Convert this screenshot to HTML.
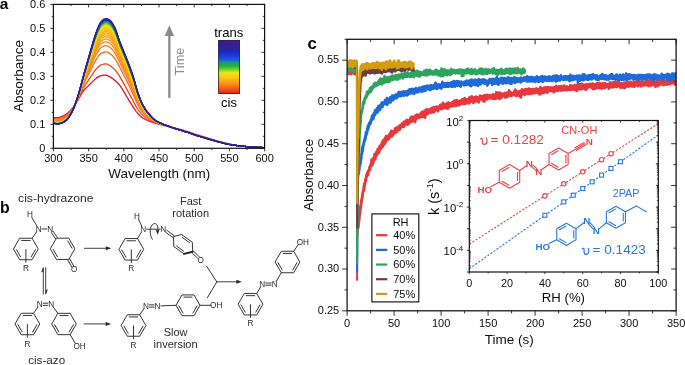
<!DOCTYPE html><html><head><meta charset="utf-8"><style>html,body{margin:0;padding:0;background:#fff;}svg{display:block;will-change:transform;} text{font-family:"Liberation Sans", sans-serif;}</style></head><body>
<svg width="685" height="365" viewBox="0 0 685 365">
<defs>
<clipPath id="clipA"><rect x="53.4" y="2.4" width="211.2" height="145.9"/></clipPath>
<clipPath id="clipC"><rect x="347.1" y="39.3" width="329" height="271.5"/></clipPath>
<clipPath id="clipI"><rect x="469.3" y="120.5" width="189" height="151.5"/></clipPath>
<linearGradient id="cbar" x1="0" y1="0" x2="0" y2="1"><stop offset="0" stop-color="#3f1d86"/><stop offset="0.1" stop-color="#33208f"/><stop offset="0.2" stop-color="#2326b0"/><stop offset="0.3" stop-color="#1b3be8"/><stop offset="0.37" stop-color="#1c62d8"/><stop offset="0.42" stop-color="#189a8a"/><stop offset="0.48" stop-color="#1fb432"/><stop offset="0.54" stop-color="#6ccc22"/><stop offset="0.61" stop-color="#e8e81a"/><stop offset="0.7" stop-color="#f8c812"/><stop offset="0.8" stop-color="#f89a16"/><stop offset="0.9" stop-color="#f26018"/><stop offset="0.97" stop-color="#ec3018"/><stop offset="1" stop-color="#e82416"/></linearGradient>
<linearGradient id="cbarb" x1="0" y1="0" x2="0" y2="1"><stop offset="0" stop-color="#241050"/><stop offset="0.5" stop-color="#104018"/><stop offset="1" stop-color="#800808"/></linearGradient>
</defs>
<rect width="685" height="365" fill="#fff"/>
<g clip-path="url(#clipA)">
<polyline points="53.4,117.6 54.1,117.6 54.81,117.6 55.51,117.6 56.22,117.6 56.92,117.6 57.62,117.6 58.33,117.54 59.03,117.38 59.74,117.15 60.44,116.88 61.14,116.59 61.85,116.32 62.55,116.04 63.26,115.74 63.96,115.41 64.66,115.05 65.37,114.66 66.07,114.23 66.78,113.76 67.48,113.21 68.18,112.59 68.89,111.91 69.59,111.19 70.3,110.44 71,109.68 71.7,108.9 72.41,108.09 73.11,107.23 73.82,106.32 74.52,105.38 75.22,104.39 75.93,103.31 76.63,102.18 77.34,101.02 78.04,99.83 78.74,98.65 79.45,97.44 80.15,96.17 80.86,94.88 81.56,93.63 82.26,92.48 82.97,91.46 83.67,90.58 84.38,89.77 85.08,89.02 85.78,88.3 86.49,87.61 87.19,86.9 87.9,86.21 88.6,85.53 89.3,84.88 90.01,84.22 90.71,83.55 91.42,82.85 92.12,82.11 92.82,81.35 93.53,80.62 94.23,79.95 94.94,79.33 95.64,78.73 96.34,78.16 97.05,77.64 97.75,77.19 98.46,76.8 99.16,76.42 99.86,76.09 100.57,75.81 101.27,75.63 101.98,75.5 102.68,75.39 103.38,75.29 104.09,75.22 104.79,75.17 105.5,75.15 106.2,75.23 106.9,75.43 107.61,75.73 108.31,76.09 109.02,76.46 109.72,76.83 110.42,77.2 111.13,77.62 111.83,78.07 112.54,78.56 113.24,79.07 113.94,79.61 114.65,80.17 115.35,80.76 116.06,81.39 116.76,82.04 117.46,82.74 118.17,83.48 118.87,84.26 119.58,85.09 120.28,86.01 120.98,87.04 121.69,88.13 122.39,89.28 123.1,90.46 123.8,91.64 124.5,92.82 125.21,93.96 125.91,95.11 126.62,96.29 127.32,97.48 128.02,98.67 128.73,99.86 129.43,101.04 130.14,102.19 130.84,103.32 131.54,104.45 132.25,105.6 132.95,106.73 133.66,107.86 134.36,108.94 135.06,109.98 135.77,110.95 136.47,111.85 137.18,112.68 137.88,113.5 138.58,114.28 139.29,115.03 139.99,115.74 140.7,116.39 141.4,116.98 142.1,117.51 142.81,117.97 143.51,118.41 144.22,118.81 144.92,119.2 145.62,119.56 146.33,119.9 147.03,120.22 147.74,120.53 148.44,120.82 149.14,121.11 149.85,121.38 150.55,121.65 151.26,121.91 151.96,122.16 152.66,122.39 153.37,122.62 154.07,122.84 154.78,123.05 155.48,123.26 156.18,123.46 156.89,123.66 157.59,123.86 158.3,124.05 159,124.23 159.7,124.41 160.41,124.59 161.11,124.76 161.82,124.93 162.52,125.1 163.22,125.27 163.93,125.43 164.63,125.6 165.34,125.77 166.04,125.94 166.74,126.11 167.45,126.28 168.15,126.45 168.86,126.61 169.56,126.78 170.26,126.95 170.97,127.13 171.67,127.3 172.38,127.48 173.08,127.66 173.78,127.83 174.49,128.01 175.19,128.19 175.9,128.37 176.6,128.55 177.3,128.74 178.01,128.93 178.71,129.11 179.42,129.3 180.12,129.49 180.82,129.68 181.53,129.88 182.23,130.07 182.94,130.27 183.64,130.47 184.34,130.67 185.05,130.87 185.75,131.08 186.46,131.3 187.16,131.51 187.86,131.74 188.57,131.97 189.27,132.21 189.98,132.45 190.68,132.7 191.38,132.94 192.09,133.19 192.79,133.44 193.5,133.68 194.2,133.91 194.9,134.14 195.61,134.36 196.31,134.59 197.02,134.81 197.72,135.03 198.42,135.24 199.13,135.46 199.83,135.68 200.54,135.89 201.24,136.11 201.94,136.33 202.65,136.55 203.35,136.77 204.06,136.99 204.76,137.22 205.46,137.44 206.17,137.67 206.87,137.89 207.58,138.12 208.28,138.34 208.98,138.56 209.69,138.78 210.39,139 211.1,139.21 211.8,139.43 212.5,139.64 213.21,139.84 213.91,140.05 214.62,140.26 215.32,140.46 216.02,140.67 216.73,140.87 217.43,141.07 218.14,141.26 218.84,141.45 219.54,141.64 220.25,141.82 220.95,142 221.66,142.18 222.36,142.36 223.06,142.53 223.77,142.7 224.47,142.87 225.18,143.03 225.88,143.2 226.58,143.36 227.29,143.52 227.99,143.68 228.7,143.83 229.4,143.98 230.1,144.14 230.81,144.29 231.51,144.45 232.22,144.6 232.92,144.75 233.62,144.9 234.33,145.05 235.03,145.19 235.74,145.32 236.44,145.44 237.14,145.56 237.85,145.66 238.55,145.76 239.26,145.85 239.96,145.93 240.66,146.01 241.37,146.09 242.07,146.17 242.78,146.24 243.48,146.31 244.18,146.38 244.89,146.44 245.59,146.5 246.3,146.56 247,146.62 247.7,146.68 248.41,146.74 249.11,146.79 249.82,146.85 250.52,146.9 251.22,146.96 251.93,147.01 252.63,147.06 253.34,147.1 254.04,147.15 254.74,147.19 255.45,147.23 256.15,147.27 256.86,147.31 257.56,147.34 258.26,147.37 258.97,147.41 259.67,147.44 260.38,147.47 261.08,147.5 261.78,147.53 262.49,147.55 263.19,147.57 263.9,147.58 264.6,147.58" fill="none" stroke="#e61926" stroke-width="1.35" stroke-linejoin="round" />
<polyline points="53.4,118.75 54.1,118.77 54.81,118.8 55.51,118.82 56.22,118.85 56.92,118.86 57.62,118.87 58.33,118.81 59.03,118.66 59.74,118.45 60.44,118.19 61.14,117.92 61.85,117.66 62.55,117.38 63.26,117.07 63.96,116.73 64.66,116.35 65.37,115.94 66.07,115.49 66.78,114.99 67.48,114.39 68.18,113.72 68.89,112.97 69.59,112.16 70.3,111.33 71,110.47 71.7,109.59 72.41,108.66 73.11,107.66 73.82,106.61 74.52,105.51 75.22,104.35 75.93,103.1 76.63,101.78 77.34,100.41 78.04,99.01 78.74,97.6 79.45,96.15 80.15,94.62 80.86,93.07 81.56,91.54 82.26,90.07 82.97,88.73 83.67,87.5 84.38,86.35 85.08,85.25 85.78,84.18 86.49,83.12 87.19,82.07 87.9,81.02 88.6,79.99 89.3,78.97 90.01,77.94 90.71,76.91 91.42,75.86 92.12,74.77 92.82,73.69 93.53,72.64 94.23,71.65 94.94,70.71 95.64,69.8 96.34,68.94 97.05,68.15 97.75,67.45 98.46,66.8 99.16,66.17 99.86,65.62 100.57,65.16 101.27,64.84 101.98,64.6 102.68,64.38 103.38,64.19 104.09,64.04 104.79,63.93 105.5,63.88 106.2,63.94 106.9,64.13 107.61,64.42 108.31,64.76 109.02,65.14 109.72,65.51 110.42,65.91 111.13,66.4 111.83,66.95 112.54,67.56 113.24,68.21 113.94,68.89 114.65,69.61 115.35,70.4 116.06,71.26 116.76,72.18 117.46,73.15 118.17,74.16 118.87,75.21 119.58,76.28 120.28,77.4 120.98,78.58 121.69,79.8 122.39,81.06 123.1,82.35 123.8,83.64 124.5,84.92 125.21,86.19 125.91,87.46 126.62,88.75 127.32,90.06 128.02,91.37 128.73,92.69 129.43,94.01 130.14,95.32 130.84,96.61 131.54,97.91 132.25,99.23 132.95,100.56 133.66,101.9 134.36,103.25 135.06,104.59 135.77,105.89 136.47,107.11 137.18,108.26 137.88,109.35 138.58,110.38 139.29,111.37 139.99,112.31 140.7,113.19 141.4,113.99 142.1,114.71 142.81,115.35 143.51,115.96 144.22,116.52 144.92,117.06 145.62,117.56 146.33,118.04 147.03,118.49 147.74,118.92 148.44,119.33 149.14,119.73 149.85,120.11 150.55,120.49 151.26,120.85 151.96,121.19 152.66,121.52 153.37,121.84 154.07,122.14 154.78,122.42 155.48,122.69 156.18,122.94 156.89,123.18 157.59,123.42 158.3,123.65 159,123.87 159.7,124.08 160.41,124.28 161.11,124.48 161.82,124.68 162.52,124.87 163.22,125.07 163.93,125.26 164.63,125.45 165.34,125.65 166.04,125.84 166.74,126.03 167.45,126.21 168.15,126.4 168.86,126.58 169.56,126.77 170.26,126.95 170.97,127.14 171.67,127.33 172.38,127.51 173.08,127.7 173.78,127.88 174.49,128.07 175.19,128.26 175.9,128.44 176.6,128.63 177.3,128.82 178.01,129.01 178.71,129.21 179.42,129.4 180.12,129.6 180.82,129.8 181.53,129.99 182.23,130.19 182.94,130.39 183.64,130.6 184.34,130.8 185.05,131.01 185.75,131.22 186.46,131.44 187.16,131.65 187.86,131.88 188.57,132.11 189.27,132.35 189.98,132.6 190.68,132.84 191.38,133.09 192.09,133.34 192.79,133.58 193.5,133.82 194.2,134.05 194.9,134.28 195.61,134.51 196.31,134.73 197.02,134.95 197.72,135.17 198.42,135.39 199.13,135.61 199.83,135.82 200.54,136.04 201.24,136.26 201.94,136.47 202.65,136.69 203.35,136.91 204.06,137.13 204.76,137.35 205.46,137.57 206.17,137.79 206.87,138.01 207.58,138.23 208.28,138.45 208.98,138.67 209.69,138.89 210.39,139.1 211.1,139.31 211.8,139.52 212.5,139.73 213.21,139.94 213.91,140.15 214.62,140.35 215.32,140.56 216.02,140.76 216.73,140.96 217.43,141.16 218.14,141.36 218.84,141.55 219.54,141.74 220.25,141.92 220.95,142.1 221.66,142.28 222.36,142.46 223.06,142.63 223.77,142.8 224.47,142.97 225.18,143.14 225.88,143.3 226.58,143.47 227.29,143.62 227.99,143.78 228.7,143.93 229.4,144.08 230.1,144.23 230.81,144.37 231.51,144.52 232.22,144.66 232.92,144.81 233.62,144.95 234.33,145.08 235.03,145.21 235.74,145.34 236.44,145.45 237.14,145.56 237.85,145.66 238.55,145.75 239.26,145.84 239.96,145.93 240.66,146.01 241.37,146.09 242.07,146.16 242.78,146.24 243.48,146.31 244.18,146.37 244.89,146.44 245.59,146.5 246.3,146.56 247,146.62 247.7,146.68 248.41,146.74 249.11,146.79 249.82,146.85 250.52,146.9 251.22,146.96 251.93,147.01 252.63,147.06 253.34,147.1 254.04,147.15 254.74,147.19 255.45,147.23 256.15,147.27 256.86,147.31 257.56,147.34 258.26,147.37 258.97,147.41 259.67,147.44 260.38,147.47 261.08,147.5 261.78,147.53 262.49,147.55 263.19,147.57 263.9,147.58 264.6,147.58" fill="none" stroke="#f04820" stroke-width="1.35" stroke-linejoin="round" />
<polyline points="53.4,119.97 54.1,120.02 54.81,120.07 55.51,120.12 56.22,120.17 56.92,120.2 57.62,120.21 58.33,120.16 59.03,120.03 59.74,119.83 60.44,119.59 61.14,119.34 61.85,119.09 62.55,118.81 63.26,118.49 63.96,118.14 64.66,117.74 65.37,117.3 66.07,116.82 66.78,116.29 67.48,115.65 68.18,114.91 68.89,114.09 69.59,113.2 70.3,112.27 71,111.31 71.7,110.33 72.41,109.26 73.11,108.12 73.82,106.91 74.52,105.64 75.22,104.31 75.93,102.88 76.63,101.35 77.34,99.76 78.04,98.13 78.74,96.49 79.45,94.78 80.15,92.98 80.86,91.14 81.56,89.31 82.26,87.52 82.97,85.82 83.67,84.24 84.38,82.72 85.08,81.24 85.78,79.79 86.49,78.35 87.19,76.92 87.9,75.49 88.6,74.08 89.3,72.68 90.01,71.27 90.71,69.85 91.42,68.41 92.12,66.97 92.82,65.53 93.53,64.15 94.23,62.83 94.94,61.55 95.64,60.31 96.34,59.13 97.05,58.05 97.75,57.08 98.46,56.16 99.16,55.27 99.86,54.48 100.57,53.82 101.27,53.35 101.98,53 102.68,52.68 103.38,52.39 104.09,52.15 104.79,51.98 105.5,51.9 106.2,51.94 106.9,52.11 107.61,52.38 108.31,52.72 109.02,53.09 109.72,53.47 110.42,53.91 111.13,54.47 111.83,55.12 112.54,55.86 113.24,56.66 113.94,57.5 114.65,58.38 115.35,59.37 116.06,60.49 116.76,61.68 117.46,62.95 118.17,64.26 118.87,65.58 119.58,66.91 120.28,68.24 120.98,69.58 121.69,70.94 122.39,72.32 123.1,73.72 123.8,75.12 124.5,76.52 125.21,77.92 125.91,79.32 126.62,80.73 127.32,82.16 128.02,83.61 128.73,85.07 129.43,86.54 130.14,88.01 130.84,89.47 131.54,90.95 132.25,92.46 132.95,94 133.66,95.57 134.36,97.2 135.06,98.86 135.77,100.49 136.47,102.07 137.18,103.55 137.88,104.93 138.58,106.23 139.29,107.48 139.99,108.66 140.7,109.78 141.4,110.81 142.1,111.74 142.81,112.57 143.51,113.35 144.22,114.09 144.92,114.78 145.62,115.44 146.33,116.06 147.03,116.65 147.74,117.21 148.44,117.75 149.14,118.26 149.85,118.76 150.55,119.25 151.26,119.72 151.96,120.17 152.66,120.6 153.37,121.01 154.07,121.39 154.78,121.75 155.48,122.08 156.18,122.38 156.89,122.68 157.59,122.96 158.3,123.22 159,123.48 159.7,123.72 160.41,123.95 161.11,124.18 161.82,124.41 162.52,124.63 163.22,124.85 163.93,125.07 164.63,125.29 165.34,125.51 166.04,125.72 166.74,125.93 167.45,126.14 168.15,126.35 168.86,126.55 169.56,126.75 170.26,126.95 170.97,127.16 171.67,127.35 172.38,127.55 173.08,127.75 173.78,127.94 174.49,128.13 175.19,128.33 175.9,128.52 176.6,128.72 177.3,128.91 178.01,129.11 178.71,129.31 179.42,129.51 180.12,129.71 180.82,129.92 181.53,130.12 182.23,130.32 182.94,130.53 183.64,130.73 184.34,130.94 185.05,131.15 185.75,131.37 186.46,131.59 187.16,131.81 187.86,132.03 188.57,132.27 189.27,132.51 189.98,132.75 190.68,133 191.38,133.24 192.09,133.49 192.79,133.73 193.5,133.97 194.2,134.21 194.9,134.43 195.61,134.66 196.31,134.88 197.02,135.11 197.72,135.33 198.42,135.54 199.13,135.76 199.83,135.98 200.54,136.2 201.24,136.41 201.94,136.63 202.65,136.84 203.35,137.06 204.06,137.28 204.76,137.49 205.46,137.71 206.17,137.93 206.87,138.14 207.58,138.36 208.28,138.57 208.98,138.78 209.69,139 210.39,139.21 211.1,139.42 211.8,139.62 212.5,139.83 213.21,140.04 213.91,140.24 214.62,140.45 215.32,140.66 216.02,140.86 216.73,141.06 217.43,141.26 218.14,141.46 218.84,141.65 219.54,141.84 220.25,142.02 220.95,142.2 221.66,142.38 222.36,142.56 223.06,142.74 223.77,142.91 224.47,143.08 225.18,143.25 225.88,143.42 226.58,143.58 227.29,143.74 227.99,143.89 228.7,144.04 229.4,144.18 230.1,144.32 230.81,144.46 231.51,144.6 232.22,144.73 232.92,144.86 233.62,144.99 234.33,145.12 235.03,145.24 235.74,145.35 236.44,145.46 237.14,145.57 237.85,145.66 238.55,145.75 239.26,145.84 239.96,145.92 240.66,146.01 241.37,146.08 242.07,146.16 242.78,146.23 243.48,146.3 244.18,146.37 244.89,146.44 245.59,146.5 246.3,146.56 247,146.62 247.7,146.68 248.41,146.74 249.11,146.79 249.82,146.85 250.52,146.9 251.22,146.96 251.93,147.01 252.63,147.06 253.34,147.1 254.04,147.15 254.74,147.19 255.45,147.23 256.15,147.27 256.86,147.31 257.56,147.34 258.26,147.37 258.97,147.41 259.67,147.44 260.38,147.47 261.08,147.5 261.78,147.53 262.49,147.55 263.19,147.57 263.9,147.58 264.6,147.58" fill="none" stroke="#f56c1c" stroke-width="1.35" stroke-linejoin="round" />
<polyline points="53.4,120.6 54.1,120.66 54.81,120.73 55.51,120.8 56.22,120.86 56.92,120.9 57.62,120.91 58.33,120.87 59.03,120.74 59.74,120.55 60.44,120.32 61.14,120.07 61.85,119.83 62.55,119.55 63.26,119.23 63.96,118.87 64.66,118.46 65.37,118.01 66.07,117.52 66.78,116.97 67.48,116.31 68.18,115.53 68.89,114.67 69.59,113.74 70.3,112.76 71,111.75 71.7,110.71 72.41,109.58 73.11,108.36 73.82,107.07 74.52,105.72 75.22,104.29 75.93,102.76 76.63,101.13 77.34,99.43 78.04,97.68 78.74,95.9 79.45,94.06 80.15,92.13 80.86,90.14 81.56,88.15 82.26,86.19 82.97,84.31 83.67,82.54 84.38,80.83 85.08,79.15 85.78,77.51 86.49,75.87 87.19,74.24 87.9,72.62 88.6,71.01 89.3,69.41 90.01,67.8 90.71,66.17 91.42,64.54 92.12,62.91 92.82,61.29 93.53,59.73 94.23,58.24 94.94,56.79 95.64,55.37 96.34,54.03 97.05,52.79 97.75,51.69 98.46,50.62 99.16,49.61 99.86,48.69 100.57,47.93 101.27,47.38 101.98,46.97 102.68,46.59 103.38,46.25 104.09,45.97 104.79,45.77 105.5,45.66 106.2,45.7 106.9,45.86 107.61,46.12 108.31,46.45 109.02,46.82 109.72,47.21 110.42,47.66 111.13,48.26 111.83,48.97 112.54,49.78 113.24,50.65 113.94,51.57 114.65,52.54 115.35,53.64 116.06,54.88 116.76,56.23 117.46,57.64 118.17,59.11 118.87,60.58 119.58,62.04 120.28,63.48 120.98,64.9 121.69,66.34 122.39,67.78 123.1,69.23 123.8,70.69 124.5,72.15 125.21,73.61 125.91,75.08 126.62,76.56 127.32,78.06 128.02,79.57 128.73,81.11 129.43,82.65 130.14,84.2 130.84,85.75 131.54,87.33 132.25,88.94 132.95,90.58 133.66,92.27 134.36,94.05 135.06,95.87 135.77,97.69 136.47,99.45 137.18,101.1 137.88,102.64 138.58,104.07 139.29,105.45 139.99,106.77 140.7,108.01 141.4,109.15 142.1,110.19 142.81,111.12 143.51,112 144.22,112.82 144.92,113.6 145.62,114.33 146.33,115.03 147.03,115.69 147.74,116.32 148.44,116.92 149.14,117.5 149.85,118.06 150.55,118.61 151.26,119.13 151.96,119.64 152.66,120.12 153.37,120.57 154.07,121 154.78,121.4 155.48,121.76 156.18,122.1 156.89,122.41 157.59,122.71 158.3,123 159,123.27 159.7,123.53 160.41,123.78 161.11,124.03 161.82,124.27 162.52,124.5 163.22,124.74 163.93,124.98 164.63,125.21 165.34,125.44 166.04,125.67 166.74,125.89 167.45,126.11 168.15,126.32 168.86,126.53 169.56,126.74 170.26,126.95 170.97,127.16 171.67,127.37 172.38,127.57 173.08,127.77 173.78,127.97 174.49,128.17 175.19,128.36 175.9,128.56 176.6,128.76 177.3,128.96 178.01,129.16 178.71,129.36 179.42,129.57 180.12,129.77 180.82,129.98 181.53,130.18 182.23,130.39 182.94,130.6 183.64,130.81 184.34,131.02 185.05,131.23 185.75,131.45 186.46,131.66 187.16,131.89 187.86,132.11 188.57,132.35 189.27,132.59 189.98,132.83 190.68,133.08 191.38,133.33 192.09,133.57 192.79,133.81 193.5,134.05 194.2,134.28 194.9,134.51 195.61,134.74 196.31,134.96 197.02,135.19 197.72,135.41 198.42,135.63 199.13,135.84 199.83,136.06 200.54,136.28 201.24,136.49 201.94,136.71 202.65,136.92 203.35,137.14 204.06,137.35 204.76,137.57 205.46,137.78 206.17,138 206.87,138.21 207.58,138.42 208.28,138.63 208.98,138.84 209.69,139.05 210.39,139.26 211.1,139.47 211.8,139.68 212.5,139.88 213.21,140.09 213.91,140.3 214.62,140.5 215.32,140.71 216.02,140.91 216.73,141.11 217.43,141.31 218.14,141.51 218.84,141.7 219.54,141.89 220.25,142.07 220.95,142.26 221.66,142.44 222.36,142.62 223.06,142.79 223.77,142.97 224.47,143.14 225.18,143.31 225.88,143.48 226.58,143.64 227.29,143.79 227.99,143.95 228.7,144.09 229.4,144.23 230.1,144.37 230.81,144.5 231.51,144.64 232.22,144.77 232.92,144.89 233.62,145.02 234.33,145.14 235.03,145.25 235.74,145.36 236.44,145.47 237.14,145.57 237.85,145.66 238.55,145.75 239.26,145.84 239.96,145.92 240.66,146 241.37,146.08 242.07,146.16 242.78,146.23 243.48,146.3 244.18,146.37 244.89,146.44 245.59,146.5 246.3,146.56 247,146.62 247.7,146.68 248.41,146.74 249.11,146.79 249.82,146.85 250.52,146.9 251.22,146.96 251.93,147.01 252.63,147.06 253.34,147.1 254.04,147.15 254.74,147.19 255.45,147.23 256.15,147.27 256.86,147.31 257.56,147.34 258.26,147.37 258.97,147.41 259.67,147.44 260.38,147.47 261.08,147.5 261.78,147.53 262.49,147.55 263.19,147.57 263.9,147.58 264.6,147.58" fill="none" stroke="#f67e19" stroke-width="1.35" stroke-linejoin="round" />
<polyline points="53.4,120.99 54.1,121.06 54.81,121.14 55.51,121.22 56.22,121.28 56.92,121.33 57.62,121.34 58.33,121.3 59.03,121.17 59.74,120.99 60.44,120.76 61.14,120.52 61.85,120.28 62.55,120.01 63.26,119.69 63.96,119.32 64.66,118.9 65.37,118.44 66.07,117.94 66.78,117.39 67.48,116.71 68.18,115.92 68.89,115.03 69.59,114.07 70.3,113.06 71,112.02 71.7,110.95 72.41,109.77 73.11,108.51 73.82,107.17 74.52,105.76 75.22,104.28 75.93,102.69 76.63,100.99 77.34,99.22 78.04,97.4 78.74,95.55 79.45,93.63 80.15,91.6 80.86,89.52 81.56,87.43 82.26,85.37 82.97,83.38 83.67,81.49 84.38,79.66 85.08,77.87 85.78,76.1 86.49,74.35 87.19,72.6 87.9,70.85 88.6,69.13 89.3,67.4 90.01,65.66 90.71,63.91 91.42,62.16 92.12,60.41 92.82,58.68 93.53,57.01 94.23,55.42 94.94,53.86 95.64,52.33 96.34,50.89 97.05,49.56 97.75,48.37 98.46,47.22 99.16,46.12 99.86,45.12 100.57,44.3 101.27,43.71 101.98,43.26 102.68,42.84 103.38,42.47 104.09,42.16 104.79,41.94 105.5,41.83 106.2,41.86 106.9,42.01 107.61,42.27 108.31,42.6 109.02,42.97 109.72,43.35 110.42,43.82 111.13,44.44 111.83,45.19 112.54,46.04 113.24,46.96 113.94,47.93 114.65,48.94 115.35,50.11 116.06,51.44 116.76,52.87 117.46,54.38 118.17,55.94 118.87,57.5 119.58,59.04 120.28,60.55 120.98,62.02 121.69,63.5 122.39,64.98 123.1,66.47 123.8,67.97 124.5,69.46 125.21,70.97 125.91,72.48 126.62,73.99 127.32,75.53 128.02,77.09 128.73,78.67 129.43,80.26 130.14,81.86 130.84,83.47 131.54,85.1 132.25,86.77 132.95,88.48 133.66,90.25 134.36,92.11 135.06,94.04 135.77,95.97 136.47,97.83 137.18,99.6 137.88,101.22 138.58,102.74 139.29,104.21 139.99,105.6 140.7,106.92 141.4,108.14 142.1,109.24 142.81,110.23 143.51,111.16 144.22,112.04 144.92,112.87 145.62,113.66 146.33,114.4 147.03,115.1 147.74,115.77 148.44,116.41 149.14,117.03 149.85,117.63 150.55,118.21 151.26,118.77 151.96,119.31 152.66,119.82 153.37,120.31 154.07,120.76 154.78,121.18 155.48,121.57 156.18,121.92 156.89,122.25 157.59,122.57 158.3,122.86 159,123.15 159.7,123.42 160.41,123.68 161.11,123.93 161.82,124.18 162.52,124.43 163.22,124.67 163.93,124.92 164.63,125.16 165.34,125.4 166.04,125.63 166.74,125.86 167.45,126.08 168.15,126.3 168.86,126.52 169.56,126.74 170.26,126.95 170.97,127.17 171.67,127.38 172.38,127.58 173.08,127.78 173.78,127.99 174.49,128.19 175.19,128.39 175.9,128.59 176.6,128.79 177.3,128.99 178.01,129.19 178.71,129.4 179.42,129.6 180.12,129.81 180.82,130.02 181.53,130.22 182.23,130.43 182.94,130.64 183.64,130.85 184.34,131.06 185.05,131.28 185.75,131.49 186.46,131.71 187.16,131.94 187.86,132.16 188.57,132.4 189.27,132.64 189.98,132.88 190.68,133.13 191.38,133.37 192.09,133.62 192.79,133.86 193.5,134.1 194.2,134.33 194.9,134.56 195.61,134.79 196.31,135.01 197.02,135.23 197.72,135.46 198.42,135.67 199.13,135.89 199.83,136.11 200.54,136.33 201.24,136.54 201.94,136.76 202.65,136.97 203.35,137.19 204.06,137.4 204.76,137.61 205.46,137.83 206.17,138.04 206.87,138.25 207.58,138.46 208.28,138.67 208.98,138.88 209.69,139.09 210.39,139.3 211.1,139.5 211.8,139.71 212.5,139.91 213.21,140.12 213.91,140.33 214.62,140.53 215.32,140.74 216.02,140.94 216.73,141.14 217.43,141.34 218.14,141.54 218.84,141.73 219.54,141.92 220.25,142.11 220.95,142.29 221.66,142.47 222.36,142.65 223.06,142.83 223.77,143 224.47,143.18 225.18,143.35 225.88,143.51 226.58,143.67 227.29,143.83 227.99,143.98 228.7,144.13 229.4,144.27 230.1,144.4 230.81,144.53 231.51,144.66 232.22,144.79 232.92,144.91 233.62,145.03 234.33,145.15 235.03,145.26 235.74,145.37 236.44,145.47 237.14,145.57 237.85,145.66 238.55,145.75 239.26,145.84 239.96,145.92 240.66,146 241.37,146.08 242.07,146.16 242.78,146.23 243.48,146.3 244.18,146.37 244.89,146.44 245.59,146.5 246.3,146.56 247,146.62 247.7,146.68 248.41,146.74 249.11,146.79 249.82,146.85 250.52,146.9 251.22,146.96 251.93,147.01 252.63,147.06 253.34,147.1 254.04,147.15 254.74,147.19 255.45,147.23 256.15,147.27 256.86,147.31 257.56,147.34 258.26,147.37 258.97,147.41 259.67,147.44 260.38,147.47 261.08,147.5 261.78,147.53 262.49,147.55 263.19,147.57 263.9,147.58 264.6,147.58" fill="none" stroke="#f78a17" stroke-width="1.35" stroke-linejoin="round" />
<polyline points="53.4,121.28 54.1,121.36 54.81,121.45 55.51,121.53 56.22,121.6 56.92,121.65 57.62,121.67 58.33,121.62 59.03,121.5 59.74,121.32 60.44,121.1 61.14,120.86 61.85,120.63 62.55,120.35 63.26,120.03 63.96,119.66 64.66,119.24 65.37,118.77 66.07,118.26 66.78,117.7 67.48,117.01 68.18,116.2 68.89,115.3 69.59,114.32 70.3,113.29 71,112.22 71.7,111.12 72.41,109.92 73.11,108.62 73.82,107.24 74.52,105.79 75.22,104.27 75.93,102.63 76.63,100.89 77.34,99.07 78.04,97.19 78.74,95.28 79.45,93.3 80.15,91.21 80.86,89.06 81.56,86.9 82.26,84.76 82.97,82.69 83.67,80.71 84.38,78.79 85.08,76.91 85.78,75.05 86.49,73.2 87.19,71.36 87.9,69.53 88.6,67.71 89.3,65.89 90.01,64.06 90.71,62.22 91.42,60.37 92.12,58.53 92.82,56.73 93.53,54.97 94.23,53.3 94.94,51.66 95.64,50.05 96.34,48.53 97.05,47.14 97.75,45.88 98.46,44.67 99.16,43.5 99.86,42.45 100.57,41.58 101.27,40.95 101.98,40.48 102.68,40.03 103.38,39.63 104.09,39.31 104.79,39.08 105.5,38.95 106.2,38.97 106.9,39.13 107.61,39.38 108.31,39.71 109.02,40.07 109.72,40.46 110.42,40.94 111.13,41.58 111.83,42.35 112.54,43.23 113.24,44.19 113.94,45.19 114.65,46.25 115.35,47.47 116.06,48.85 116.76,50.35 117.46,51.93 118.17,53.56 118.87,55.19 119.58,56.79 120.28,58.35 120.98,59.86 121.69,61.37 122.39,62.89 123.1,64.4 123.8,65.92 124.5,67.45 125.21,68.98 125.91,70.52 126.62,72.07 127.32,73.64 128.02,75.22 128.73,76.84 129.43,78.47 130.14,80.11 130.84,81.75 131.54,83.43 132.25,85.15 132.95,86.91 133.66,88.73 134.36,90.66 135.06,92.66 135.77,94.67 136.47,96.62 137.18,98.47 137.88,100.16 138.58,101.74 139.29,103.27 139.99,104.73 140.7,106.1 141.4,107.37 142.1,108.53 142.81,109.57 143.51,110.54 144.22,111.46 144.92,112.33 145.62,113.15 146.33,113.92 147.03,114.66 147.74,115.36 148.44,116.03 149.14,116.68 149.85,117.3 150.55,117.91 151.26,118.5 151.96,119.06 152.66,119.6 153.37,120.11 154.07,120.58 154.78,121.02 155.48,121.42 156.18,121.79 156.89,122.13 157.59,122.45 158.3,122.76 159,123.05 159.7,123.33 160.41,123.6 161.11,123.86 161.82,124.12 162.52,124.37 163.22,124.62 163.93,124.87 164.63,125.12 165.34,125.36 166.04,125.6 166.74,125.84 167.45,126.07 168.15,126.29 168.86,126.52 169.56,126.74 170.26,126.95 170.97,127.17 171.67,127.38 172.38,127.59 173.08,127.8 173.78,128 174.49,128.2 175.19,128.4 175.9,128.6 176.6,128.81 177.3,129.01 178.01,129.21 178.71,129.42 179.42,129.63 180.12,129.84 180.82,130.04 181.53,130.25 182.23,130.46 182.94,130.67 183.64,130.88 184.34,131.09 185.05,131.31 185.75,131.53 186.46,131.75 187.16,131.97 187.86,132.2 188.57,132.44 189.27,132.68 189.98,132.92 190.68,133.17 191.38,133.41 192.09,133.66 192.79,133.9 193.5,134.14 194.2,134.37 194.9,134.6 195.61,134.83 196.31,135.05 197.02,135.27 197.72,135.49 198.42,135.71 199.13,135.93 199.83,136.15 200.54,136.36 201.24,136.58 201.94,136.79 202.65,137.01 203.35,137.22 204.06,137.44 204.76,137.65 205.46,137.86 206.17,138.07 206.87,138.28 207.58,138.49 208.28,138.7 208.98,138.91 209.69,139.12 210.39,139.32 211.1,139.53 211.8,139.73 212.5,139.94 213.21,140.14 213.91,140.35 214.62,140.56 215.32,140.76 216.02,140.97 216.73,141.17 217.43,141.37 218.14,141.57 218.84,141.76 219.54,141.95 220.25,142.13 220.95,142.31 221.66,142.49 222.36,142.67 223.06,142.85 223.77,143.03 224.47,143.2 225.18,143.37 225.88,143.54 226.58,143.7 227.29,143.86 227.99,144.01 228.7,144.15 229.4,144.29 230.1,144.42 230.81,144.55 231.51,144.68 232.22,144.8 232.92,144.93 233.62,145.04 234.33,145.16 235.03,145.27 235.74,145.37 236.44,145.47 237.14,145.57 237.85,145.66 238.55,145.75 239.26,145.84 239.96,145.92 240.66,146 241.37,146.08 242.07,146.15 242.78,146.23 243.48,146.3 244.18,146.37 244.89,146.44 245.59,146.5 246.3,146.56 247,146.62 247.7,146.68 248.41,146.74 249.11,146.79 249.82,146.85 250.52,146.9 251.22,146.96 251.93,147.01 252.63,147.06 253.34,147.1 254.04,147.15 254.74,147.19 255.45,147.23 256.15,147.27 256.86,147.31 257.56,147.34 258.26,147.37 258.97,147.41 259.67,147.44 260.38,147.47 261.08,147.5 261.78,147.53 262.49,147.55 263.19,147.57 263.9,147.58 264.6,147.58" fill="none" stroke="#f89416" stroke-width="1.35" stroke-linejoin="round" />
<polyline points="53.4,121.53 54.1,121.61 54.81,121.7 55.51,121.79 56.22,121.86 56.92,121.92 57.62,121.94 58.33,121.89 59.03,121.77 59.74,121.59 60.44,121.38 61.14,121.15 61.85,120.91 62.55,120.64 63.26,120.31 63.96,119.94 64.66,119.51 65.37,119.04 66.07,118.53 66.78,117.96 67.48,117.26 68.18,116.44 68.89,115.52 69.59,114.53 70.3,113.48 71,112.39 71.7,111.27 72.41,110.04 73.11,108.72 73.82,107.3 74.52,105.82 75.22,104.26 75.93,102.59 76.63,100.8 77.34,98.94 78.04,97.01 78.74,95.05 79.45,93.02 80.15,90.88 80.86,88.68 81.56,86.45 82.26,84.25 82.97,82.1 83.67,80.05 84.38,78.06 85.08,76.11 85.78,74.17 86.49,72.25 87.19,70.33 87.9,68.42 88.6,66.53 89.3,64.64 90.01,62.73 90.71,60.8 91.42,58.88 92.12,56.97 92.82,55.09 93.53,53.28 94.23,51.54 94.94,49.82 95.64,48.16 96.34,46.57 97.05,45.12 97.75,43.81 98.46,42.54 99.16,41.32 99.86,40.22 100.57,39.31 101.27,38.65 101.98,38.16 102.68,37.69 103.38,37.27 104.09,36.93 104.79,36.68 105.5,36.55 106.2,36.57 106.9,36.72 107.61,36.97 108.31,37.3 109.02,37.66 109.72,38.05 110.42,38.54 111.13,39.19 111.83,39.99 112.54,40.89 113.24,41.88 113.94,42.91 114.65,44 115.35,45.26 116.06,46.7 116.76,48.25 117.46,49.89 118.17,51.58 118.87,53.27 119.58,54.92 120.28,56.52 120.98,58.06 121.69,59.6 122.39,61.14 123.1,62.68 123.8,64.22 124.5,65.77 125.21,67.33 125.91,68.89 126.62,70.47 127.32,72.06 128.02,73.67 128.73,75.31 129.43,76.97 130.14,78.64 130.84,80.32 131.54,82.04 132.25,83.79 132.95,85.59 133.66,87.46 134.36,89.45 135.06,91.52 135.77,93.59 136.47,95.61 137.18,97.53 137.88,99.28 138.58,100.91 139.29,102.49 139.99,104 140.7,105.42 141.4,106.74 142.1,107.93 142.81,109.01 143.51,110.02 144.22,110.97 144.92,111.87 145.62,112.72 146.33,113.53 147.03,114.29 147.74,115.02 148.44,115.72 149.14,116.38 149.85,117.03 150.55,117.67 151.26,118.28 151.96,118.86 152.66,119.42 153.37,119.94 154.07,120.43 154.78,120.88 155.48,121.3 156.18,121.67 156.89,122.03 157.59,122.36 158.3,122.68 159,122.97 159.7,123.26 160.41,123.53 161.11,123.8 161.82,124.06 162.52,124.32 163.22,124.58 163.93,124.84 164.63,125.09 165.34,125.34 166.04,125.58 166.74,125.82 167.45,126.05 168.15,126.28 168.86,126.51 169.56,126.73 170.26,126.95 170.97,127.17 171.67,127.39 172.38,127.6 173.08,127.81 173.78,128.01 174.49,128.21 175.19,128.42 175.9,128.62 176.6,128.82 177.3,129.03 178.01,129.23 178.71,129.44 179.42,129.65 180.12,129.86 180.82,130.07 181.53,130.28 182.23,130.49 182.94,130.7 183.64,130.91 184.34,131.12 185.05,131.34 185.75,131.56 186.46,131.78 187.16,132 187.86,132.23 188.57,132.47 189.27,132.71 189.98,132.95 190.68,133.2 191.38,133.44 192.09,133.69 192.79,133.93 193.5,134.17 194.2,134.4 194.9,134.63 195.61,134.86 196.31,135.08 197.02,135.3 197.72,135.52 198.42,135.74 199.13,135.96 199.83,136.18 200.54,136.39 201.24,136.61 201.94,136.82 202.65,137.04 203.35,137.25 204.06,137.47 204.76,137.68 205.46,137.89 206.17,138.1 206.87,138.31 207.58,138.52 208.28,138.72 208.98,138.93 209.69,139.14 210.39,139.34 211.1,139.55 211.8,139.75 212.5,139.96 213.21,140.16 213.91,140.37 214.62,140.58 215.32,140.78 216.02,140.99 216.73,141.19 217.43,141.39 218.14,141.59 218.84,141.78 219.54,141.97 220.25,142.15 220.95,142.33 221.66,142.51 222.36,142.7 223.06,142.87 223.77,143.05 224.47,143.22 225.18,143.39 225.88,143.56 226.58,143.72 227.29,143.88 227.99,144.03 228.7,144.17 229.4,144.31 230.1,144.44 230.81,144.57 231.51,144.7 232.22,144.82 232.92,144.94 233.62,145.05 234.33,145.16 235.03,145.27 235.74,145.38 236.44,145.48 237.14,145.57 237.85,145.66 238.55,145.75 239.26,145.84 239.96,145.92 240.66,146 241.37,146.08 242.07,146.15 242.78,146.23 243.48,146.3 244.18,146.37 244.89,146.44 245.59,146.5 246.3,146.56 247,146.62 247.7,146.68 248.41,146.74 249.11,146.79 249.82,146.85 250.52,146.9 251.22,146.96 251.93,147.01 252.63,147.06 253.34,147.1 254.04,147.15 254.74,147.19 255.45,147.23 256.15,147.27 256.86,147.31 257.56,147.34 258.26,147.37 258.97,147.41 259.67,147.44 260.38,147.47 261.08,147.5 261.78,147.53 262.49,147.55 263.19,147.57 263.9,147.58 264.6,147.58" fill="none" stroke="#f99d15" stroke-width="1.35" stroke-linejoin="round" />
<polyline points="53.4,121.72 54.1,121.81 54.81,121.9 55.51,122 56.22,122.08 56.92,122.13 57.62,122.15 58.33,122.11 59.03,121.99 59.74,121.82 60.44,121.6 61.14,121.37 61.85,121.14 62.55,120.87 63.26,120.54 63.96,120.16 64.66,119.74 65.37,119.26 66.07,118.74 66.78,118.17 67.48,117.46 68.18,116.64 68.89,115.7 69.59,114.69 70.3,113.63 71,112.53 71.7,111.39 72.41,110.14 73.11,108.79 73.82,107.35 74.52,105.84 75.22,104.26 75.93,102.55 76.63,100.73 77.34,98.83 78.04,96.87 78.74,94.88 79.45,92.8 80.15,90.62 80.86,88.37 81.56,86.09 82.26,83.84 82.97,81.64 83.67,79.53 84.38,77.48 85.08,75.46 85.78,73.47 86.49,71.49 87.19,69.51 87.9,67.54 88.6,65.58 89.3,63.63 90.01,61.66 90.71,59.67 91.42,57.69 92.12,55.72 92.82,53.79 93.53,51.92 94.23,50.13 94.94,48.36 95.64,46.64 96.34,45 97.05,43.5 97.75,42.15 98.46,40.84 99.16,39.58 99.86,38.44 100.57,37.5 101.27,36.82 101.98,36.3 102.68,35.81 103.38,35.38 104.09,35.03 104.79,34.77 105.5,34.64 106.2,34.65 106.9,34.8 107.61,35.05 108.31,35.37 109.02,35.74 109.72,36.13 110.42,36.62 111.13,37.28 111.83,38.09 112.54,39.02 113.24,40.03 113.94,41.09 114.65,42.2 115.35,43.5 116.06,44.97 116.76,46.57 117.46,48.26 118.17,49.99 118.87,51.73 119.58,53.42 120.28,55.05 120.98,56.62 121.69,58.18 122.39,59.74 123.1,61.29 123.8,62.85 124.5,64.43 125.21,66.01 125.91,67.59 126.62,69.18 127.32,70.79 128.02,72.43 128.73,74.09 129.43,75.78 130.14,77.47 130.84,79.18 131.54,80.92 132.25,82.71 132.95,84.54 133.66,86.45 134.36,88.48 135.06,90.6 135.77,92.73 136.47,94.81 137.18,96.77 137.88,98.58 138.58,100.25 139.29,101.87 139.99,103.41 140.7,104.87 141.4,106.23 142.1,107.46 142.81,108.56 143.51,109.6 144.22,110.58 144.92,111.51 145.62,112.38 146.33,113.21 147.03,114 147.74,114.75 148.44,115.46 149.14,116.15 149.85,116.82 150.55,117.47 151.26,118.09 151.96,118.7 152.66,119.27 153.37,119.81 154.07,120.31 154.78,120.78 155.48,121.2 156.18,121.59 156.89,121.95 157.59,122.29 158.3,122.61 159,122.91 159.7,123.2 160.41,123.48 161.11,123.75 161.82,124.02 162.52,124.28 163.22,124.54 163.93,124.81 164.63,125.06 165.34,125.32 166.04,125.56 166.74,125.8 167.45,126.04 168.15,126.27 168.86,126.5 169.56,126.73 170.26,126.95 170.97,127.18 171.67,127.39 172.38,127.6 173.08,127.81 173.78,128.02 174.49,128.22 175.19,128.43 175.9,128.63 176.6,128.84 177.3,129.04 178.01,129.25 178.71,129.46 179.42,129.67 180.12,129.88 180.82,130.09 181.53,130.3 182.23,130.51 182.94,130.72 183.64,130.93 184.34,131.15 185.05,131.36 185.75,131.58 186.46,131.8 187.16,132.03 187.86,132.26 188.57,132.49 189.27,132.73 189.98,132.98 190.68,133.22 191.38,133.47 192.09,133.71 192.79,133.95 193.5,134.19 194.2,134.43 194.9,134.65 195.61,134.88 196.31,135.1 197.02,135.33 197.72,135.55 198.42,135.77 199.13,135.99 199.83,136.2 200.54,136.42 201.24,136.63 201.94,136.85 202.65,137.06 203.35,137.28 204.06,137.49 204.76,137.7 205.46,137.91 206.17,138.12 206.87,138.33 207.58,138.54 208.28,138.74 208.98,138.95 209.69,139.16 210.39,139.36 211.1,139.57 211.8,139.77 212.5,139.97 213.21,140.18 213.91,140.39 214.62,140.59 215.32,140.8 216.02,141 216.73,141.2 217.43,141.4 218.14,141.6 218.84,141.79 219.54,141.98 220.25,142.17 220.95,142.35 221.66,142.53 222.36,142.71 223.06,142.89 223.77,143.07 224.47,143.24 225.18,143.41 225.88,143.58 226.58,143.74 227.29,143.9 227.99,144.05 228.7,144.19 229.4,144.33 230.1,144.46 230.81,144.58 231.51,144.71 232.22,144.83 232.92,144.95 233.62,145.06 234.33,145.17 235.03,145.28 235.74,145.38 236.44,145.48 237.14,145.57 237.85,145.66 238.55,145.75 239.26,145.83 239.96,145.92 240.66,146 241.37,146.08 242.07,146.15 242.78,146.23 243.48,146.3 244.18,146.37 244.89,146.43 245.59,146.5 246.3,146.56 247,146.62 247.7,146.68 248.41,146.74 249.11,146.79 249.82,146.85 250.52,146.9 251.22,146.96 251.93,147.01 252.63,147.06 253.34,147.1 254.04,147.15 254.74,147.19 255.45,147.23 256.15,147.27 256.86,147.31 257.56,147.34 258.26,147.37 258.97,147.41 259.67,147.44 260.38,147.47 261.08,147.5 261.78,147.53 262.49,147.55 263.19,147.57 263.9,147.58 264.6,147.58" fill="none" stroke="#f9a414" stroke-width="1.35" stroke-linejoin="round" />
<polyline points="53.4,121.89 54.1,121.98 54.81,122.08 55.51,122.18 56.22,122.26 56.92,122.32 57.62,122.34 58.33,122.3 59.03,122.18 59.74,122.01 60.44,121.8 61.14,121.57 61.85,121.34 62.55,121.07 63.26,120.74 63.96,120.36 64.66,119.93 65.37,119.45 66.07,118.93 66.78,118.35 67.48,117.64 68.18,116.8 68.89,115.86 69.59,114.84 70.3,113.76 71,112.65 71.7,111.49 72.41,110.22 73.11,108.85 73.82,107.4 74.52,105.86 75.22,104.25 75.93,102.52 76.63,100.67 77.34,98.74 78.04,96.75 78.74,94.72 79.45,92.61 80.15,90.39 80.86,88.1 81.56,85.78 82.26,83.48 82.97,81.23 83.67,79.07 84.38,76.97 85.08,74.9 85.78,72.85 86.49,70.82 87.19,68.79 87.9,66.77 88.6,64.76 89.3,62.75 90.01,60.72 90.71,58.69 91.42,56.65 92.12,54.63 92.82,52.65 93.53,50.73 94.23,48.89 94.94,47.08 95.64,45.31 96.34,43.63 97.05,42.09 97.75,40.7 98.46,39.35 99.16,38.05 99.86,36.88 100.57,35.91 101.27,35.21 101.98,34.68 102.68,34.18 103.38,33.73 104.09,33.36 104.79,33.1 105.5,32.96 106.2,32.97 106.9,33.12 107.61,33.36 108.31,33.68 109.02,34.05 109.72,34.44 110.42,34.93 111.13,35.61 111.83,36.44 112.54,37.38 113.24,38.41 113.94,39.49 114.65,40.63 115.35,41.96 116.06,43.46 116.76,45.1 117.46,46.83 118.17,48.6 118.87,50.38 119.58,52.11 120.28,53.77 120.98,55.36 121.69,56.94 122.39,58.52 123.1,60.09 123.8,61.66 124.5,63.25 125.21,64.85 125.91,66.45 126.62,68.06 127.32,69.69 128.02,71.34 128.73,73.03 129.43,74.73 130.14,76.45 130.84,78.18 131.54,79.95 132.25,81.76 132.95,83.62 133.66,85.56 134.36,87.63 135.06,89.8 135.77,91.98 136.47,94.1 137.18,96.12 137.88,97.96 138.58,99.67 139.29,101.32 139.99,102.9 140.7,104.4 141.4,105.78 142.1,107.04 142.81,108.18 143.51,109.24 144.22,110.24 144.92,111.19 145.62,112.09 146.33,112.94 147.03,113.74 147.74,114.51 148.44,115.24 149.14,115.94 149.85,116.63 150.55,117.29 151.26,117.94 151.96,118.55 152.66,119.14 153.37,119.69 154.07,120.21 154.78,120.68 155.48,121.12 156.18,121.51 156.89,121.88 157.59,122.22 158.3,122.55 159,122.86 159.7,123.15 160.41,123.44 161.11,123.71 161.82,123.98 162.52,124.25 163.22,124.51 163.93,124.78 164.63,125.04 165.34,125.3 166.04,125.55 166.74,125.79 167.45,126.03 168.15,126.27 168.86,126.5 169.56,126.73 170.26,126.95 170.97,127.18 171.67,127.4 172.38,127.61 173.08,127.82 173.78,128.03 174.49,128.23 175.19,128.44 175.9,128.64 176.6,128.85 177.3,129.05 178.01,129.26 178.71,129.47 179.42,129.68 180.12,129.89 180.82,130.1 181.53,130.31 182.23,130.53 182.94,130.74 183.64,130.95 184.34,131.17 185.05,131.38 185.75,131.6 186.46,131.82 187.16,132.05 187.86,132.28 188.57,132.51 189.27,132.76 189.98,133 190.68,133.24 191.38,133.49 192.09,133.73 192.79,133.98 193.5,134.21 194.2,134.45 194.9,134.68 195.61,134.9 196.31,135.13 197.02,135.35 197.72,135.57 198.42,135.79 199.13,136.01 199.83,136.23 200.54,136.44 201.24,136.66 201.94,136.87 202.65,137.08 203.35,137.3 204.06,137.51 204.76,137.72 205.46,137.93 206.17,138.14 206.87,138.35 207.58,138.55 208.28,138.76 208.98,138.97 209.69,139.17 210.39,139.38 211.1,139.58 211.8,139.78 212.5,139.99 213.21,140.19 213.91,140.4 214.62,140.61 215.32,140.81 216.02,141.02 216.73,141.22 217.43,141.42 218.14,141.62 218.84,141.81 219.54,142 220.25,142.18 220.95,142.36 221.66,142.55 222.36,142.73 223.06,142.91 223.77,143.08 224.47,143.26 225.18,143.43 225.88,143.59 226.58,143.76 227.29,143.91 227.99,144.06 228.7,144.21 229.4,144.34 230.1,144.47 230.81,144.6 231.51,144.72 232.22,144.84 232.92,144.95 233.62,145.07 234.33,145.17 235.03,145.28 235.74,145.38 236.44,145.48 237.14,145.57 237.85,145.66 238.55,145.75 239.26,145.83 239.96,145.92 240.66,146 241.37,146.08 242.07,146.15 242.78,146.23 243.48,146.3 244.18,146.37 244.89,146.43 245.59,146.5 246.3,146.56 247,146.62 247.7,146.68 248.41,146.74 249.11,146.79 249.82,146.85 250.52,146.9 251.22,146.96 251.93,147.01 252.63,147.06 253.34,147.1 254.04,147.15 254.74,147.19 255.45,147.23 256.15,147.27 256.86,147.31 257.56,147.34 258.26,147.37 258.97,147.41 259.67,147.44 260.38,147.47 261.08,147.5 261.78,147.53 262.49,147.55 263.19,147.57 263.9,147.58 264.6,147.58" fill="none" stroke="#faab13" stroke-width="1.35" stroke-linejoin="round" />
<polyline points="53.4,122.04 54.1,122.13 54.81,122.24 55.51,122.33 56.22,122.42 56.92,122.48 57.62,122.5 58.33,122.46 59.03,122.34 59.74,122.17 60.44,121.97 61.14,121.74 61.85,121.51 62.55,121.24 63.26,120.91 63.96,120.53 64.66,120.1 65.37,119.62 66.07,119.09 66.78,118.51 67.48,117.79 68.18,116.95 68.89,116 69.59,114.96 70.3,113.87 71,112.75 71.7,111.58 72.41,110.3 73.11,108.91 73.82,107.43 74.52,105.88 75.22,104.25 75.93,102.49 76.63,100.62 77.34,98.66 78.04,96.64 78.74,94.59 79.45,92.45 80.15,90.19 80.86,87.87 81.56,85.51 82.26,83.17 82.97,80.88 83.67,78.68 84.38,76.54 85.08,74.42 85.78,72.33 86.49,70.25 87.19,68.17 87.9,66.11 88.6,64.05 89.3,62 90.01,59.92 90.71,57.84 91.42,55.76 92.12,53.69 92.82,51.67 93.53,49.71 94.23,47.83 94.94,45.98 95.64,44.17 96.34,42.45 97.05,40.88 97.75,39.46 98.46,38.07 99.16,36.74 99.86,35.54 100.57,34.55 101.27,33.83 101.98,33.28 102.68,32.77 103.38,32.31 104.09,31.94 104.79,31.67 105.5,31.52 106.2,31.53 106.9,31.67 107.61,31.92 108.31,32.24 109.02,32.6 109.72,33 110.42,33.49 111.13,34.18 111.83,35.02 112.54,35.98 113.24,37.02 113.94,38.13 114.65,39.28 115.35,40.63 116.06,42.17 116.76,43.84 117.46,45.61 118.17,47.42 118.87,49.22 119.58,50.99 120.28,52.67 120.98,54.28 121.69,55.88 122.39,57.47 123.1,59.05 123.8,60.64 124.5,62.24 125.21,63.86 125.91,65.47 126.62,67.1 127.32,68.74 128.02,70.41 128.73,72.11 129.43,73.84 130.14,75.57 130.84,77.32 131.54,79.11 132.25,80.95 132.95,82.84 133.66,84.8 134.36,86.91 135.06,89.11 135.77,91.33 136.47,93.5 137.18,95.55 137.88,97.43 138.58,99.17 139.29,100.86 139.99,102.47 140.7,103.99 141.4,105.4 142.1,106.69 142.81,107.84 143.51,108.92 144.22,109.95 144.92,110.91 145.62,111.83 146.33,112.7 147.03,113.52 147.74,114.3 148.44,115.05 149.14,115.77 149.85,116.47 150.55,117.15 151.26,117.8 151.96,118.43 152.66,119.03 153.37,119.59 154.07,120.12 154.78,120.6 155.48,121.04 156.18,121.44 156.89,121.81 157.59,122.17 158.3,122.5 159,122.81 159.7,123.11 160.41,123.4 161.11,123.67 161.82,123.95 162.52,124.22 163.22,124.49 163.93,124.76 164.63,125.02 165.34,125.28 166.04,125.53 166.74,125.78 167.45,126.02 168.15,126.26 168.86,126.5 169.56,126.73 170.26,126.95 170.97,127.18 171.67,127.4 172.38,127.61 173.08,127.82 173.78,128.03 174.49,128.24 175.19,128.45 175.9,128.65 176.6,128.86 177.3,129.06 178.01,129.27 178.71,129.48 179.42,129.7 180.12,129.91 180.82,130.12 181.53,130.33 182.23,130.54 182.94,130.75 183.64,130.97 184.34,131.18 185.05,131.4 185.75,131.62 186.46,131.84 187.16,132.07 187.86,132.3 188.57,132.53 189.27,132.77 189.98,133.02 190.68,133.26 191.38,133.51 192.09,133.75 192.79,133.99 193.5,134.23 194.2,134.46 194.9,134.69 195.61,134.92 196.31,135.14 197.02,135.37 197.72,135.59 198.42,135.81 199.13,136.03 199.83,136.24 200.54,136.46 201.24,136.68 201.94,136.89 202.65,137.1 203.35,137.32 204.06,137.53 204.76,137.74 205.46,137.95 206.17,138.16 206.87,138.36 207.58,138.57 208.28,138.77 208.98,138.98 209.69,139.18 210.39,139.39 211.1,139.59 211.8,139.8 212.5,140 213.21,140.21 213.91,140.41 214.62,140.62 215.32,140.82 216.02,141.03 216.73,141.23 217.43,141.43 218.14,141.63 218.84,141.82 219.54,142.01 220.25,142.19 220.95,142.38 221.66,142.56 222.36,142.74 223.06,142.92 223.77,143.1 224.47,143.27 225.18,143.44 225.88,143.61 226.58,143.77 227.29,143.93 227.99,144.08 228.7,144.22 229.4,144.35 230.1,144.48 230.81,144.61 231.51,144.73 232.22,144.85 232.92,144.96 233.62,145.07 234.33,145.18 235.03,145.28 235.74,145.38 236.44,145.48 237.14,145.57 237.85,145.66 238.55,145.75 239.26,145.83 239.96,145.92 240.66,146 241.37,146.08 242.07,146.15 242.78,146.23 243.48,146.3 244.18,146.37 244.89,146.43 245.59,146.5 246.3,146.56 247,146.62 247.7,146.68 248.41,146.74 249.11,146.79 249.82,146.85 250.52,146.9 251.22,146.96 251.93,147.01 252.63,147.06 253.34,147.1 254.04,147.15 254.74,147.19 255.45,147.23 256.15,147.27 256.86,147.31 257.56,147.34 258.26,147.37 258.97,147.41 259.67,147.44 260.38,147.47 261.08,147.5 261.78,147.53 262.49,147.55 263.19,147.57 263.9,147.58 264.6,147.58" fill="none" stroke="#fab112" stroke-width="1.35" stroke-linejoin="round" />
<polyline points="53.4,122.16 54.1,122.26 54.81,122.36 55.51,122.46 56.22,122.55 56.92,122.61 57.62,122.64 58.33,122.6 59.03,122.48 59.74,122.31 60.44,122.11 61.14,121.88 61.85,121.65 62.55,121.38 63.26,121.05 63.96,120.67 64.66,120.23 65.37,119.75 66.07,119.22 66.78,118.64 67.48,117.92 68.18,117.07 68.89,116.11 69.59,115.07 70.3,113.97 71,112.83 71.7,111.65 72.41,110.36 73.11,108.96 73.82,107.46 74.52,105.89 75.22,104.24 75.93,102.47 76.63,100.58 77.34,98.6 78.04,96.56 78.74,94.47 79.45,92.31 80.15,90.03 80.86,87.67 81.56,85.29 82.26,82.92 82.97,80.59 83.67,78.35 84.38,76.17 85.08,74.02 85.78,71.89 86.49,69.77 87.19,67.66 87.9,65.55 88.6,63.46 89.3,61.37 90.01,59.25 90.71,57.13 91.42,55.01 92.12,52.91 92.82,50.85 93.53,48.86 94.23,46.95 94.94,45.06 95.64,43.22 96.34,41.47 97.05,39.87 97.75,38.42 98.46,37.01 99.16,35.65 99.86,34.43 100.57,33.41 101.27,32.68 101.98,32.12 102.68,31.6 103.38,31.13 104.09,30.75 104.79,30.47 105.5,30.32 106.2,30.33 106.9,30.47 107.61,30.71 108.31,31.03 109.02,31.4 109.72,31.79 110.42,32.29 111.13,32.99 111.83,33.84 112.54,34.81 113.24,35.87 113.94,36.99 114.65,38.16 115.35,39.53 116.06,41.09 116.76,42.79 117.46,44.59 118.17,46.42 118.87,48.26 119.58,50.05 120.28,51.75 120.98,53.38 121.69,54.99 122.39,56.59 123.1,58.19 123.8,59.79 124.5,61.4 125.21,63.03 125.91,64.66 126.62,66.3 127.32,67.95 128.02,69.63 128.73,71.35 129.43,73.09 130.14,74.84 130.84,76.61 131.54,78.42 132.25,80.27 132.95,82.18 133.66,84.16 134.36,86.3 135.06,88.53 135.77,90.79 136.47,92.99 137.18,95.08 137.88,96.99 138.58,98.75 139.29,100.47 139.99,102.1 140.7,103.65 141.4,105.08 142.1,106.39 142.81,107.56 143.51,108.66 144.22,109.7 144.92,110.69 145.62,111.62 146.33,112.5 147.03,113.34 147.74,114.13 148.44,114.89 149.14,115.62 149.85,116.33 150.55,117.02 151.26,117.69 151.96,118.33 152.66,118.94 153.37,119.51 154.07,120.04 154.78,120.53 155.48,120.98 156.18,121.39 156.89,121.76 157.59,122.12 158.3,122.45 159,122.77 159.7,123.07 160.41,123.36 161.11,123.64 161.82,123.92 162.52,124.19 163.22,124.47 163.93,124.74 164.63,125.01 165.34,125.27 166.04,125.52 166.74,125.77 167.45,126.02 168.15,126.26 168.86,126.49 169.56,126.73 170.26,126.95 170.97,127.18 171.67,127.4 172.38,127.62 173.08,127.83 173.78,128.04 174.49,128.25 175.19,128.45 175.9,128.66 176.6,128.86 177.3,129.07 178.01,129.28 178.71,129.49 179.42,129.71 180.12,129.92 180.82,130.13 181.53,130.34 182.23,130.55 182.94,130.77 183.64,130.98 184.34,131.2 185.05,131.41 185.75,131.63 186.46,131.86 187.16,132.08 187.86,132.31 188.57,132.55 189.27,132.79 189.98,133.03 190.68,133.28 191.38,133.52 192.09,133.77 192.79,134.01 193.5,134.25 194.2,134.48 194.9,134.71 195.61,134.94 196.31,135.16 197.02,135.38 197.72,135.6 198.42,135.82 199.13,136.04 199.83,136.26 200.54,136.48 201.24,136.69 201.94,136.9 202.65,137.12 203.35,137.33 204.06,137.54 204.76,137.75 205.46,137.96 206.17,138.17 206.87,138.38 207.58,138.58 208.28,138.79 208.98,138.99 209.69,139.2 210.39,139.4 211.1,139.6 211.8,139.81 212.5,140.01 213.21,140.22 213.91,140.42 214.62,140.63 215.32,140.83 216.02,141.04 216.73,141.24 217.43,141.44 218.14,141.64 218.84,141.83 219.54,142.02 220.25,142.2 220.95,142.39 221.66,142.57 222.36,142.75 223.06,142.93 223.77,143.11 224.47,143.28 225.18,143.45 225.88,143.62 226.58,143.78 227.29,143.94 227.99,144.09 228.7,144.23 229.4,144.36 230.1,144.49 230.81,144.62 231.51,144.74 232.22,144.85 232.92,144.97 233.62,145.08 234.33,145.18 235.03,145.29 235.74,145.38 236.44,145.48 237.14,145.57 237.85,145.66 238.55,145.75 239.26,145.83 239.96,145.92 240.66,146 241.37,146.08 242.07,146.15 242.78,146.23 243.48,146.3 244.18,146.37 244.89,146.43 245.59,146.5 246.3,146.56 247,146.62 247.7,146.68 248.41,146.74 249.11,146.79 249.82,146.85 250.52,146.9 251.22,146.96 251.93,147.01 252.63,147.06 253.34,147.1 254.04,147.15 254.74,147.19 255.45,147.23 256.15,147.27 256.86,147.31 257.56,147.34 258.26,147.37 258.97,147.41 259.67,147.44 260.38,147.47 261.08,147.5 261.78,147.53 262.49,147.55 263.19,147.57 263.9,147.58 264.6,147.58" fill="none" stroke="#fab712" stroke-width="1.35" stroke-linejoin="round" />
<polyline points="53.4,122.28 54.1,122.38 54.81,122.49 55.51,122.6 56.22,122.69 56.92,122.75 57.62,122.77 58.33,122.73 59.03,122.62 59.74,122.45 60.44,122.25 61.14,122.02 61.85,121.8 62.55,121.52 63.26,121.19 63.96,120.81 64.66,120.37 65.37,119.89 66.07,119.36 66.78,118.77 67.48,118.04 68.18,117.19 68.89,116.22 69.59,115.17 70.3,114.06 71,112.92 71.7,111.73 72.41,110.42 73.11,109 73.82,107.49 74.52,105.9 75.22,104.24 75.93,102.45 76.63,100.54 77.34,98.54 78.04,96.47 78.74,94.36 79.45,92.17 80.15,89.86 80.86,87.48 81.56,85.07 82.26,82.66 82.97,80.3 83.67,78.03 84.38,75.81 85.08,73.62 85.78,71.45 86.49,69.29 87.19,67.14 87.9,65 88.6,62.87 89.3,60.74 90.01,58.59 90.71,56.43 91.42,54.27 92.12,52.13 92.82,50.04 93.53,48.01 94.23,46.07 94.94,44.14 95.64,42.27 96.34,40.49 97.05,38.86 97.75,37.38 98.46,35.94 99.16,34.56 99.86,33.32 100.57,32.28 101.27,31.53 101.98,30.96 102.68,30.43 103.38,29.95 104.09,29.56 104.79,29.27 105.5,29.12 106.2,29.13 106.9,29.27 107.61,29.51 108.31,29.83 109.02,30.19 109.72,30.59 110.42,31.09 111.13,31.79 111.83,32.65 112.54,33.64 113.24,34.71 113.94,35.85 114.65,37.03 115.35,38.43 116.06,40.02 116.76,41.74 117.46,43.57 118.17,45.43 118.87,47.3 119.58,49.11 120.28,50.84 120.98,52.48 121.69,54.11 122.39,55.72 123.1,57.33 123.8,58.94 124.5,60.56 125.21,62.2 125.91,63.84 126.62,65.49 127.32,67.16 128.02,68.86 128.73,70.59 129.43,72.34 130.14,74.11 130.84,75.9 131.54,77.72 132.25,79.59 132.95,81.52 133.66,83.53 134.36,85.7 135.06,87.96 135.77,90.25 136.47,92.49 137.18,94.61 137.88,96.54 138.58,98.34 139.29,100.08 139.99,101.74 140.7,103.31 141.4,104.76 142.1,106.09 142.81,107.28 143.51,108.4 144.22,109.46 144.92,110.46 145.62,111.41 146.33,112.3 147.03,113.15 147.74,113.96 148.44,114.73 149.14,115.47 149.85,116.2 150.55,116.9 151.26,117.58 151.96,118.23 152.66,118.84 153.37,119.42 154.07,119.97 154.78,120.47 155.48,120.92 156.18,121.33 156.89,121.71 157.59,122.07 158.3,122.41 159,122.73 159.7,123.04 160.41,123.33 161.11,123.61 161.82,123.89 162.52,124.17 163.22,124.44 163.93,124.72 164.63,124.99 165.34,125.25 166.04,125.51 166.74,125.76 167.45,126.01 168.15,126.25 168.86,126.49 169.56,126.72 170.26,126.95 170.97,127.18 171.67,127.4 172.38,127.62 173.08,127.83 173.78,128.04 174.49,128.25 175.19,128.46 175.9,128.67 176.6,128.87 177.3,129.08 178.01,129.29 178.71,129.5 179.42,129.72 180.12,129.93 180.82,130.14 181.53,130.35 182.23,130.57 182.94,130.78 183.64,130.99 184.34,131.21 185.05,131.43 185.75,131.65 186.46,131.87 187.16,132.1 187.86,132.33 188.57,132.56 189.27,132.8 189.98,133.05 190.68,133.29 191.38,133.54 192.09,133.78 192.79,134.02 193.5,134.26 194.2,134.5 194.9,134.72 195.61,134.95 196.31,135.18 197.02,135.4 197.72,135.62 198.42,135.84 199.13,136.06 199.83,136.28 200.54,136.49 201.24,136.71 201.94,136.92 202.65,137.13 203.35,137.35 204.06,137.56 204.76,137.77 205.46,137.97 206.17,138.18 206.87,138.39 207.58,138.59 208.28,138.8 208.98,139 209.69,139.21 210.39,139.41 211.1,139.61 211.8,139.82 212.5,140.02 213.21,140.23 213.91,140.43 214.62,140.64 215.32,140.84 216.02,141.05 216.73,141.25 217.43,141.45 218.14,141.65 218.84,141.84 219.54,142.03 220.25,142.21 220.95,142.4 221.66,142.58 222.36,142.76 223.06,142.94 223.77,143.12 224.47,143.29 225.18,143.46 225.88,143.63 226.58,143.79 227.29,143.95 227.99,144.1 228.7,144.24 229.4,144.37 230.1,144.5 230.81,144.62 231.51,144.74 232.22,144.86 232.92,144.97 233.62,145.08 234.33,145.19 235.03,145.29 235.74,145.39 236.44,145.48 237.14,145.57 237.85,145.66 238.55,145.75 239.26,145.83 239.96,145.92 240.66,146 241.37,146.07 242.07,146.15 242.78,146.23 243.48,146.3 244.18,146.37 244.89,146.43 245.59,146.5 246.3,146.56 247,146.62 247.7,146.68 248.41,146.74 249.11,146.79 249.82,146.85 250.52,146.9 251.22,146.96 251.93,147.01 252.63,147.06 253.34,147.1 254.04,147.15 254.74,147.19 255.45,147.23 256.15,147.27 256.86,147.31 257.56,147.34 258.26,147.37 258.97,147.41 259.67,147.44 260.38,147.47 261.08,147.5 261.78,147.53 262.49,147.55 263.19,147.57 263.9,147.58 264.6,147.58" fill="none" stroke="#fac013" stroke-width="1.35" stroke-linejoin="round" />
<polyline points="53.4,122.38 54.1,122.48 54.81,122.59 55.51,122.7 56.22,122.79 56.92,122.86 57.62,122.88 58.33,122.84 59.03,122.73 59.74,122.56 60.44,122.36 61.14,122.14 61.85,121.91 62.55,121.64 63.26,121.31 63.96,120.92 64.66,120.48 65.37,120 66.07,119.47 66.78,118.87 67.48,118.14 68.18,117.28 68.89,116.31 69.59,115.25 70.3,114.14 71,112.98 71.7,111.78 72.41,110.47 73.11,109.04 73.82,107.52 74.52,105.92 75.22,104.24 75.93,102.43 76.63,100.5 77.34,98.48 78.04,96.4 78.74,94.27 79.45,92.06 80.15,89.73 80.86,87.33 81.56,84.89 82.26,82.46 82.97,80.07 83.67,77.77 84.38,75.52 85.08,73.3 85.78,71.1 86.49,68.91 87.19,66.73 87.9,64.56 88.6,62.4 89.3,60.24 90.01,58.05 90.71,55.86 91.42,53.67 92.12,51.51 92.82,49.39 93.53,47.33 94.23,45.36 94.94,43.41 95.64,41.51 96.34,39.71 97.05,38.05 97.75,36.56 98.46,35.09 99.16,33.69 99.86,32.42 100.57,31.37 101.27,30.62 101.98,30.04 102.68,29.49 103.38,29.01 104.09,28.61 104.79,28.32 105.5,28.16 106.2,28.17 106.9,28.31 107.61,28.55 108.31,28.86 109.02,29.23 109.72,29.62 110.42,30.13 111.13,30.84 111.83,31.71 112.54,32.7 113.24,33.79 113.94,34.94 114.65,36.14 115.35,37.55 116.06,39.15 116.76,40.9 117.46,42.75 118.17,44.64 118.87,46.53 119.58,48.36 120.28,50.1 120.98,51.76 121.69,53.4 122.39,55.02 123.1,56.64 123.8,58.26 124.5,59.89 125.21,61.54 125.91,63.19 126.62,64.85 127.32,66.53 128.02,68.24 128.73,69.98 129.43,71.74 130.14,73.52 130.84,75.33 131.54,77.16 132.25,79.05 132.95,81 133.66,83.02 134.36,85.21 135.06,87.5 135.77,89.82 136.47,92.09 137.18,94.23 137.88,96.19 138.58,98.01 139.29,99.76 139.99,101.45 140.7,103.03 141.4,104.51 142.1,105.85 142.81,107.06 143.51,108.19 144.22,109.27 144.92,110.28 145.62,111.24 146.33,112.14 147.03,113.01 147.74,113.83 148.44,114.61 149.14,115.36 149.85,116.09 150.55,116.8 151.26,117.49 151.96,118.14 152.66,118.77 153.37,119.36 154.07,119.91 154.78,120.41 155.48,120.87 156.18,121.29 156.89,121.67 157.59,122.04 158.3,122.38 159,122.7 159.7,123.01 160.41,123.3 161.11,123.59 161.82,123.87 162.52,124.15 163.22,124.43 163.93,124.71 164.63,124.98 165.34,125.24 166.04,125.5 166.74,125.76 167.45,126 168.15,126.25 168.86,126.49 169.56,126.72 170.26,126.95 170.97,127.18 171.67,127.41 172.38,127.62 173.08,127.84 173.78,128.05 174.49,128.26 175.19,128.47 175.9,128.67 176.6,128.88 177.3,129.09 178.01,129.3 178.71,129.51 179.42,129.73 180.12,129.94 180.82,130.15 181.53,130.36 182.23,130.58 182.94,130.79 183.64,131.01 184.34,131.22 185.05,131.44 185.75,131.66 186.46,131.88 187.16,132.11 187.86,132.34 188.57,132.58 189.27,132.82 189.98,133.06 190.68,133.31 191.38,133.55 192.09,133.8 192.79,134.04 193.5,134.27 194.2,134.51 194.9,134.74 195.61,134.96 196.31,135.19 197.02,135.41 197.72,135.63 198.42,135.85 199.13,136.07 199.83,136.29 200.54,136.5 201.24,136.72 201.94,136.93 202.65,137.15 203.35,137.36 204.06,137.57 204.76,137.78 205.46,137.99 206.17,138.19 206.87,138.4 207.58,138.6 208.28,138.81 208.98,139.01 209.69,139.22 210.39,139.42 211.1,139.62 211.8,139.82 212.5,140.03 213.21,140.23 213.91,140.44 214.62,140.65 215.32,140.85 216.02,141.06 216.73,141.26 217.43,141.46 218.14,141.66 218.84,141.85 219.54,142.04 220.25,142.22 220.95,142.4 221.66,142.59 222.36,142.77 223.06,142.95 223.77,143.13 224.47,143.3 225.18,143.47 225.88,143.64 226.58,143.8 227.29,143.96 227.99,144.11 228.7,144.25 229.4,144.38 230.1,144.51 230.81,144.63 231.51,144.75 232.22,144.87 232.92,144.98 233.62,145.08 234.33,145.19 235.03,145.29 235.74,145.39 236.44,145.48 237.14,145.57 237.85,145.66 238.55,145.75 239.26,145.83 239.96,145.92 240.66,146 241.37,146.07 242.07,146.15 242.78,146.22 243.48,146.3 244.18,146.37 244.89,146.43 245.59,146.5 246.3,146.56 247,146.62 247.7,146.68 248.41,146.74 249.11,146.79 249.82,146.85 250.52,146.9 251.22,146.96 251.93,147.01 252.63,147.06 253.34,147.1 254.04,147.15 254.74,147.19 255.45,147.23 256.15,147.27 256.86,147.31 257.56,147.34 258.26,147.37 258.97,147.41 259.67,147.44 260.38,147.47 261.08,147.5 261.78,147.53 262.49,147.55 263.19,147.57 263.9,147.58 264.6,147.58" fill="none" stroke="#fac613" stroke-width="1.35" stroke-linejoin="round" />
<polyline points="53.4,122.48 54.1,122.58 54.81,122.69 55.51,122.8 56.22,122.9 56.92,122.96 57.62,122.99 58.33,122.95 59.03,122.84 59.74,122.67 60.44,122.47 61.14,122.25 61.85,122.02 62.55,121.75 63.26,121.42 63.96,121.03 64.66,120.6 65.37,120.11 66.07,119.57 66.78,118.98 67.48,118.24 68.18,117.38 68.89,116.4 69.59,115.34 70.3,114.21 71,113.05 71.7,111.84 72.41,110.52 73.11,109.08 73.82,107.54 74.52,105.93 75.22,104.23 75.93,102.41 76.63,100.47 77.34,98.43 78.04,96.33 78.74,94.18 79.45,91.95 80.15,89.6 80.86,87.17 81.56,84.71 82.26,82.25 82.97,79.84 83.67,77.5 84.38,75.23 85.08,72.98 85.78,70.75 86.49,68.53 87.19,66.32 87.9,64.12 88.6,61.93 89.3,59.73 90.01,57.52 90.71,55.3 91.42,53.08 92.12,50.88 92.82,48.73 93.53,46.65 94.23,44.65 94.94,42.68 95.64,40.75 96.34,38.92 97.05,37.24 97.75,35.73 98.46,34.24 99.16,32.82 99.86,31.53 100.57,30.47 101.27,29.7 101.98,29.11 102.68,28.56 103.38,28.06 104.09,27.66 104.79,27.36 105.5,27.2 106.2,27.21 106.9,27.35 107.61,27.59 108.31,27.9 109.02,28.27 109.72,28.66 110.42,29.17 111.13,29.88 111.83,30.76 112.54,31.77 113.24,32.87 113.94,34.02 114.65,35.24 115.35,36.67 116.06,38.29 116.76,40.06 117.46,41.93 118.17,43.85 118.87,45.76 119.58,47.61 120.28,49.37 120.98,51.04 121.69,52.69 122.39,54.32 123.1,55.95 123.8,57.57 124.5,59.22 125.21,60.88 125.91,62.54 126.62,64.21 127.32,65.9 128.02,67.61 128.73,69.37 129.43,71.15 130.14,72.94 130.84,74.75 131.54,76.61 132.25,78.51 132.95,80.47 133.66,82.52 134.36,84.73 135.06,87.04 135.77,89.39 136.47,91.68 137.18,93.86 137.88,95.84 138.58,97.67 139.29,99.45 139.99,101.15 140.7,102.76 141.4,104.25 142.1,105.62 142.81,106.84 143.51,107.99 144.22,109.07 144.92,110.1 145.62,111.07 146.33,111.99 147.03,112.86 147.74,113.69 148.44,114.48 149.14,115.24 149.85,115.98 150.55,116.7 151.26,117.39 151.96,118.06 152.66,118.7 153.37,119.29 154.07,119.85 154.78,120.36 155.48,120.82 156.18,121.24 156.89,121.63 157.59,122 158.3,122.34 159,122.67 159.7,122.98 160.41,123.28 161.11,123.57 161.82,123.85 162.52,124.13 163.22,124.41 163.93,124.69 164.63,124.96 165.34,125.23 166.04,125.49 166.74,125.75 167.45,126 168.15,126.24 168.86,126.48 169.56,126.72 170.26,126.95 170.97,127.18 171.67,127.41 172.38,127.63 173.08,127.84 173.78,128.05 174.49,128.26 175.19,128.47 175.9,128.68 176.6,128.89 177.3,129.1 178.01,129.31 178.71,129.52 179.42,129.73 180.12,129.95 180.82,130.16 181.53,130.37 182.23,130.59 182.94,130.8 183.64,131.02 184.34,131.23 185.05,131.45 185.75,131.67 186.46,131.9 187.16,132.12 187.86,132.35 188.57,132.59 189.27,132.83 189.98,133.07 190.68,133.32 191.38,133.56 192.09,133.81 192.79,134.05 193.5,134.29 194.2,134.52 194.9,134.75 195.61,134.98 196.31,135.2 197.02,135.42 197.72,135.64 198.42,135.86 199.13,136.08 199.83,136.3 200.54,136.52 201.24,136.73 201.94,136.94 202.65,137.16 203.35,137.37 204.06,137.58 204.76,137.79 205.46,138 206.17,138.2 206.87,138.41 207.58,138.61 208.28,138.82 208.98,139.02 209.69,139.22 210.39,139.43 211.1,139.63 211.8,139.83 212.5,140.04 213.21,140.24 213.91,140.45 214.62,140.65 215.32,140.86 216.02,141.06 216.73,141.27 217.43,141.47 218.14,141.66 218.84,141.86 219.54,142.05 220.25,142.23 220.95,142.41 221.66,142.6 222.36,142.78 223.06,142.96 223.77,143.14 224.47,143.31 225.18,143.48 225.88,143.65 226.58,143.81 227.29,143.97 227.99,144.12 228.7,144.26 229.4,144.39 230.1,144.52 230.81,144.64 231.51,144.76 232.22,144.87 232.92,144.98 233.62,145.09 234.33,145.19 235.03,145.29 235.74,145.39 236.44,145.48 237.14,145.57 237.85,145.66 238.55,145.75 239.26,145.83 239.96,145.91 240.66,146 241.37,146.07 242.07,146.15 242.78,146.22 243.48,146.3 244.18,146.37 244.89,146.43 245.59,146.5 246.3,146.56 247,146.62 247.7,146.68 248.41,146.74 249.11,146.79 249.82,146.85 250.52,146.9 251.22,146.96 251.93,147.01 252.63,147.06 253.34,147.1 254.04,147.15 254.74,147.19 255.45,147.23 256.15,147.27 256.86,147.31 257.56,147.34 258.26,147.37 258.97,147.41 259.67,147.44 260.38,147.47 261.08,147.5 261.78,147.53 262.49,147.55 263.19,147.57 263.9,147.58 264.6,147.58" fill="none" stroke="#facd14" stroke-width="1.35" stroke-linejoin="round" />
<polyline points="53.4,122.58 54.1,122.68 54.81,122.8 55.51,122.91 56.22,123 56.92,123.07 57.62,123.1 58.33,123.05 59.03,122.94 59.74,122.78 60.44,122.58 61.14,122.36 61.85,122.14 62.55,121.87 63.26,121.53 63.96,121.15 64.66,120.71 65.37,120.22 66.07,119.68 66.78,119.08 67.48,118.35 68.18,117.47 68.89,116.49 69.59,115.42 70.3,114.29 71,113.12 71.7,111.9 72.41,110.56 73.11,109.11 73.82,107.57 74.52,105.94 75.22,104.23 75.93,102.39 76.63,100.43 77.34,98.38 78.04,96.26 78.74,94.09 79.45,91.84 80.15,89.47 80.86,87.02 81.56,84.53 82.26,82.05 82.97,79.61 83.67,77.24 84.38,74.94 85.08,72.66 85.78,70.4 86.49,68.15 87.19,65.91 87.9,63.68 88.6,61.45 89.3,59.23 90.01,56.99 90.71,54.73 91.42,52.48 92.12,50.26 92.82,48.08 93.53,45.97 94.23,43.95 94.94,41.94 95.64,39.99 96.34,38.14 97.05,36.43 97.75,34.9 98.46,33.39 99.16,31.94 99.86,30.64 100.57,29.56 101.27,28.78 101.98,28.18 102.68,27.62 103.38,27.12 104.09,26.71 104.79,26.41 105.5,26.25 106.2,26.25 106.9,26.39 107.61,26.62 108.31,26.94 109.02,27.3 109.72,27.7 110.42,28.21 111.13,28.93 111.83,29.81 112.54,30.83 113.24,31.94 113.94,33.11 114.65,34.34 115.35,35.78 116.06,37.43 116.76,39.23 117.46,41.12 118.17,43.06 118.87,44.99 119.58,46.86 120.28,48.64 120.98,50.32 121.69,51.98 122.39,53.62 123.1,55.26 123.8,56.89 124.5,58.55 125.21,60.22 125.91,61.89 126.62,63.57 127.32,65.27 128.02,66.99 128.73,68.76 129.43,70.55 130.14,72.35 130.84,74.18 131.54,76.05 132.25,77.97 132.95,79.95 133.66,82.01 134.36,84.24 135.06,86.58 135.77,88.96 136.47,91.28 137.18,93.48 137.88,95.48 138.58,97.34 139.29,99.14 139.99,100.86 140.7,102.49 141.4,104 142.1,105.38 142.81,106.62 143.51,107.78 144.22,108.88 144.92,109.91 145.62,110.9 146.33,111.83 147.03,112.71 147.74,113.55 148.44,114.35 149.14,115.12 149.85,115.87 150.55,116.6 151.26,117.3 151.96,117.98 152.66,118.62 153.37,119.23 154.07,119.79 154.78,120.31 155.48,120.77 156.18,121.2 156.89,121.59 157.59,121.96 158.3,122.31 159,122.64 159.7,122.95 160.41,123.25 161.11,123.54 161.82,123.83 162.52,124.11 163.22,124.39 163.93,124.68 164.63,124.95 165.34,125.22 166.04,125.48 166.74,125.74 167.45,125.99 168.15,126.24 168.86,126.48 169.56,126.72 170.26,126.95 170.97,127.19 171.67,127.41 172.38,127.63 173.08,127.85 173.78,128.06 174.49,128.27 175.19,128.48 175.9,128.68 176.6,128.89 177.3,129.1 178.01,129.31 178.71,129.53 179.42,129.74 180.12,129.96 180.82,130.17 181.53,130.38 182.23,130.6 182.94,130.81 183.64,131.03 184.34,131.24 185.05,131.46 185.75,131.68 186.46,131.91 187.16,132.13 187.86,132.36 188.57,132.6 189.27,132.84 189.98,133.09 190.68,133.33 191.38,133.58 192.09,133.82 192.79,134.06 193.5,134.3 194.2,134.53 194.9,134.76 195.61,134.99 196.31,135.21 197.02,135.44 197.72,135.66 198.42,135.88 199.13,136.1 199.83,136.31 200.54,136.53 201.24,136.74 201.94,136.96 202.65,137.17 203.35,137.38 204.06,137.59 204.76,137.8 205.46,138.01 206.17,138.21 206.87,138.42 207.58,138.62 208.28,138.83 208.98,139.03 209.69,139.23 210.39,139.44 211.1,139.64 211.8,139.84 212.5,140.04 213.21,140.25 213.91,140.46 214.62,140.66 215.32,140.87 216.02,141.07 216.73,141.27 217.43,141.47 218.14,141.67 218.84,141.87 219.54,142.05 220.25,142.24 220.95,142.42 221.66,142.6 222.36,142.79 223.06,142.97 223.77,143.14 224.47,143.32 225.18,143.49 225.88,143.66 226.58,143.82 227.29,143.98 227.99,144.12 228.7,144.27 229.4,144.4 230.1,144.52 230.81,144.65 231.51,144.76 232.22,144.88 232.92,144.99 233.62,145.09 234.33,145.19 235.03,145.29 235.74,145.39 236.44,145.48 237.14,145.57 237.85,145.66 238.55,145.75 239.26,145.83 239.96,145.91 240.66,145.99 241.37,146.07 242.07,146.15 242.78,146.22 243.48,146.3 244.18,146.37 244.89,146.43 245.59,146.5 246.3,146.56 247,146.62 247.7,146.68 248.41,146.74 249.11,146.79 249.82,146.85 250.52,146.9 251.22,146.96 251.93,147.01 252.63,147.06 253.34,147.1 254.04,147.15 254.74,147.19 255.45,147.23 256.15,147.27 256.86,147.31 257.56,147.34 258.26,147.37 258.97,147.41 259.67,147.44 260.38,147.47 261.08,147.5 261.78,147.53 262.49,147.55 263.19,147.57 263.9,147.58 264.6,147.58" fill="none" stroke="#f5d816" stroke-width="1.35" stroke-linejoin="round" />
<polyline points="53.4,122.67 54.1,122.78 54.81,122.9 55.51,123.01 56.22,123.11 56.92,123.18 57.62,123.2 58.33,123.16 59.03,123.05 59.74,122.89 60.44,122.69 61.14,122.48 61.85,122.25 62.55,121.98 63.26,121.65 63.96,121.26 64.66,120.82 65.37,120.32 66.07,119.79 66.78,119.19 67.48,118.45 68.18,117.57 68.89,116.58 69.59,115.5 70.3,114.36 71,113.19 71.7,111.96 72.41,110.61 73.11,109.15 73.82,107.59 74.52,105.95 75.22,104.23 75.93,102.37 76.63,100.4 77.34,98.33 78.04,96.19 78.74,94 79.45,91.73 80.15,89.34 80.86,86.87 81.56,84.35 82.26,81.84 82.97,79.37 83.67,76.98 84.38,74.65 85.08,72.34 85.78,70.04 86.49,67.77 87.19,65.5 87.9,63.23 88.6,60.98 89.3,58.73 90.01,56.45 90.71,54.17 91.42,51.89 92.12,49.63 92.82,47.43 93.53,45.3 94.23,43.24 94.94,41.21 95.64,39.23 96.34,37.35 97.05,35.62 97.75,34.07 98.46,32.54 99.16,31.07 99.86,29.75 100.57,28.65 101.27,27.86 101.98,27.25 102.68,26.68 103.38,26.17 104.09,25.75 104.79,25.45 105.5,25.29 106.2,25.29 106.9,25.42 107.61,25.66 108.31,25.97 109.02,26.34 109.72,26.73 110.42,27.25 111.13,27.97 111.83,28.87 112.54,29.9 113.24,31.02 113.94,32.2 114.65,33.44 115.35,34.9 116.06,36.57 116.76,38.39 117.46,40.3 118.17,42.26 118.87,44.22 119.58,46.11 120.28,47.9 120.98,49.6 121.69,51.27 122.39,52.92 123.1,54.57 123.8,56.21 124.5,57.87 125.21,59.56 125.91,61.24 126.62,62.93 127.32,64.64 128.02,66.37 128.73,68.15 129.43,69.95 130.14,71.77 130.84,73.61 131.54,75.49 132.25,77.43 132.95,79.42 133.66,81.5 134.36,83.76 135.06,86.13 135.77,88.53 136.47,90.88 137.18,93.1 137.88,95.13 138.58,97.01 139.29,98.83 139.99,100.57 140.7,102.22 141.4,103.74 142.1,105.14 142.81,106.39 143.51,107.57 144.22,108.68 144.92,109.73 145.62,110.73 146.33,111.67 147.03,112.56 147.74,113.42 148.44,114.23 149.14,115 149.85,115.76 150.55,116.5 151.26,117.21 151.96,117.9 152.66,118.55 153.37,119.16 154.07,119.73 154.78,120.25 155.48,120.73 156.18,121.15 156.89,121.55 157.59,121.92 158.3,122.28 159,122.61 159.7,122.92 160.41,123.23 161.11,123.52 161.82,123.81 162.52,124.09 163.22,124.38 163.93,124.66 164.63,124.94 165.34,125.21 166.04,125.47 166.74,125.73 167.45,125.99 168.15,126.24 168.86,126.48 169.56,126.72 170.26,126.95 170.97,127.19 171.67,127.41 172.38,127.63 173.08,127.85 173.78,128.06 174.49,128.27 175.19,128.48 175.9,128.69 176.6,128.9 177.3,129.11 178.01,129.32 178.71,129.54 179.42,129.75 180.12,129.97 180.82,130.18 181.53,130.39 182.23,130.61 182.94,130.82 183.64,131.04 184.34,131.26 185.05,131.47 185.75,131.7 186.46,131.92 187.16,132.15 187.86,132.38 188.57,132.61 189.27,132.85 189.98,133.1 190.68,133.34 191.38,133.59 192.09,133.83 192.79,134.07 193.5,134.31 194.2,134.54 194.9,134.77 195.61,135 196.31,135.22 197.02,135.45 197.72,135.67 198.42,135.89 199.13,136.11 199.83,136.33 200.54,136.54 201.24,136.76 201.94,136.97 202.65,137.18 203.35,137.39 204.06,137.6 204.76,137.81 205.46,138.02 206.17,138.22 206.87,138.43 207.58,138.63 208.28,138.84 208.98,139.04 209.69,139.24 210.39,139.44 211.1,139.65 211.8,139.85 212.5,140.05 213.21,140.26 213.91,140.46 214.62,140.67 215.32,140.87 216.02,141.08 216.73,141.28 217.43,141.48 218.14,141.68 218.84,141.87 219.54,142.06 220.25,142.25 220.95,142.43 221.66,142.61 222.36,142.79 223.06,142.97 223.77,143.15 224.47,143.33 225.18,143.5 225.88,143.67 226.58,143.83 227.29,143.98 227.99,144.13 228.7,144.27 229.4,144.41 230.1,144.53 230.81,144.65 231.51,144.77 232.22,144.88 232.92,144.99 233.62,145.1 234.33,145.2 235.03,145.3 235.74,145.39 236.44,145.48 237.14,145.57 237.85,145.66 238.55,145.75 239.26,145.83 239.96,145.91 240.66,145.99 241.37,146.07 242.07,146.15 242.78,146.22 243.48,146.3 244.18,146.37 244.89,146.43 245.59,146.5 246.3,146.56 247,146.62 247.7,146.68 248.41,146.74 249.11,146.79 249.82,146.85 250.52,146.9 251.22,146.96 251.93,147.01 252.63,147.06 253.34,147.1 254.04,147.15 254.74,147.19 255.45,147.23 256.15,147.27 256.86,147.31 257.56,147.34 258.26,147.37 258.97,147.41 259.67,147.44 260.38,147.47 261.08,147.5 261.78,147.53 262.49,147.55 263.19,147.57 263.9,147.58 264.6,147.58" fill="none" stroke="#f0e419" stroke-width="1.35" stroke-linejoin="round" />
<polyline points="53.4,122.77 54.1,122.88 54.81,123 55.51,123.12 56.22,123.21 56.92,123.28 57.62,123.31 58.33,123.27 59.03,123.16 59.74,123 60.44,122.81 61.14,122.59 61.85,122.37 62.55,122.09 63.26,121.76 63.96,121.37 64.66,120.93 65.37,120.43 66.07,119.89 66.78,119.29 67.48,118.55 68.18,117.66 68.89,116.67 69.59,115.59 70.3,114.44 71,113.25 71.7,112.02 72.41,110.66 73.11,109.19 73.82,107.61 74.52,105.96 75.22,104.22 75.93,102.36 76.63,100.36 77.34,98.28 78.04,96.12 78.74,93.91 79.45,91.62 80.15,89.21 80.86,86.71 81.56,84.17 82.26,81.64 82.97,79.14 83.67,76.72 84.38,74.36 85.08,72.02 85.78,69.69 86.49,67.38 87.19,65.08 87.9,62.79 88.6,60.51 89.3,58.22 90.01,55.92 90.71,53.6 91.42,51.29 92.12,49.01 92.82,46.78 93.53,44.62 94.23,42.54 94.94,40.48 95.64,38.47 96.34,36.57 97.05,34.82 97.75,33.24 98.46,31.69 99.16,30.2 99.86,28.86 100.57,27.75 101.27,26.94 101.98,26.32 102.68,25.74 103.38,25.23 104.09,24.8 104.79,24.49 105.5,24.33 106.2,24.33 106.9,24.46 107.61,24.7 108.31,25.01 109.02,25.37 109.72,25.77 110.42,26.29 111.13,27.02 111.83,27.92 112.54,28.96 113.24,30.09 113.94,31.29 114.65,32.54 115.35,34.02 116.06,35.71 116.76,37.55 117.46,39.49 118.17,41.47 118.87,43.45 119.58,45.36 120.28,47.17 120.98,48.88 121.69,50.56 122.39,52.22 123.1,53.88 123.8,55.53 124.5,57.2 125.21,58.89 125.91,60.59 126.62,62.29 127.32,64 128.02,65.75 128.73,67.54 129.43,69.35 130.14,71.18 130.84,73.04 131.54,74.94 132.25,76.88 132.95,78.9 133.66,81 134.36,83.27 135.06,85.67 135.77,88.09 136.47,90.47 137.18,92.73 137.88,94.78 138.58,96.68 139.29,98.52 139.99,100.28 140.7,101.94 141.4,103.49 142.1,104.9 142.81,106.17 143.51,107.36 144.22,108.49 144.92,109.55 145.62,110.56 146.33,111.51 147.03,112.42 147.74,113.28 148.44,114.1 149.14,114.89 149.85,115.66 150.55,116.4 151.26,117.12 151.96,117.82 152.66,118.47 153.37,119.09 154.07,119.67 154.78,120.2 155.48,120.68 156.18,121.11 156.89,121.51 157.59,121.89 158.3,122.24 159,122.58 159.7,122.89 160.41,123.2 161.11,123.5 161.82,123.79 162.52,124.07 163.22,124.36 163.93,124.65 164.63,124.93 165.34,125.2 166.04,125.47 166.74,125.73 167.45,125.98 168.15,126.23 168.86,126.48 169.56,126.72 170.26,126.95 170.97,127.19 171.67,127.41 172.38,127.64 173.08,127.85 173.78,128.07 174.49,128.28 175.19,128.49 175.9,128.7 176.6,128.91 177.3,129.12 178.01,129.33 178.71,129.54 179.42,129.76 180.12,129.98 180.82,130.19 181.53,130.4 182.23,130.62 182.94,130.83 183.64,131.05 184.34,131.27 185.05,131.49 185.75,131.71 186.46,131.93 187.16,132.16 187.86,132.39 188.57,132.63 189.27,132.87 189.98,133.11 190.68,133.36 191.38,133.6 192.09,133.84 192.79,134.09 193.5,134.32 194.2,134.56 194.9,134.79 195.61,135.01 196.31,135.24 197.02,135.46 197.72,135.68 198.42,135.9 199.13,136.12 199.83,136.34 200.54,136.55 201.24,136.77 201.94,136.98 202.65,137.19 203.35,137.41 204.06,137.62 204.76,137.82 205.46,138.03 206.17,138.24 206.87,138.44 207.58,138.64 208.28,138.85 208.98,139.05 209.69,139.25 210.39,139.45 211.1,139.65 211.8,139.86 212.5,140.06 213.21,140.27 213.91,140.47 214.62,140.68 215.32,140.88 216.02,141.09 216.73,141.29 217.43,141.49 218.14,141.69 218.84,141.88 219.54,142.07 220.25,142.26 220.95,142.44 221.66,142.62 222.36,142.8 223.06,142.98 223.77,143.16 224.47,143.34 225.18,143.51 225.88,143.68 226.58,143.84 227.29,143.99 227.99,144.14 228.7,144.28 229.4,144.41 230.1,144.54 230.81,144.66 231.51,144.77 232.22,144.89 232.92,144.99 233.62,145.1 234.33,145.2 235.03,145.3 235.74,145.39 236.44,145.48 237.14,145.57 237.85,145.66 238.55,145.75 239.26,145.83 239.96,145.91 240.66,145.99 241.37,146.07 242.07,146.15 242.78,146.22 243.48,146.3 244.18,146.37 244.89,146.43 245.59,146.5 246.3,146.56 247,146.62 247.7,146.68 248.41,146.74 249.11,146.79 249.82,146.85 250.52,146.9 251.22,146.96 251.93,147.01 252.63,147.06 253.34,147.1 254.04,147.15 254.74,147.19 255.45,147.23 256.15,147.27 256.86,147.31 257.56,147.34 258.26,147.37 258.97,147.41 259.67,147.44 260.38,147.47 261.08,147.5 261.78,147.53 262.49,147.55 263.19,147.57 263.9,147.58 264.6,147.58" fill="none" stroke="#c1d920" stroke-width="1.35" stroke-linejoin="round" />
<polyline points="53.4,122.87 54.1,122.98 54.81,123.1 55.51,123.22 56.22,123.32 56.92,123.39 57.62,123.42 58.33,123.38 59.03,123.27 59.74,123.11 60.44,122.92 61.14,122.7 61.85,122.48 62.55,122.21 63.26,121.88 63.96,121.48 64.66,121.04 65.37,120.54 66.07,120 66.78,119.4 67.48,118.65 68.18,117.76 68.89,116.76 69.59,115.67 70.3,114.51 71,113.32 71.7,112.08 72.41,110.71 73.11,109.22 73.82,107.64 74.52,105.97 75.22,104.22 75.93,102.34 76.63,100.33 77.34,98.23 78.04,96.05 78.74,93.83 79.45,91.51 80.15,89.08 80.86,86.56 81.56,84 82.26,81.43 82.97,78.91 83.67,76.46 84.38,74.07 85.08,71.7 85.78,69.34 86.49,67 87.19,64.67 87.9,62.35 88.6,60.04 89.3,57.72 90.01,55.38 90.71,53.04 91.42,50.7 92.12,48.39 92.82,46.12 93.53,43.94 94.23,41.83 94.94,39.75 95.64,37.71 96.34,35.78 97.05,34.01 97.75,32.41 98.46,30.84 99.16,29.33 99.86,27.97 100.57,26.84 101.27,26.02 101.98,25.4 102.68,24.81 103.38,24.28 104.09,23.85 104.79,23.54 105.5,23.37 106.2,23.37 106.9,23.5 107.61,23.73 108.31,24.04 109.02,24.41 109.72,24.81 110.42,25.33 111.13,26.06 111.83,26.98 112.54,28.02 113.24,29.17 113.94,30.38 114.65,31.64 115.35,33.14 116.06,34.84 116.76,36.71 117.46,38.67 118.17,40.68 118.87,42.68 119.58,44.62 120.28,46.44 120.98,48.16 121.69,49.85 122.39,51.52 123.1,53.18 123.8,54.85 124.5,56.53 125.21,58.23 125.91,59.94 126.62,61.64 127.32,63.37 128.02,65.13 128.73,66.93 129.43,68.75 130.14,70.6 130.84,72.47 131.54,74.38 132.25,76.34 132.95,78.37 133.66,80.49 134.36,82.79 135.06,85.21 135.77,87.66 136.47,90.07 137.18,92.35 137.88,94.42 138.58,96.35 139.29,98.21 139.99,99.99 140.7,101.67 141.4,103.24 142.1,104.66 142.81,105.95 143.51,107.15 144.22,108.29 144.92,109.37 145.62,110.39 146.33,111.35 147.03,112.27 147.74,113.14 148.44,113.97 149.14,114.77 149.85,115.55 150.55,116.3 151.26,117.03 151.96,117.73 152.66,118.4 153.37,119.03 154.07,119.61 154.78,120.14 155.48,120.63 156.18,121.06 156.89,121.47 157.59,121.85 158.3,122.21 159,122.54 159.7,122.87 160.41,123.17 161.11,123.47 161.82,123.76 162.52,124.05 163.22,124.34 163.93,124.63 164.63,124.91 165.34,125.19 166.04,125.46 166.74,125.72 167.45,125.98 168.15,126.23 168.86,126.47 169.56,126.72 170.26,126.95 170.97,127.19 171.67,127.42 172.38,127.64 173.08,127.86 173.78,128.07 174.49,128.28 175.19,128.49 175.9,128.7 176.6,128.91 177.3,129.12 178.01,129.34 178.71,129.55 179.42,129.77 180.12,129.98 180.82,130.2 181.53,130.41 182.23,130.63 182.94,130.84 183.64,131.06 184.34,131.28 185.05,131.5 185.75,131.72 186.46,131.94 187.16,132.17 187.86,132.4 188.57,132.64 189.27,132.88 189.98,133.12 190.68,133.37 191.38,133.61 192.09,133.86 192.79,134.1 193.5,134.34 194.2,134.57 194.9,134.8 195.61,135.02 196.31,135.25 197.02,135.47 197.72,135.69 198.42,135.91 199.13,136.13 199.83,136.35 200.54,136.57 201.24,136.78 201.94,136.99 202.65,137.21 203.35,137.42 204.06,137.63 204.76,137.83 205.46,138.04 206.17,138.25 206.87,138.45 207.58,138.65 208.28,138.86 208.98,139.06 209.69,139.26 210.39,139.46 211.1,139.66 211.8,139.87 212.5,140.07 213.21,140.27 213.91,140.48 214.62,140.68 215.32,140.89 216.02,141.1 216.73,141.3 217.43,141.5 218.14,141.7 218.84,141.89 219.54,142.08 220.25,142.26 220.95,142.45 221.66,142.63 222.36,142.81 223.06,142.99 223.77,143.17 224.47,143.35 225.18,143.52 225.88,143.68 226.58,143.85 227.29,144 227.99,144.15 228.7,144.29 229.4,144.42 230.1,144.55 230.81,144.67 231.51,144.78 232.22,144.89 232.92,145 233.62,145.1 234.33,145.2 235.03,145.3 235.74,145.39 236.44,145.49 237.14,145.57 237.85,145.66 238.55,145.75 239.26,145.83 239.96,145.91 240.66,145.99 241.37,146.07 242.07,146.15 242.78,146.22 243.48,146.3 244.18,146.37 244.89,146.43 245.59,146.5 246.3,146.56 247,146.62 247.7,146.68 248.41,146.74 249.11,146.79 249.82,146.85 250.52,146.9 251.22,146.96 251.93,147.01 252.63,147.06 253.34,147.1 254.04,147.15 254.74,147.19 255.45,147.23 256.15,147.27 256.86,147.31 257.56,147.34 258.26,147.37 258.97,147.41 259.67,147.44 260.38,147.47 261.08,147.5 261.78,147.53 262.49,147.55 263.19,147.57 263.9,147.58 264.6,147.58" fill="none" stroke="#80ca28" stroke-width="1.35" stroke-linejoin="round" />
<polyline points="53.4,122.94 54.1,123.05 54.81,123.18 55.51,123.3 56.22,123.4 56.92,123.47 57.62,123.5 58.33,123.46 59.03,123.35 59.74,123.2 60.44,123 61.14,122.79 61.85,122.57 62.55,122.29 63.26,121.96 63.96,121.57 64.66,121.12 65.37,120.62 66.07,120.08 66.78,119.47 67.48,118.72 68.18,117.83 68.89,116.83 69.59,115.73 70.3,114.57 71,113.37 71.7,112.12 72.41,110.75 73.11,109.25 73.82,107.66 74.52,105.98 75.22,104.22 75.93,102.32 76.63,100.3 77.34,98.19 78.04,96 78.74,93.76 79.45,91.43 80.15,88.98 80.86,86.44 81.56,83.86 82.26,81.28 82.97,78.73 83.67,76.26 84.38,73.85 85.08,71.45 85.78,69.08 86.49,66.72 87.19,64.36 87.9,62.02 88.6,59.68 89.3,57.34 90.01,54.98 90.71,52.61 91.42,50.25 92.12,47.92 92.82,45.63 93.53,43.43 94.23,41.3 94.94,39.2 95.64,37.14 96.34,35.19 97.05,33.4 97.75,31.79 98.46,30.2 99.16,28.67 99.86,27.3 100.57,26.16 101.27,25.33 101.98,24.7 102.68,24.11 103.38,23.58 104.09,23.14 104.79,22.82 105.5,22.65 106.2,22.65 106.9,22.78 107.61,23.01 108.31,23.32 109.02,23.69 109.72,24.08 110.42,24.61 111.13,25.35 111.83,26.27 112.54,27.32 113.24,28.48 113.94,29.69 114.65,30.97 115.35,32.48 116.06,34.2 116.76,36.08 117.46,38.06 118.17,40.08 118.87,42.1 119.58,44.05 120.28,45.89 120.98,47.62 121.69,49.32 122.39,51 123.1,52.67 123.8,54.34 124.5,56.03 125.21,57.74 125.91,59.45 126.62,61.16 127.32,62.9 128.02,64.66 128.73,66.47 129.43,68.31 130.14,70.16 130.84,72.04 131.54,73.96 132.25,75.94 132.95,77.98 133.66,80.11 134.36,82.43 135.06,84.86 135.77,87.34 136.47,89.77 137.18,92.07 137.88,94.16 138.58,96.1 139.29,97.97 139.99,99.77 140.7,101.47 141.4,103.04 142.1,104.49 142.81,105.78 143.51,107 144.22,108.15 144.92,109.23 145.62,110.26 146.33,111.23 147.03,112.16 147.74,113.04 148.44,113.88 149.14,114.68 149.85,115.47 150.55,116.23 151.26,116.97 151.96,117.67 152.66,118.34 153.37,118.98 154.07,119.56 154.78,120.1 155.48,120.59 156.18,121.03 156.89,121.44 157.59,121.82 158.3,122.18 159,122.52 159.7,122.84 160.41,123.15 161.11,123.45 161.82,123.75 162.52,124.04 163.22,124.33 163.93,124.62 164.63,124.9 165.34,125.18 166.04,125.45 166.74,125.71 167.45,125.97 168.15,126.22 168.86,126.47 169.56,126.72 170.26,126.95 170.97,127.19 171.67,127.42 172.38,127.64 173.08,127.86 173.78,128.07 174.49,128.29 175.19,128.5 175.9,128.71 176.6,128.92 177.3,129.13 178.01,129.34 178.71,129.56 179.42,129.78 180.12,129.99 180.82,130.21 181.53,130.42 182.23,130.64 182.94,130.85 183.64,131.07 184.34,131.29 185.05,131.51 185.75,131.73 186.46,131.95 187.16,132.18 187.86,132.41 188.57,132.65 189.27,132.89 189.98,133.13 190.68,133.38 191.38,133.62 192.09,133.87 192.79,134.11 193.5,134.35 194.2,134.58 194.9,134.81 195.61,135.03 196.31,135.26 197.02,135.48 197.72,135.7 198.42,135.92 199.13,136.14 199.83,136.36 200.54,136.58 201.24,136.79 201.94,137 202.65,137.22 203.35,137.43 204.06,137.64 204.76,137.84 205.46,138.05 206.17,138.25 206.87,138.46 207.58,138.66 208.28,138.86 208.98,139.07 209.69,139.27 210.39,139.47 211.1,139.67 211.8,139.87 212.5,140.07 213.21,140.28 213.91,140.48 214.62,140.69 215.32,140.9 216.02,141.1 216.73,141.3 217.43,141.5 218.14,141.7 218.84,141.9 219.54,142.09 220.25,142.27 220.95,142.45 221.66,142.63 222.36,142.82 223.06,143 223.77,143.18 224.47,143.35 225.18,143.52 225.88,143.69 226.58,143.85 227.29,144.01 227.99,144.16 228.7,144.3 229.4,144.43 230.1,144.55 230.81,144.67 231.51,144.79 232.22,144.9 232.92,145 233.62,145.11 234.33,145.21 235.03,145.3 235.74,145.4 236.44,145.49 237.14,145.58 237.85,145.66 238.55,145.75 239.26,145.83 239.96,145.91 240.66,145.99 241.37,146.07 242.07,146.15 242.78,146.22 243.48,146.3 244.18,146.37 244.89,146.43 245.59,146.5 246.3,146.56 247,146.62 247.7,146.68 248.41,146.74 249.11,146.79 249.82,146.85 250.52,146.9 251.22,146.96 251.93,147.01 252.63,147.06 253.34,147.1 254.04,147.15 254.74,147.19 255.45,147.23 256.15,147.27 256.86,147.31 257.56,147.34 258.26,147.37 258.97,147.41 259.67,147.44 260.38,147.47 261.08,147.5 261.78,147.53 262.49,147.55 263.19,147.57 263.9,147.58 264.6,147.58" fill="none" stroke="#42bb30" stroke-width="1.35" stroke-linejoin="round" />
<polyline points="53.4,123.02 54.1,123.13 54.81,123.25 55.51,123.38 56.22,123.48 56.92,123.55 57.62,123.58 58.33,123.54 59.03,123.44 59.74,123.28 60.44,123.09 61.14,122.87 61.85,122.65 62.55,122.38 63.26,122.05 63.96,121.65 64.66,121.21 65.37,120.71 66.07,120.16 66.78,119.55 67.48,118.8 68.18,117.9 68.89,116.89 69.59,115.79 70.3,114.63 71,113.42 71.7,112.17 72.41,110.78 73.11,109.28 73.82,107.68 74.52,105.99 75.22,104.22 75.93,102.31 76.63,100.28 77.34,98.15 78.04,95.94 78.74,93.69 79.45,91.35 80.15,88.88 80.86,86.33 81.56,83.73 82.26,81.13 82.97,78.56 83.67,76.07 84.38,73.63 85.08,71.21 85.78,68.82 86.49,66.43 87.19,64.06 87.9,61.69 88.6,59.33 89.3,56.97 90.01,54.58 90.71,52.19 91.42,49.8 92.12,47.45 92.82,45.15 93.53,42.92 94.23,40.77 94.94,38.65 95.64,36.57 96.34,34.6 97.05,32.8 97.75,31.16 98.46,29.56 99.16,28.02 99.86,26.63 100.57,25.48 101.27,24.64 101.98,24 102.68,23.4 103.38,22.87 104.09,22.43 104.79,22.1 105.5,21.93 106.2,21.93 106.9,22.06 107.61,22.29 108.31,22.6 109.02,22.96 109.72,23.36 110.42,23.89 111.13,24.63 111.83,25.56 112.54,26.62 113.24,27.78 113.94,29.01 114.65,30.3 115.35,31.82 116.06,33.55 116.76,35.45 117.46,37.45 118.17,39.49 118.87,41.52 119.58,43.49 120.28,45.34 120.98,47.08 121.69,48.79 122.39,50.48 123.1,52.15 123.8,53.83 124.5,55.52 125.21,57.24 125.91,58.96 126.62,60.68 127.32,62.43 128.02,64.2 128.73,66.01 129.43,67.86 130.14,69.72 130.84,71.61 131.54,73.54 132.25,75.53 132.95,77.58 133.66,79.73 134.36,82.06 135.06,84.52 135.77,87.02 136.47,89.46 137.18,91.78 137.88,93.89 138.58,95.85 139.29,97.74 139.99,99.55 140.7,101.26 141.4,102.85 142.1,104.31 142.81,105.61 143.51,106.84 144.22,108 144.92,109.09 145.62,110.13 146.33,111.12 147.03,112.05 147.74,112.94 148.44,113.78 149.14,114.59 149.85,115.39 150.55,116.15 151.26,116.9 151.96,117.61 152.66,118.29 153.37,118.93 154.07,119.52 154.78,120.06 155.48,120.56 156.18,121 156.89,121.41 157.59,121.79 158.3,122.16 159,122.5 159.7,122.82 160.41,123.13 161.11,123.44 161.82,123.73 162.52,124.02 163.22,124.32 163.93,124.61 164.63,124.89 165.34,125.17 166.04,125.44 166.74,125.71 167.45,125.97 168.15,126.22 168.86,126.47 169.56,126.71 170.26,126.95 170.97,127.19 171.67,127.42 172.38,127.64 173.08,127.86 173.78,128.08 174.49,128.29 175.19,128.5 175.9,128.71 176.6,128.92 177.3,129.13 178.01,129.35 178.71,129.56 179.42,129.78 180.12,130 180.82,130.21 181.53,130.43 182.23,130.64 182.94,130.86 183.64,131.08 184.34,131.29 185.05,131.51 185.75,131.74 186.46,131.96 187.16,132.19 187.86,132.42 188.57,132.66 189.27,132.9 189.98,133.14 190.68,133.39 191.38,133.63 192.09,133.88 192.79,134.12 193.5,134.35 194.2,134.59 194.9,134.82 195.61,135.04 196.31,135.27 197.02,135.49 197.72,135.71 198.42,135.93 199.13,136.15 199.83,136.37 200.54,136.58 201.24,136.8 201.94,137.01 202.65,137.22 203.35,137.44 204.06,137.64 204.76,137.85 205.46,138.06 206.17,138.26 206.87,138.47 207.58,138.67 208.28,138.87 208.98,139.07 209.69,139.27 210.39,139.47 211.1,139.68 211.8,139.88 212.5,140.08 213.21,140.28 213.91,140.49 214.62,140.7 215.32,140.9 216.02,141.11 216.73,141.31 217.43,141.51 218.14,141.71 218.84,141.9 219.54,142.09 220.25,142.28 220.95,142.46 221.66,142.64 222.36,142.82 223.06,143 223.77,143.18 224.47,143.36 225.18,143.53 225.88,143.7 226.58,143.86 227.29,144.02 227.99,144.16 228.7,144.3 229.4,144.43 230.1,144.56 230.81,144.68 231.51,144.79 232.22,144.9 232.92,145.01 233.62,145.11 234.33,145.21 235.03,145.3 235.74,145.4 236.44,145.49 237.14,145.58 237.85,145.66 238.55,145.75 239.26,145.83 239.96,145.91 240.66,145.99 241.37,146.07 242.07,146.15 242.78,146.22 243.48,146.3 244.18,146.37 244.89,146.43 245.59,146.5 246.3,146.56 247,146.62 247.7,146.68 248.41,146.74 249.11,146.79 249.82,146.85 250.52,146.9 251.22,146.96 251.93,147.01 252.63,147.06 253.34,147.1 254.04,147.15 254.74,147.19 255.45,147.23 256.15,147.27 256.86,147.31 257.56,147.34 258.26,147.37 258.97,147.41 259.67,147.44 260.38,147.47 261.08,147.5 261.78,147.53 262.49,147.55 263.19,147.57 263.9,147.58 264.6,147.58" fill="none" stroke="#27a55e" stroke-width="1.35" stroke-linejoin="round" />
<polyline points="53.4,123.09 54.1,123.2 54.81,123.33 55.51,123.45 56.22,123.56 56.92,123.63 57.62,123.66 58.33,123.62 59.03,123.52 59.74,123.36 60.44,123.17 61.14,122.96 61.85,122.74 62.55,122.47 63.26,122.13 63.96,121.74 64.66,121.29 65.37,120.79 66.07,120.24 66.78,119.63 67.48,118.87 68.18,117.98 68.89,116.96 69.59,115.86 70.3,114.68 71,113.47 71.7,112.21 72.41,110.82 73.11,109.31 73.82,107.69 74.52,106 75.22,104.21 75.93,102.3 76.63,100.25 77.34,98.11 78.04,95.89 78.74,93.62 79.45,91.26 80.15,88.78 80.86,86.21 81.56,83.59 82.26,80.97 82.97,78.39 83.67,75.87 84.38,73.41 85.08,70.97 85.78,68.55 86.49,66.14 87.19,63.75 87.9,61.36 88.6,58.97 89.3,56.59 90.01,54.18 90.71,51.76 91.42,49.36 92.12,46.98 92.82,44.66 93.53,42.41 94.23,40.24 94.94,38.1 95.64,36 96.34,34.02 97.05,32.19 97.75,30.54 98.46,28.92 99.16,27.37 99.86,25.96 100.57,24.8 101.27,23.95 101.98,23.31 102.68,22.7 103.38,22.16 104.09,21.71 104.79,21.39 105.5,21.21 106.2,21.21 106.9,21.34 107.61,21.57 108.31,21.88 109.02,22.24 109.72,22.64 110.42,23.17 111.13,23.92 111.83,24.85 112.54,25.92 113.24,27.09 113.94,28.33 114.65,29.62 115.35,31.15 116.06,32.9 116.76,34.82 117.46,36.83 118.17,38.9 118.87,40.95 119.58,42.93 120.28,44.79 120.98,46.54 121.69,48.26 122.39,49.95 123.1,51.63 123.8,53.32 124.5,55.02 125.21,56.74 125.91,58.47 126.62,60.2 127.32,61.95 128.02,63.73 128.73,65.56 129.43,67.41 130.14,69.28 130.84,71.18 131.54,73.13 132.25,75.12 132.95,77.19 133.66,79.35 134.36,81.7 135.06,84.18 135.77,86.69 136.47,89.16 137.18,91.5 137.88,93.63 138.58,95.6 139.29,97.51 139.99,99.33 140.7,101.06 141.4,102.66 142.1,104.13 142.81,105.45 143.51,106.68 144.22,107.85 144.92,108.96 145.62,110 146.33,111 147.03,111.94 147.74,112.83 148.44,113.69 149.14,114.51 149.85,115.3 150.55,116.08 151.26,116.83 151.96,117.55 152.66,118.23 153.37,118.88 154.07,119.47 154.78,120.02 155.48,120.52 156.18,120.96 156.89,121.38 157.59,121.77 158.3,122.13 159,122.47 159.7,122.8 160.41,123.11 161.11,123.42 161.82,123.71 162.52,124.01 163.22,124.3 163.93,124.6 164.63,124.88 165.34,125.16 166.04,125.44 166.74,125.7 167.45,125.96 168.15,126.22 168.86,126.47 169.56,126.71 170.26,126.95 170.97,127.19 171.67,127.42 172.38,127.65 173.08,127.86 173.78,128.08 174.49,128.29 175.19,128.51 175.9,128.72 176.6,128.93 177.3,129.14 178.01,129.35 178.71,129.57 179.42,129.79 180.12,130 180.82,130.22 181.53,130.44 182.23,130.65 182.94,130.87 183.64,131.08 184.34,131.3 185.05,131.52 185.75,131.75 186.46,131.97 187.16,132.2 187.86,132.43 188.57,132.67 189.27,132.91 189.98,133.15 190.68,133.4 191.38,133.64 192.09,133.88 192.79,134.13 193.5,134.36 194.2,134.6 194.9,134.82 195.61,135.05 196.31,135.28 197.02,135.5 197.72,135.72 198.42,135.94 199.13,136.16 199.83,136.38 200.54,136.59 201.24,136.81 201.94,137.02 202.65,137.23 203.35,137.44 204.06,137.65 204.76,137.86 205.46,138.07 206.17,138.27 206.87,138.47 207.58,138.68 208.28,138.88 208.98,139.08 209.69,139.28 210.39,139.48 211.1,139.68 211.8,139.88 212.5,140.09 213.21,140.29 213.91,140.5 214.62,140.7 215.32,140.91 216.02,141.11 216.73,141.32 217.43,141.52 218.14,141.71 218.84,141.91 219.54,142.1 220.25,142.28 220.95,142.46 221.66,142.65 222.36,142.83 223.06,143.01 223.77,143.19 224.47,143.37 225.18,143.54 225.88,143.71 226.58,143.87 227.29,144.02 227.99,144.17 228.7,144.31 229.4,144.44 230.1,144.56 230.81,144.68 231.51,144.8 232.22,144.9 232.92,145.01 233.62,145.11 234.33,145.21 235.03,145.3 235.74,145.4 236.44,145.49 237.14,145.58 237.85,145.66 238.55,145.75 239.26,145.83 239.96,145.91 240.66,145.99 241.37,146.07 242.07,146.15 242.78,146.22 243.48,146.3 244.18,146.37 244.89,146.43 245.59,146.5 246.3,146.56 247,146.62 247.7,146.68 248.41,146.74 249.11,146.79 249.82,146.85 250.52,146.9 251.22,146.96 251.93,147.01 252.63,147.06 253.34,147.1 254.04,147.15 254.74,147.19 255.45,147.23 256.15,147.27 256.86,147.31 257.56,147.34 258.26,147.37 258.97,147.41 259.67,147.44 260.38,147.47 261.08,147.5 261.78,147.53 262.49,147.55 263.19,147.57 263.9,147.58 264.6,147.58" fill="none" stroke="#1e8ca0" stroke-width="1.35" stroke-linejoin="round" />
<polyline points="53.4,123.16 54.1,123.28 54.81,123.41 55.51,123.53 56.22,123.64 56.92,123.71 57.62,123.74 58.33,123.7 59.03,123.6 59.74,123.44 60.44,123.25 61.14,123.04 61.85,122.82 62.55,122.55 63.26,122.22 63.96,121.82 64.66,121.37 65.37,120.87 66.07,120.32 66.78,119.71 67.48,118.95 68.18,118.05 68.89,117.03 69.59,115.92 70.3,114.74 71,113.52 71.7,112.26 72.41,110.86 73.11,109.34 73.82,107.71 74.52,106 75.22,104.21 75.93,102.28 76.63,100.23 77.34,98.07 78.04,95.84 78.74,93.56 79.45,91.18 80.15,88.68 80.86,86.09 81.56,83.46 82.26,80.82 82.97,78.21 83.67,75.67 84.38,73.19 85.08,70.73 85.78,68.29 86.49,65.86 87.19,63.44 87.9,61.03 88.6,58.62 89.3,56.21 90.01,53.78 90.71,51.34 91.42,48.91 92.12,46.51 92.82,44.17 93.53,41.9 94.23,39.71 94.94,37.55 95.64,35.43 96.34,33.43 97.05,31.58 97.75,29.92 98.46,28.28 99.16,26.71 99.86,25.3 100.57,24.12 101.27,23.27 101.98,22.61 102.68,22 103.38,21.45 104.09,21 104.79,20.67 105.5,20.49 106.2,20.49 106.9,20.61 107.61,20.84 108.31,21.15 109.02,21.52 109.72,21.92 110.42,22.45 111.13,23.2 111.83,24.14 112.54,25.22 113.24,26.4 113.94,27.64 114.65,28.95 115.35,30.49 116.06,32.26 116.76,34.19 117.46,36.22 118.17,38.3 118.87,40.37 119.58,42.37 120.28,44.24 120.98,46 121.69,47.73 122.39,49.43 123.1,51.11 123.8,52.81 124.5,54.51 125.21,56.25 125.91,57.98 126.62,59.72 127.32,61.48 128.02,63.27 128.73,65.1 129.43,66.96 130.14,68.84 130.84,70.75 131.54,72.71 132.25,74.72 132.95,76.8 133.66,78.97 134.36,81.34 135.06,83.83 135.77,86.37 136.47,88.86 137.18,91.22 137.88,93.37 138.58,95.35 139.29,97.27 139.99,99.11 140.7,100.85 141.4,102.47 142.1,103.95 142.81,105.28 143.51,106.53 144.22,107.71 144.92,108.82 145.62,109.88 146.33,110.88 147.03,111.83 147.74,112.73 148.44,113.59 149.14,114.42 149.85,115.22 150.55,116.01 151.26,116.76 151.96,117.49 152.66,118.18 153.37,118.83 154.07,119.43 154.78,119.98 155.48,120.48 156.18,120.93 156.89,121.35 157.59,121.74 158.3,122.11 159,122.45 159.7,122.78 160.41,123.09 161.11,123.4 161.82,123.7 162.52,123.99 163.22,124.29 163.93,124.59 164.63,124.87 165.34,125.16 166.04,125.43 166.74,125.7 167.45,125.96 168.15,126.21 168.86,126.47 169.56,126.71 170.26,126.95 170.97,127.19 171.67,127.42 172.38,127.65 173.08,127.87 173.78,128.08 174.49,128.3 175.19,128.51 175.9,128.72 176.6,128.93 177.3,129.15 178.01,129.36 178.71,129.58 179.42,129.79 180.12,130.01 180.82,130.23 181.53,130.44 182.23,130.66 182.94,130.88 183.64,131.09 184.34,131.31 185.05,131.53 185.75,131.75 186.46,131.98 187.16,132.21 187.86,132.44 188.57,132.68 189.27,132.92 189.98,133.16 190.68,133.41 191.38,133.65 192.09,133.89 192.79,134.14 193.5,134.37 194.2,134.61 194.9,134.83 195.61,135.06 196.31,135.29 197.02,135.51 197.72,135.73 198.42,135.95 199.13,136.17 199.83,136.39 200.54,136.6 201.24,136.82 201.94,137.03 202.65,137.24 203.35,137.45 204.06,137.66 204.76,137.87 205.46,138.07 206.17,138.28 206.87,138.48 207.58,138.68 208.28,138.88 208.98,139.09 209.69,139.29 210.39,139.49 211.1,139.69 211.8,139.89 212.5,140.09 213.21,140.3 213.91,140.5 214.62,140.71 215.32,140.91 216.02,141.12 216.73,141.32 217.43,141.52 218.14,141.72 218.84,141.91 219.54,142.1 220.25,142.29 220.95,142.47 221.66,142.65 222.36,142.84 223.06,143.02 223.77,143.2 224.47,143.37 225.18,143.54 225.88,143.71 226.58,143.87 227.29,144.03 227.99,144.18 228.7,144.32 229.4,144.45 230.1,144.57 230.81,144.69 231.51,144.8 232.22,144.91 232.92,145.01 233.62,145.11 234.33,145.21 235.03,145.31 235.74,145.4 236.44,145.49 237.14,145.58 237.85,145.66 238.55,145.75 239.26,145.83 239.96,145.91 240.66,145.99 241.37,146.07 242.07,146.15 242.78,146.22 243.48,146.3 244.18,146.37 244.89,146.43 245.59,146.5 246.3,146.56 247,146.62 247.7,146.68 248.41,146.74 249.11,146.79 249.82,146.85 250.52,146.9 251.22,146.96 251.93,147.01 252.63,147.06 253.34,147.1 254.04,147.15 254.74,147.19 255.45,147.23 256.15,147.27 256.86,147.31 257.56,147.34 258.26,147.37 258.97,147.41 259.67,147.44 260.38,147.47 261.08,147.5 261.78,147.53 262.49,147.55 263.19,147.57 263.9,147.58 264.6,147.58" fill="none" stroke="#1e50d1" stroke-width="1.35" stroke-linejoin="round" />
<polyline points="53.4,123.21 54.1,123.33 54.81,123.46 55.51,123.58 56.22,123.69 56.92,123.77 57.62,123.8 58.33,123.76 59.03,123.65 59.74,123.5 60.44,123.31 61.14,123.1 61.85,122.88 62.55,122.61 63.26,122.27 63.96,121.88 64.66,121.43 65.37,120.92 66.07,120.37 66.78,119.76 67.48,119 68.18,118.09 68.89,117.07 69.59,115.96 70.3,114.78 71,113.56 71.7,112.28 72.41,110.88 73.11,109.35 73.82,107.72 74.52,106.01 75.22,104.21 75.93,102.27 76.63,100.21 77.34,98.05 78.04,95.8 78.74,93.51 79.45,91.13 80.15,88.62 80.86,86.02 81.56,83.37 82.26,80.72 82.97,78.1 83.67,75.54 84.38,73.05 85.08,70.57 85.78,68.11 86.49,65.67 87.19,63.23 87.9,60.8 88.6,58.38 89.3,55.96 90.01,53.51 90.71,51.06 91.42,48.61 92.12,46.2 92.82,43.84 93.53,41.56 94.23,39.36 94.94,37.18 95.64,35.05 96.34,33.03 97.05,31.18 97.75,29.51 98.46,27.86 99.16,26.28 99.86,24.85 100.57,23.67 101.27,22.81 101.98,22.15 102.68,21.53 103.38,20.98 104.09,20.52 104.79,20.19 105.5,20.01 106.2,20.01 106.9,20.13 107.61,20.36 108.31,20.67 109.02,21.04 109.72,21.43 110.42,21.97 111.13,22.72 111.83,23.66 112.54,24.75 113.24,25.94 113.94,27.19 114.65,28.5 115.35,30.05 116.06,31.83 116.76,33.77 117.46,35.81 118.17,37.9 118.87,39.98 119.58,41.99 120.28,43.87 120.98,45.64 121.69,47.37 122.39,49.08 123.1,50.77 123.8,52.46 124.5,54.18 125.21,55.92 125.91,57.66 126.62,59.4 127.32,61.16 128.02,62.96 128.73,64.79 129.43,66.66 130.14,68.55 130.84,70.47 131.54,72.43 132.25,74.45 132.95,76.53 133.66,78.72 134.36,81.1 135.06,83.6 135.77,86.15 136.47,88.66 137.18,91.03 137.88,93.19 138.58,95.18 139.29,97.12 139.99,98.97 140.7,100.72 141.4,102.35 142.1,103.83 142.81,105.17 143.51,106.42 144.22,107.61 144.92,108.73 145.62,109.79 146.33,110.8 147.03,111.75 147.74,112.66 148.44,113.53 149.14,114.36 149.85,115.17 150.55,115.96 151.26,116.72 151.96,117.45 152.66,118.14 153.37,118.79 154.07,119.4 154.78,119.96 155.48,120.46 156.18,120.91 156.89,121.33 157.59,121.72 158.3,122.09 159,122.44 159.7,122.77 160.41,123.08 161.11,123.39 161.82,123.69 162.52,123.98 163.22,124.28 163.93,124.58 164.63,124.87 165.34,125.15 166.04,125.43 166.74,125.69 167.45,125.96 168.15,126.21 168.86,126.46 169.56,126.71 170.26,126.95 170.97,127.19 171.67,127.42 172.38,127.65 173.08,127.87 173.78,128.09 174.49,128.3 175.19,128.51 175.9,128.72 176.6,128.94 177.3,129.15 178.01,129.36 178.71,129.58 179.42,129.8 180.12,130.02 180.82,130.23 181.53,130.45 182.23,130.66 182.94,130.88 183.64,131.1 184.34,131.32 185.05,131.54 185.75,131.76 186.46,131.99 187.16,132.21 187.86,132.45 188.57,132.68 189.27,132.92 189.98,133.17 190.68,133.41 191.38,133.66 192.09,133.9 192.79,134.14 193.5,134.38 194.2,134.61 194.9,134.84 195.61,135.07 196.31,135.29 197.02,135.52 197.72,135.74 198.42,135.96 199.13,136.18 199.83,136.39 200.54,136.61 201.24,136.82 201.94,137.04 202.65,137.25 203.35,137.46 204.06,137.67 204.76,137.87 205.46,138.08 206.17,138.28 206.87,138.49 207.58,138.69 208.28,138.89 208.98,139.09 209.69,139.29 210.39,139.49 211.1,139.69 211.8,139.89 212.5,140.1 213.21,140.3 213.91,140.51 214.62,140.71 215.32,140.92 216.02,141.12 216.73,141.33 217.43,141.53 218.14,141.72 218.84,141.92 219.54,142.11 220.25,142.29 220.95,142.47 221.66,142.66 222.36,142.84 223.06,143.02 223.77,143.2 224.47,143.38 225.18,143.55 225.88,143.72 226.58,143.88 227.29,144.03 227.99,144.18 228.7,144.32 229.4,144.45 230.1,144.57 230.81,144.69 231.51,144.8 232.22,144.91 232.92,145.02 233.62,145.12 234.33,145.21 235.03,145.31 235.74,145.4 236.44,145.49 237.14,145.58 237.85,145.66 238.55,145.75 239.26,145.83 239.96,145.91 240.66,145.99 241.37,146.07 242.07,146.15 242.78,146.22 243.48,146.29 244.18,146.37 244.89,146.43 245.59,146.5 246.3,146.56 247,146.62 247.7,146.68 248.41,146.74 249.11,146.79 249.82,146.85 250.52,146.9 251.22,146.96 251.93,147.01 252.63,147.06 253.34,147.1 254.04,147.15 254.74,147.19 255.45,147.23 256.15,147.27 256.86,147.31 257.56,147.34 258.26,147.37 258.97,147.41 259.67,147.44 260.38,147.47 261.08,147.5 261.78,147.53 262.49,147.55 263.19,147.57 263.9,147.58 264.6,147.58" fill="none" stroke="#2236d5" stroke-width="1.35" stroke-linejoin="round" />
<polyline points="53.4,123.26 54.1,123.38 54.81,123.51 55.51,123.64 56.22,123.74 56.92,123.82 57.62,123.85 58.33,123.81 59.03,123.71 59.74,123.55 60.44,123.37 61.14,123.16 61.85,122.94 62.55,122.67 63.26,122.33 63.96,121.93 64.66,121.48 65.37,120.98 66.07,120.43 66.78,119.81 67.48,119.05 68.18,118.14 68.89,117.12 69.59,116 70.3,114.82 71,113.59 71.7,112.31 72.41,110.9 73.11,109.37 73.82,107.74 74.52,106.01 75.22,104.21 75.93,102.27 76.63,100.19 77.34,98.02 78.04,95.77 78.74,93.47 79.45,91.07 80.15,88.55 80.86,85.94 81.56,83.28 82.26,80.62 82.97,77.98 83.67,75.41 84.38,72.9 85.08,70.41 85.78,67.94 86.49,65.48 87.19,63.03 87.9,60.58 88.6,58.15 89.3,55.71 90.01,53.25 90.71,50.78 91.42,48.31 92.12,45.89 92.82,43.51 93.53,41.22 94.23,39.01 94.94,36.81 95.64,34.67 96.34,32.64 97.05,30.78 97.75,29.09 98.46,27.43 99.16,25.84 99.86,24.41 100.57,23.21 101.27,22.35 101.98,21.68 102.68,21.06 103.38,20.51 104.09,20.05 104.79,19.71 105.5,19.53 106.2,19.53 106.9,19.65 107.61,19.88 108.31,20.19 109.02,20.55 109.72,20.95 110.42,21.49 111.13,22.25 111.83,23.19 112.54,24.28 113.24,25.47 113.94,26.73 114.65,28.05 115.35,29.61 116.06,31.4 116.76,33.35 117.46,35.4 118.17,37.51 118.87,39.6 119.58,41.62 120.28,43.51 120.98,45.28 121.69,47.02 122.39,48.73 123.1,50.42 123.8,52.12 124.5,53.84 125.21,55.59 125.91,57.33 126.62,59.08 127.32,60.85 128.02,62.65 128.73,64.49 129.43,66.36 130.14,68.26 130.84,70.18 131.54,72.15 132.25,74.18 132.95,76.27 133.66,78.46 134.36,80.85 135.06,83.37 135.77,85.94 136.47,88.46 137.18,90.84 137.88,93.01 138.58,95.02 139.29,96.96 139.99,98.82 140.7,100.58 141.4,102.22 142.1,103.71 142.81,105.06 143.51,106.32 144.22,107.51 144.92,108.64 145.62,109.71 146.33,110.72 147.03,111.68 147.74,112.59 148.44,113.47 149.14,114.3 149.85,115.11 150.55,115.91 151.26,116.67 151.96,117.41 152.66,118.1 153.37,118.76 154.07,119.37 154.78,119.93 155.48,120.43 156.18,120.89 156.89,121.31 157.59,121.7 158.3,122.07 159,122.42 159.7,122.75 160.41,123.07 161.11,123.38 161.82,123.68 162.52,123.97 163.22,124.27 163.93,124.57 164.63,124.86 165.34,125.14 166.04,125.42 166.74,125.69 167.45,125.95 168.15,126.21 168.86,126.46 169.56,126.71 170.26,126.95 170.97,127.19 171.67,127.42 172.38,127.65 173.08,127.87 173.78,128.09 174.49,128.3 175.19,128.52 175.9,128.73 176.6,128.94 177.3,129.15 178.01,129.37 178.71,129.58 179.42,129.8 180.12,130.02 180.82,130.24 181.53,130.45 182.23,130.67 182.94,130.89 183.64,131.1 184.34,131.32 185.05,131.54 185.75,131.77 186.46,131.99 187.16,132.22 187.86,132.45 188.57,132.69 189.27,132.93 189.98,133.17 190.68,133.42 191.38,133.66 192.09,133.91 192.79,134.15 193.5,134.38 194.2,134.62 194.9,134.85 195.61,135.07 196.31,135.3 197.02,135.52 197.72,135.74 198.42,135.96 199.13,136.18 199.83,136.4 200.54,136.62 201.24,136.83 201.94,137.04 202.65,137.26 203.35,137.47 204.06,137.67 204.76,137.88 205.46,138.09 206.17,138.29 206.87,138.49 207.58,138.69 208.28,138.89 208.98,139.09 209.69,139.3 210.39,139.5 211.1,139.7 211.8,139.9 212.5,140.1 213.21,140.3 213.91,140.51 214.62,140.72 215.32,140.92 216.02,141.13 216.73,141.33 217.43,141.53 218.14,141.73 218.84,141.92 219.54,142.11 220.25,142.3 220.95,142.48 221.66,142.66 222.36,142.84 223.06,143.03 223.77,143.2 224.47,143.38 225.18,143.55 225.88,143.72 226.58,143.88 227.29,144.04 227.99,144.19 228.7,144.32 229.4,144.45 230.1,144.58 230.81,144.69 231.51,144.81 232.22,144.91 232.92,145.02 233.62,145.12 234.33,145.21 235.03,145.31 235.74,145.4 236.44,145.49 237.14,145.58 237.85,145.66 238.55,145.75 239.26,145.83 239.96,145.91 240.66,145.99 241.37,146.07 242.07,146.15 242.78,146.22 243.48,146.29 244.18,146.37 244.89,146.43 245.59,146.5 246.3,146.56 247,146.62 247.7,146.68 248.41,146.74 249.11,146.79 249.82,146.85 250.52,146.9 251.22,146.96 251.93,147.01 252.63,147.06 253.34,147.1 254.04,147.15 254.74,147.19 255.45,147.23 256.15,147.27 256.86,147.31 257.56,147.34 258.26,147.37 258.97,147.41 259.67,147.44 260.38,147.47 261.08,147.5 261.78,147.53 262.49,147.55 263.19,147.57 263.9,147.58 264.6,147.58" fill="none" stroke="#2c29be" stroke-width="1.35" stroke-linejoin="round" />
<polyline points="53.4,123.31 54.1,123.43 54.81,123.56 55.51,123.69 56.22,123.8 56.92,123.87 57.62,123.9 58.33,123.87 59.03,123.76 59.74,123.61 60.44,123.42 61.14,123.21 61.85,122.99 62.55,122.72 63.26,122.39 63.96,121.99 64.66,121.54 65.37,121.03 66.07,120.48 66.78,119.87 67.48,119.1 68.18,118.19 68.89,117.16 69.59,116.04 70.3,114.85 71,113.63 71.7,112.34 72.41,110.93 73.11,109.39 73.82,107.75 74.52,106.02 75.22,104.21 75.93,102.26 76.63,100.18 77.34,97.99 78.04,95.73 78.74,93.42 79.45,91.02 80.15,88.48 80.86,85.86 81.56,83.19 82.26,80.51 82.97,77.86 83.67,75.28 84.38,72.76 85.08,70.25 85.78,67.76 86.49,65.29 87.19,62.82 87.9,60.36 88.6,57.91 89.3,55.46 90.01,52.98 90.71,50.49 91.42,48.02 92.12,45.57 92.82,43.19 93.53,40.88 94.23,38.65 94.94,36.45 95.64,34.29 96.34,32.25 97.05,30.37 97.75,28.68 98.46,27.01 99.16,25.4 99.86,23.96 100.57,22.76 101.27,21.89 101.98,21.22 102.68,20.59 103.38,20.03 104.09,19.57 104.79,19.24 105.5,19.05 106.2,19.05 106.9,19.17 107.61,19.4 108.31,19.71 109.02,20.07 109.72,20.47 110.42,21.01 111.13,21.77 111.83,22.72 112.54,23.81 113.24,25.01 113.94,26.27 114.65,27.6 115.35,29.17 116.06,30.97 116.76,32.93 117.46,35 118.17,37.11 118.87,39.21 119.58,41.24 120.28,43.14 120.98,44.92 121.69,46.66 122.39,48.38 123.1,50.08 123.8,51.78 124.5,53.51 125.21,55.26 125.91,57 126.62,58.76 127.32,60.53 128.02,62.33 128.73,64.18 129.43,66.06 130.14,67.97 130.84,69.9 131.54,71.87 132.25,73.91 132.95,76.01 133.66,78.21 134.36,80.61 135.06,83.14 135.77,85.72 136.47,88.25 137.18,90.66 137.88,92.84 138.58,94.85 139.29,96.8 139.99,98.68 140.7,100.44 141.4,102.09 142.1,103.59 142.81,104.95 143.51,106.22 144.22,107.41 144.92,108.55 145.62,109.62 146.33,110.64 147.03,111.61 147.74,112.53 148.44,113.4 149.14,114.24 149.85,115.06 150.55,115.86 151.26,116.63 151.96,117.37 152.66,118.07 153.37,118.73 154.07,119.34 154.78,119.9 155.48,120.41 156.18,120.86 156.89,121.29 157.59,121.68 158.3,122.05 159,122.4 159.7,122.74 160.41,123.06 161.11,123.36 161.82,123.67 162.52,123.97 163.22,124.26 163.93,124.56 164.63,124.86 165.34,125.14 166.04,125.42 166.74,125.69 167.45,125.95 168.15,126.21 168.86,126.46 169.56,126.71 170.26,126.95 170.97,127.19 171.67,127.43 172.38,127.65 173.08,127.87 173.78,128.09 174.49,128.31 175.19,128.52 175.9,128.73 176.6,128.94 177.3,129.16 178.01,129.37 178.71,129.59 179.42,129.81 180.12,130.03 180.82,130.24 181.53,130.46 182.23,130.68 182.94,130.89 183.64,131.11 184.34,131.33 185.05,131.55 185.75,131.77 186.46,132 187.16,132.23 187.86,132.46 188.57,132.69 189.27,132.94 189.98,133.18 190.68,133.42 191.38,133.67 192.09,133.91 192.79,134.15 193.5,134.39 194.2,134.62 194.9,134.85 195.61,135.08 196.31,135.3 197.02,135.53 197.72,135.75 198.42,135.97 199.13,136.19 199.83,136.41 200.54,136.62 201.24,136.84 201.94,137.05 202.65,137.26 203.35,137.47 204.06,137.68 204.76,137.89 205.46,138.09 206.17,138.29 206.87,138.5 207.58,138.7 208.28,138.9 208.98,139.1 209.69,139.3 210.39,139.5 211.1,139.7 211.8,139.9 212.5,140.1 213.21,140.31 213.91,140.51 214.62,140.72 215.32,140.93 216.02,141.13 216.73,141.33 217.43,141.53 218.14,141.73 218.84,141.93 219.54,142.12 220.25,142.3 220.95,142.48 221.66,142.67 222.36,142.85 223.06,143.03 223.77,143.21 224.47,143.39 225.18,143.56 225.88,143.73 226.58,143.89 227.29,144.04 227.99,144.19 228.7,144.33 229.4,144.46 230.1,144.58 230.81,144.7 231.51,144.81 232.22,144.92 232.92,145.02 233.62,145.12 234.33,145.22 235.03,145.31 235.74,145.4 236.44,145.49 237.14,145.58 237.85,145.66 238.55,145.75 239.26,145.83 239.96,145.91 240.66,145.99 241.37,146.07 242.07,146.15 242.78,146.22 243.48,146.29 244.18,146.37 244.89,146.43 245.59,146.5 246.3,146.56 247,146.62 247.7,146.68 248.41,146.74 249.11,146.79 249.82,146.85 250.52,146.9 251.22,146.96 251.93,147.01 252.63,147.06 253.34,147.1 254.04,147.15 254.74,147.19 255.45,147.23 256.15,147.27 256.86,147.31 257.56,147.34 258.26,147.37 258.97,147.41 259.67,147.44 260.38,147.47 261.08,147.5 261.78,147.53 262.49,147.55 263.19,147.57 263.9,147.58 264.6,147.58" fill="none" stroke="#3321a5" stroke-width="1.35" stroke-linejoin="round" />
<polyline points="53.4,123.36 54.1,123.48 54.81,123.61 55.51,123.74 56.22,123.85 56.92,123.93 57.62,123.96 58.33,123.92 59.03,123.82 59.74,123.67 60.44,123.48 61.14,123.27 61.85,123.05 62.55,122.78 63.26,122.44 63.96,122.05 64.66,121.59 65.37,121.09 66.07,120.53 66.78,119.92 67.48,119.15 68.18,118.24 68.89,117.21 69.59,116.08 70.3,114.89 71,113.66 71.7,112.37 72.41,110.95 73.11,109.41 73.82,107.76 74.52,106.03 75.22,104.21 75.93,102.25 76.63,100.16 77.34,97.97 78.04,95.7 78.74,93.38 79.45,90.96 80.15,88.42 80.86,85.79 81.56,83.1 82.26,80.41 82.97,77.75 83.67,75.15 84.38,72.61 85.08,70.09 85.78,67.59 86.49,65.1 87.19,62.61 87.9,60.14 88.6,57.68 89.3,55.21 90.01,52.71 90.71,50.21 91.42,47.72 92.12,45.26 92.82,42.86 93.53,40.54 94.23,38.3 94.94,36.08 95.64,33.91 96.34,31.86 97.05,29.97 97.75,28.26 98.46,26.58 99.16,24.97 99.86,23.51 100.57,22.31 101.27,21.43 101.98,20.76 102.68,20.12 103.38,19.56 104.09,19.1 104.79,18.76 105.5,18.57 106.2,18.57 106.9,18.69 107.61,18.92 108.31,19.23 109.02,19.59 109.72,19.99 110.42,20.53 111.13,21.29 111.83,22.24 112.54,23.34 113.24,24.55 113.94,25.82 114.65,27.15 115.35,28.73 116.06,30.53 116.76,32.51 117.46,34.59 118.17,36.72 118.87,38.83 119.58,40.87 120.28,42.77 120.98,44.56 121.69,46.31 122.39,48.03 123.1,49.73 123.8,51.44 124.5,53.17 125.21,54.92 125.91,56.68 126.62,58.44 127.32,60.21 128.02,62.02 128.73,63.88 129.43,65.77 130.14,67.67 130.84,69.61 131.54,71.59 132.25,73.63 132.95,75.74 133.66,77.96 134.36,80.37 135.06,82.91 135.77,85.51 136.47,88.05 137.18,90.47 137.88,92.66 138.58,94.68 139.29,96.65 139.99,98.53 140.7,100.31 141.4,101.96 142.1,103.47 142.81,104.84 143.51,106.11 144.22,107.32 144.92,108.46 145.62,109.54 146.33,110.56 147.03,111.53 147.74,112.46 148.44,113.34 149.14,114.18 149.85,115.01 150.55,115.81 151.26,116.58 151.96,117.32 152.66,118.03 153.37,118.69 154.07,119.31 154.78,119.88 155.48,120.38 156.18,120.84 156.89,121.27 157.59,121.66 158.3,122.04 159,122.39 159.7,122.72 160.41,123.04 161.11,123.35 161.82,123.66 162.52,123.96 163.22,124.26 163.93,124.56 164.63,124.85 165.34,125.13 166.04,125.41 166.74,125.68 167.45,125.95 168.15,126.21 168.86,126.46 169.56,126.71 170.26,126.95 170.97,127.19 171.67,127.43 172.38,127.65 173.08,127.88 173.78,128.09 174.49,128.31 175.19,128.52 175.9,128.73 176.6,128.95 177.3,129.16 178.01,129.37 178.71,129.59 179.42,129.81 180.12,130.03 180.82,130.25 181.53,130.46 182.23,130.68 182.94,130.9 183.64,131.12 184.34,131.33 185.05,131.55 185.75,131.78 186.46,132 187.16,132.23 187.86,132.46 188.57,132.7 189.27,132.94 189.98,133.19 190.68,133.43 191.38,133.68 192.09,133.92 192.79,134.16 193.5,134.4 194.2,134.63 194.9,134.86 195.61,135.09 196.31,135.31 197.02,135.53 197.72,135.76 198.42,135.98 199.13,136.2 199.83,136.41 200.54,136.63 201.24,136.84 201.94,137.06 202.65,137.27 203.35,137.48 204.06,137.69 204.76,137.89 205.46,138.1 206.17,138.3 206.87,138.5 207.58,138.7 208.28,138.9 208.98,139.1 209.69,139.3 210.39,139.5 211.1,139.7 211.8,139.91 212.5,140.11 213.21,140.31 213.91,140.52 214.62,140.72 215.32,140.93 216.02,141.13 216.73,141.34 217.43,141.54 218.14,141.74 218.84,141.93 219.54,142.12 220.25,142.3 220.95,142.49 221.66,142.67 222.36,142.85 223.06,143.03 223.77,143.21 224.47,143.39 225.18,143.56 225.88,143.73 226.58,143.89 227.29,144.05 227.99,144.19 228.7,144.33 229.4,144.46 230.1,144.58 230.81,144.7 231.51,144.81 232.22,144.92 232.92,145.02 233.62,145.12 234.33,145.22 235.03,145.31 235.74,145.4 236.44,145.49 237.14,145.58 237.85,145.66 238.55,145.75 239.26,145.83 239.96,145.91 240.66,145.99 241.37,146.07 242.07,146.15 242.78,146.22 243.48,146.29 244.18,146.37 244.89,146.43 245.59,146.5 246.3,146.56 247,146.62 247.7,146.68 248.41,146.74 249.11,146.79 249.82,146.85 250.52,146.9 251.22,146.96 251.93,147.01 252.63,147.06 253.34,147.1 254.04,147.15 254.74,147.19 255.45,147.23 256.15,147.27 256.86,147.31 257.56,147.34 258.26,147.37 258.97,147.41 259.67,147.44 260.38,147.47 261.08,147.5 261.78,147.53 262.49,147.55 263.19,147.57 263.9,147.58 264.6,147.58" fill="none" stroke="#3a1c8a" stroke-width="1.3" stroke-linejoin="round" />
</g>
<rect x="53.4" y="4.4" width="211.2" height="143.9" fill="none" stroke="#111" stroke-width="1.2"/>
<line x1="53.4" y1="148.3" x2="53.4" y2="151.3" stroke="#1a1a1a" stroke-width="0.9" />
<line x1="53.4" y1="4.4" x2="53.4" y2="7.4" stroke="#1a1a1a" stroke-width="0.9" />
<text x="53.4" y="161.6" font-size="11" text-anchor="middle" fill="#0d0d0d" font-weight="normal" >300</text>
<line x1="71" y1="148.3" x2="71" y2="150" stroke="#1a1a1a" stroke-width="0.9" />
<line x1="71" y1="4.4" x2="71" y2="6.1" stroke="#1a1a1a" stroke-width="0.9" />
<line x1="88.6" y1="148.3" x2="88.6" y2="151.3" stroke="#1a1a1a" stroke-width="0.9" />
<line x1="88.6" y1="4.4" x2="88.6" y2="7.4" stroke="#1a1a1a" stroke-width="0.9" />
<text x="88.6" y="161.6" font-size="11" text-anchor="middle" fill="#0d0d0d" font-weight="normal" >350</text>
<line x1="106.2" y1="148.3" x2="106.2" y2="150" stroke="#1a1a1a" stroke-width="0.9" />
<line x1="106.2" y1="4.4" x2="106.2" y2="6.1" stroke="#1a1a1a" stroke-width="0.9" />
<line x1="123.8" y1="148.3" x2="123.8" y2="151.3" stroke="#1a1a1a" stroke-width="0.9" />
<line x1="123.8" y1="4.4" x2="123.8" y2="7.4" stroke="#1a1a1a" stroke-width="0.9" />
<text x="123.8" y="161.6" font-size="11" text-anchor="middle" fill="#0d0d0d" font-weight="normal" >400</text>
<line x1="141.4" y1="148.3" x2="141.4" y2="150" stroke="#1a1a1a" stroke-width="0.9" />
<line x1="141.4" y1="4.4" x2="141.4" y2="6.1" stroke="#1a1a1a" stroke-width="0.9" />
<line x1="159" y1="148.3" x2="159" y2="151.3" stroke="#1a1a1a" stroke-width="0.9" />
<line x1="159" y1="4.4" x2="159" y2="7.4" stroke="#1a1a1a" stroke-width="0.9" />
<text x="159" y="161.6" font-size="11" text-anchor="middle" fill="#0d0d0d" font-weight="normal" >450</text>
<line x1="176.6" y1="148.3" x2="176.6" y2="150" stroke="#1a1a1a" stroke-width="0.9" />
<line x1="176.6" y1="4.4" x2="176.6" y2="6.1" stroke="#1a1a1a" stroke-width="0.9" />
<line x1="194.2" y1="148.3" x2="194.2" y2="151.3" stroke="#1a1a1a" stroke-width="0.9" />
<line x1="194.2" y1="4.4" x2="194.2" y2="7.4" stroke="#1a1a1a" stroke-width="0.9" />
<text x="194.2" y="161.6" font-size="11" text-anchor="middle" fill="#0d0d0d" font-weight="normal" >500</text>
<line x1="211.8" y1="148.3" x2="211.8" y2="150" stroke="#1a1a1a" stroke-width="0.9" />
<line x1="211.8" y1="4.4" x2="211.8" y2="6.1" stroke="#1a1a1a" stroke-width="0.9" />
<line x1="229.4" y1="148.3" x2="229.4" y2="151.3" stroke="#1a1a1a" stroke-width="0.9" />
<line x1="229.4" y1="4.4" x2="229.4" y2="7.4" stroke="#1a1a1a" stroke-width="0.9" />
<text x="229.4" y="161.6" font-size="11" text-anchor="middle" fill="#0d0d0d" font-weight="normal" >550</text>
<line x1="247" y1="148.3" x2="247" y2="150" stroke="#1a1a1a" stroke-width="0.9" />
<line x1="247" y1="4.4" x2="247" y2="6.1" stroke="#1a1a1a" stroke-width="0.9" />
<line x1="264.6" y1="148.3" x2="264.6" y2="151.3" stroke="#1a1a1a" stroke-width="0.9" />
<line x1="264.6" y1="4.4" x2="264.6" y2="7.4" stroke="#1a1a1a" stroke-width="0.9" />
<text x="264.6" y="161.6" font-size="11" text-anchor="middle" fill="#0d0d0d" font-weight="normal" >600</text>
<line x1="50.4" y1="148.3" x2="53.4" y2="148.3" stroke="#1a1a1a" stroke-width="0.9" />
<line x1="261.6" y1="148.3" x2="264.6" y2="148.3" stroke="#1a1a1a" stroke-width="0.9" />
<text x="45.4" y="152.2" font-size="11" text-anchor="end" fill="#0d0d0d" font-weight="normal" >0</text>
<line x1="51.7" y1="136.31" x2="53.4" y2="136.31" stroke="#1a1a1a" stroke-width="0.9" />
<line x1="262.9" y1="136.31" x2="264.6" y2="136.31" stroke="#1a1a1a" stroke-width="0.9" />
<line x1="50.4" y1="124.32" x2="53.4" y2="124.32" stroke="#1a1a1a" stroke-width="0.9" />
<line x1="261.6" y1="124.32" x2="264.6" y2="124.32" stroke="#1a1a1a" stroke-width="0.9" />
<text x="45.4" y="128.22" font-size="11" text-anchor="end" fill="#0d0d0d" font-weight="normal" >0.1</text>
<line x1="51.7" y1="112.33" x2="53.4" y2="112.33" stroke="#1a1a1a" stroke-width="0.9" />
<line x1="262.9" y1="112.33" x2="264.6" y2="112.33" stroke="#1a1a1a" stroke-width="0.9" />
<line x1="50.4" y1="100.33" x2="53.4" y2="100.33" stroke="#1a1a1a" stroke-width="0.9" />
<line x1="261.6" y1="100.33" x2="264.6" y2="100.33" stroke="#1a1a1a" stroke-width="0.9" />
<text x="45.4" y="104.23" font-size="11" text-anchor="end" fill="#0d0d0d" font-weight="normal" >0.2</text>
<line x1="51.7" y1="88.34" x2="53.4" y2="88.34" stroke="#1a1a1a" stroke-width="0.9" />
<line x1="262.9" y1="88.34" x2="264.6" y2="88.34" stroke="#1a1a1a" stroke-width="0.9" />
<line x1="50.4" y1="76.35" x2="53.4" y2="76.35" stroke="#1a1a1a" stroke-width="0.9" />
<line x1="261.6" y1="76.35" x2="264.6" y2="76.35" stroke="#1a1a1a" stroke-width="0.9" />
<text x="45.4" y="80.25" font-size="11" text-anchor="end" fill="#0d0d0d" font-weight="normal" >0.3</text>
<line x1="51.7" y1="64.36" x2="53.4" y2="64.36" stroke="#1a1a1a" stroke-width="0.9" />
<line x1="262.9" y1="64.36" x2="264.6" y2="64.36" stroke="#1a1a1a" stroke-width="0.9" />
<line x1="50.4" y1="52.37" x2="53.4" y2="52.37" stroke="#1a1a1a" stroke-width="0.9" />
<line x1="261.6" y1="52.37" x2="264.6" y2="52.37" stroke="#1a1a1a" stroke-width="0.9" />
<text x="45.4" y="56.27" font-size="11" text-anchor="end" fill="#0d0d0d" font-weight="normal" >0.4</text>
<line x1="51.7" y1="40.37" x2="53.4" y2="40.37" stroke="#1a1a1a" stroke-width="0.9" />
<line x1="262.9" y1="40.37" x2="264.6" y2="40.37" stroke="#1a1a1a" stroke-width="0.9" />
<line x1="50.4" y1="28.38" x2="53.4" y2="28.38" stroke="#1a1a1a" stroke-width="0.9" />
<line x1="261.6" y1="28.38" x2="264.6" y2="28.38" stroke="#1a1a1a" stroke-width="0.9" />
<text x="45.4" y="32.28" font-size="11" text-anchor="end" fill="#0d0d0d" font-weight="normal" >0.5</text>
<line x1="51.7" y1="16.39" x2="53.4" y2="16.39" stroke="#1a1a1a" stroke-width="0.9" />
<line x1="262.9" y1="16.39" x2="264.6" y2="16.39" stroke="#1a1a1a" stroke-width="0.9" />
<line x1="50.4" y1="4.4" x2="53.4" y2="4.4" stroke="#1a1a1a" stroke-width="0.9" />
<line x1="261.6" y1="4.4" x2="264.6" y2="4.4" stroke="#1a1a1a" stroke-width="0.9" />
<text x="45.4" y="8.3" font-size="11" text-anchor="end" fill="#0d0d0d" font-weight="normal" >0.6</text>
<text x="159.3" y="177.8" font-size="13.5" text-anchor="middle" fill="#0d0d0d" font-weight="normal" textLength="102" lengthAdjust="spacingAndGlyphs">Wavelength (nm)</text>
<text x="0" y="0" font-size="13.5" text-anchor="middle" fill="#0d0d0d" font-weight="normal" transform="translate(22.5,76) rotate(-90)" textLength="72" lengthAdjust="spacingAndGlyphs">Absorbance</text>
<text x="-0.3" y="8.6" font-size="15.5" text-anchor="start" fill="#000" font-weight="bold" >a</text>
<rect x="168.2" y="34" width="2.3" height="63.8" fill="#8a8a8a"/>
<polygon points="164.6,36 169.35,25.2 174.1,36" fill="#8a8a8a"/>
<text x="0" y="0" font-size="13" text-anchor="middle" fill="#8a8a8a" font-weight="normal" transform="translate(184,61.5) rotate(-90)" textLength="28" lengthAdjust="spacingAndGlyphs">Time</text>
<rect x="218.6" y="40.4" width="20.9" height="53.1" fill="url(#cbar)"/>
<rect x="218.6" y="40.4" width="20.9" height="53.1" fill="none" stroke="url(#cbarb)" stroke-width="0.9"/>
<text x="228.7" y="36.7" font-size="13" text-anchor="middle" fill="#000" font-weight="normal" textLength="29" lengthAdjust="spacingAndGlyphs">trans</text>
<text x="229" y="106.8" font-size="13" text-anchor="middle" fill="#000" font-weight="normal" >cis</text>
<text x="-0.1" y="213.4" font-size="15.8" text-anchor="start" fill="#000" font-weight="bold" >b</text>
<text x="18.1" y="202.4" font-size="11.5" text-anchor="start" fill="#2a2a2a" font-weight="normal" textLength="75.5" lengthAdjust="spacingAndGlyphs">cis-hydrazone</text>
<polygon points="38.3,249 32.1,259.74 19.7,259.74 13.5,249 19.7,238.26 32.1,238.26" fill="none" stroke="#2a2a2a" stroke-width="0.95" stroke-linejoin="round"/>
<line x1="21.68" y1="240.46" x2="30.12" y2="240.46" stroke="#2a2a2a" stroke-width="0.95" stroke-linecap="round"/>
<line x1="35.4" y1="249.62" x2="31.19" y2="256.92" stroke="#2a2a2a" stroke-width="0.95" stroke-linecap="round"/>
<line x1="20.61" y1="256.92" x2="16.4" y2="249.62" stroke="#2a2a2a" stroke-width="0.95" stroke-linecap="round"/>
<line x1="25.9" y1="249.5" x2="25.9" y2="262.3" stroke="#2a2a2a" stroke-width="0.95" stroke-linecap="round"/>
<text x="25.9" y="270.55" font-size="8.2" text-anchor="middle" fill="#2a2a2a" font-weight="normal" >R</text>
<line x1="32.1" y1="238.26" x2="36.65" y2="231.78" stroke="#2a2a2a" stroke-width="0.95" stroke-linecap="round"/>
<text x="38.6" y="231.95" font-size="8.2" text-anchor="middle" fill="#2a2a2a" font-weight="normal" >N</text>
<text x="50.2" y="231.95" font-size="8.2" text-anchor="middle" fill="#2a2a2a" font-weight="normal" >N</text>
<text x="30" y="217.25" font-size="8.2" text-anchor="middle" fill="#2a2a2a" font-weight="normal" >H</text>
<line x1="41.9" y1="229" x2="46.9" y2="229" stroke="#2a2a2a" stroke-width="0.95" stroke-linecap="round"/>
<line x1="36.78" y1="225.89" x2="31.82" y2="217.41" stroke="#2a2a2a" stroke-width="0.95" stroke-linecap="round"/>
<polygon points="74.9,248.8 68.75,259.45 56.45,259.45 50.3,248.8 56.45,238.15 68.75,238.15" fill="none" stroke="#2a2a2a" stroke-width="0.95" stroke-linejoin="round"/>
<line x1="67.83" y1="240.95" x2="72.01" y2="248.2" stroke="#2a2a2a" stroke-width="0.95" stroke-linecap="round"/>
<line x1="57.37" y1="256.65" x2="53.19" y2="249.4" stroke="#2a2a2a" stroke-width="0.95" stroke-linecap="round"/>
<line x1="51.27" y1="232.51" x2="55.54" y2="238.77" stroke="#2a2a2a" stroke-width="0.95" stroke-linecap="round"/>
<line x1="53.08" y1="231.27" x2="57.36" y2="237.53" stroke="#2a2a2a" stroke-width="0.95" stroke-linecap="round"/>
<line x1="67.79" y1="259.99" x2="71.57" y2="266.7" stroke="#2a2a2a" stroke-width="0.95" stroke-linecap="round"/>
<line x1="69.71" y1="258.91" x2="73.49" y2="265.62" stroke="#2a2a2a" stroke-width="0.95" stroke-linecap="round"/>
<text x="74.3" y="272.25" font-size="8.2" text-anchor="middle" fill="#2a2a2a" font-weight="normal" >O</text>
<line x1="84" y1="248.3" x2="107.3" y2="248.3" stroke="#2a2a2a" stroke-width="0.9" />
<polygon points="111.3,248.3 105.8,246.3 105.8,250.3" fill="#2a2a2a"/>
<line x1="43.3" y1="294.5" x2="43.3" y2="268" stroke="#2a2a2a" stroke-width="0.9"/>
<polygon points="43.3,266.6 41.2,272.6 43.3,271.6" fill="#2a2a2a"/>
<line x1="45.7" y1="267.3" x2="45.7" y2="293.8" stroke="#2a2a2a" stroke-width="0.9"/>
<polygon points="45.7,295.2 47.8,289.2 45.7,290.2" fill="#2a2a2a"/>
<polygon points="143.7,249.3 137.5,260.04 125.1,260.04 118.9,249.3 125.1,238.56 137.5,238.56" fill="none" stroke="#2a2a2a" stroke-width="0.95" stroke-linejoin="round"/>
<line x1="127.08" y1="240.76" x2="135.52" y2="240.76" stroke="#2a2a2a" stroke-width="0.95" stroke-linecap="round"/>
<line x1="140.8" y1="249.92" x2="136.59" y2="257.22" stroke="#2a2a2a" stroke-width="0.95" stroke-linecap="round"/>
<line x1="126.01" y1="257.22" x2="121.8" y2="249.92" stroke="#2a2a2a" stroke-width="0.95" stroke-linecap="round"/>
<line x1="131.3" y1="249.8" x2="131.3" y2="262.6" stroke="#2a2a2a" stroke-width="0.95" stroke-linecap="round"/>
<text x="131.3" y="270.95" font-size="8.2" text-anchor="middle" fill="#2a2a2a" font-weight="normal" >R</text>
<line x1="137.5" y1="238.56" x2="141.51" y2="232.09" stroke="#2a2a2a" stroke-width="0.95" stroke-linecap="round"/>
<text x="143.3" y="232.15" font-size="8.2" text-anchor="middle" fill="#2a2a2a" font-weight="normal" >N</text>
<text x="163.3" y="232.15" font-size="8.2" text-anchor="middle" fill="#2a2a2a" font-weight="normal" >N</text>
<text x="136.9" y="218.75" font-size="8.2" text-anchor="middle" fill="#2a2a2a" font-weight="normal" >H</text>
<line x1="146.6" y1="229.2" x2="160" y2="229.2" stroke="#2a2a2a" stroke-width="0.95" stroke-linecap="round"/>
<line x1="141.75" y1="225.95" x2="138.45" y2="219.05" stroke="#2a2a2a" stroke-width="0.95" stroke-linecap="round"/>
<path d="M152.6,239.6 C149.3,235.2 149.2,226.2 153.4,223.9 C156.0,222.5 158.4,225.0 157.9,230.6" fill="none" stroke="#2a2a2a" stroke-width="0.95"/>
<polygon points="157.6,234.8 155.8,230.0 159.4,230.3" fill="#2a2a2a"/>
<polygon points="173.6,236.6 181.6,234.5 192.3,242.2 192.7,251.8 184,253.9 173.8,246.5" fill="none" stroke="#2a2a2a" stroke-width="0.95" stroke-linejoin="round"/>
<line x1="182.19" y1="237.39" x2="189.47" y2="242.63" stroke="#2a2a2a" stroke-width="0.95" stroke-linecap="round"/>
<line x1="176.56" y1="246.03" x2="183.5" y2="251.06" stroke="#2a2a2a" stroke-width="0.95" stroke-linecap="round"/>
<line x1="184" y1="253.9" x2="192.7" y2="251.8" stroke="#2a2a2a" stroke-width="2" stroke-linecap="round"/>
<line x1="165.5" y1="232.14" x2="172.96" y2="237.49" stroke="#2a2a2a" stroke-width="0.95" stroke-linecap="round"/>
<line x1="166.78" y1="230.35" x2="174.24" y2="235.71" stroke="#2a2a2a" stroke-width="0.95" stroke-linecap="round"/>
<line x1="191.92" y1="252.58" x2="197.55" y2="258.2" stroke="#2a2a2a" stroke-width="0.95" stroke-linecap="round"/>
<line x1="193.48" y1="251.02" x2="199.1" y2="256.65" stroke="#2a2a2a" stroke-width="0.95" stroke-linecap="round"/>
<text x="200.8" y="262.85" font-size="8.2" text-anchor="middle" fill="#2a2a2a" font-weight="normal" >O</text>
<text x="190.7" y="205.3" font-size="11" text-anchor="middle" fill="#2a2a2a" font-weight="normal" >Fast</text>
<text x="190.7" y="216.9" font-size="11" text-anchor="middle" fill="#2a2a2a" font-weight="normal" >rotation</text>
<line x1="206.6" y1="266.2" x2="216.8" y2="281.8" stroke="#2a2a2a" stroke-width="0.95" stroke-linecap="round"/>
<line x1="216.8" y1="281.8" x2="207.4" y2="297.8" stroke="#2a2a2a" stroke-width="0.95" stroke-linecap="round"/>
<line x1="216.8" y1="281.8" x2="237.9" y2="281.8" stroke="#2a2a2a" stroke-width="0.9" />
<polygon points="241.9,281.8 236.4,279.8 236.4,283.8" fill="#2a2a2a"/>
<polygon points="39.8,324 33.6,334.74 21.2,334.74 15,324 21.2,313.26 33.6,313.26" fill="none" stroke="#2a2a2a" stroke-width="0.95" stroke-linejoin="round"/>
<line x1="23.18" y1="315.46" x2="31.62" y2="315.46" stroke="#2a2a2a" stroke-width="0.95" stroke-linecap="round"/>
<line x1="36.9" y1="324.62" x2="32.69" y2="331.92" stroke="#2a2a2a" stroke-width="0.95" stroke-linecap="round"/>
<line x1="22.11" y1="331.92" x2="17.9" y2="324.62" stroke="#2a2a2a" stroke-width="0.95" stroke-linecap="round"/>
<line x1="27.4" y1="324.5" x2="27.4" y2="337.3" stroke="#2a2a2a" stroke-width="0.95" stroke-linecap="round"/>
<text x="27.4" y="346.85" font-size="8.2" text-anchor="middle" fill="#2a2a2a" font-weight="normal" >R</text>
<line x1="33.6" y1="313.26" x2="37.87" y2="307.1" stroke="#2a2a2a" stroke-width="0.95" stroke-linecap="round"/>
<text x="39.8" y="307.25" font-size="8.2" text-anchor="middle" fill="#2a2a2a" font-weight="normal" >N</text>
<text x="51.2" y="307.25" font-size="8.2" text-anchor="middle" fill="#2a2a2a" font-weight="normal" >N</text>
<line x1="43.2" y1="305.4" x2="47.8" y2="305.4" stroke="#2a2a2a" stroke-width="0.95" stroke-linecap="round"/>
<line x1="43.2" y1="303.2" x2="47.8" y2="303.2" stroke="#2a2a2a" stroke-width="0.95" stroke-linecap="round"/>
<polygon points="76.3,324 70.15,334.65 57.85,334.65 51.7,324 57.85,313.35 70.15,313.35" fill="none" stroke="#2a2a2a" stroke-width="0.95" stroke-linejoin="round"/>
<line x1="59.82" y1="315.55" x2="68.18" y2="315.55" stroke="#2a2a2a" stroke-width="0.95" stroke-linecap="round"/>
<line x1="73.41" y1="324.6" x2="69.23" y2="331.85" stroke="#2a2a2a" stroke-width="0.95" stroke-linecap="round"/>
<line x1="58.77" y1="331.85" x2="54.59" y2="324.6" stroke="#2a2a2a" stroke-width="0.95" stroke-linecap="round"/>
<line x1="53.27" y1="307.12" x2="57.85" y2="313.35" stroke="#2a2a2a" stroke-width="0.95" stroke-linecap="round"/>
<line x1="70.15" y1="334.65" x2="75.08" y2="343.02" stroke="#2a2a2a" stroke-width="0.95" stroke-linecap="round"/>
<text x="79.6" y="348.55" font-size="8.2" text-anchor="middle" fill="#2a2a2a" font-weight="normal" >OH</text>
<line x1="83.6" y1="323.9" x2="107.2" y2="323.9" stroke="#2a2a2a" stroke-width="0.9" />
<polygon points="111.2,323.9 105.7,321.9 105.7,325.9" fill="#2a2a2a"/>
<text x="46.7" y="363.8" font-size="11.8" text-anchor="middle" fill="#2a2a2a" font-weight="normal" textLength="37" lengthAdjust="spacingAndGlyphs">cis-azo</text>
<polygon points="145.9,325.5 139.7,336.24 127.3,336.24 121.1,325.5 127.3,314.76 139.7,314.76" fill="none" stroke="#2a2a2a" stroke-width="0.95" stroke-linejoin="round"/>
<line x1="129.28" y1="316.96" x2="137.72" y2="316.96" stroke="#2a2a2a" stroke-width="0.95" stroke-linecap="round"/>
<line x1="143" y1="326.12" x2="138.79" y2="333.42" stroke="#2a2a2a" stroke-width="0.95" stroke-linecap="round"/>
<line x1="128.21" y1="333.42" x2="124" y2="326.12" stroke="#2a2a2a" stroke-width="0.95" stroke-linecap="round"/>
<line x1="133.5" y1="326" x2="133.5" y2="338.8" stroke="#2a2a2a" stroke-width="0.95" stroke-linecap="round"/>
<text x="133.5" y="347.95" font-size="8.2" text-anchor="middle" fill="#2a2a2a" font-weight="normal" >R</text>
<line x1="139.7" y1="314.76" x2="144.02" y2="308.76" stroke="#2a2a2a" stroke-width="0.95" stroke-linecap="round"/>
<text x="146" y="308.95" font-size="8.2" text-anchor="middle" fill="#2a2a2a" font-weight="normal" >N</text>
<text x="157.5" y="308.95" font-size="8.2" text-anchor="middle" fill="#2a2a2a" font-weight="normal" >N</text>
<line x1="149.4" y1="307.1" x2="154.1" y2="307.1" stroke="#2a2a2a" stroke-width="0.95" stroke-linecap="round"/>
<line x1="149.4" y1="304.9" x2="154.1" y2="304.9" stroke="#2a2a2a" stroke-width="0.95" stroke-linecap="round"/>
<polygon points="200,305.3 194,315.69 182,315.69 176,305.3 182,294.91 194,294.91" fill="none" stroke="#2a2a2a" stroke-width="0.95" stroke-linejoin="round"/>
<line x1="183.92" y1="297.11" x2="192.08" y2="297.11" stroke="#2a2a2a" stroke-width="0.95" stroke-linecap="round"/>
<line x1="197.13" y1="305.86" x2="193.05" y2="312.93" stroke="#2a2a2a" stroke-width="0.95" stroke-linecap="round"/>
<line x1="182.95" y1="312.93" x2="178.87" y2="305.86" stroke="#2a2a2a" stroke-width="0.95" stroke-linecap="round"/>
<line x1="160.9" y1="305.87" x2="176" y2="305.3" stroke="#2a2a2a" stroke-width="0.95" stroke-linecap="round"/>
<line x1="200" y1="305.3" x2="211.2" y2="305.3" stroke="#2a2a2a" stroke-width="0.95" stroke-linecap="round"/>
<text x="216.2" y="308.25" font-size="8.2" text-anchor="middle" fill="#2a2a2a" font-weight="normal" >OH</text>
<text x="175.6" y="336" font-size="11" text-anchor="middle" fill="#2a2a2a" font-weight="normal" >Slow</text>
<text x="175.6" y="348" font-size="11" text-anchor="middle" fill="#2a2a2a" font-weight="normal" >inversion</text>
<polygon points="262.9,304.2 256.7,314.94 244.3,314.94 238.1,304.2 244.3,293.46 256.7,293.46" fill="none" stroke="#2a2a2a" stroke-width="0.95" stroke-linejoin="round"/>
<line x1="246.28" y1="295.66" x2="254.72" y2="295.66" stroke="#2a2a2a" stroke-width="0.95" stroke-linecap="round"/>
<line x1="260" y1="304.82" x2="255.79" y2="312.12" stroke="#2a2a2a" stroke-width="0.95" stroke-linecap="round"/>
<line x1="245.21" y1="312.12" x2="241" y2="304.82" stroke="#2a2a2a" stroke-width="0.95" stroke-linecap="round"/>
<line x1="250.5" y1="304.7" x2="250.5" y2="317.5" stroke="#2a2a2a" stroke-width="0.95" stroke-linecap="round"/>
<text x="250.5" y="325.75" font-size="8.2" text-anchor="middle" fill="#2a2a2a" font-weight="normal" >R</text>
<line x1="256.7" y1="293.46" x2="260.55" y2="287.02" stroke="#2a2a2a" stroke-width="0.95" stroke-linecap="round"/>
<text x="262.3" y="287.05" font-size="8.2" text-anchor="middle" fill="#2a2a2a" font-weight="normal" >N</text>
<text x="274.6" y="287.05" font-size="8.2" text-anchor="middle" fill="#2a2a2a" font-weight="normal" >N</text>
<line x1="265.7" y1="285.2" x2="271.2" y2="285.2" stroke="#2a2a2a" stroke-width="0.95" stroke-linecap="round"/>
<line x1="265.7" y1="283" x2="271.2" y2="283" stroke="#2a2a2a" stroke-width="0.95" stroke-linecap="round"/>
<polygon points="299.9,262 293.7,272.74 281.3,272.74 275.1,262 281.3,251.26 293.7,251.26" fill="none" stroke="#2a2a2a" stroke-width="0.95" stroke-linejoin="round"/>
<line x1="283.28" y1="253.46" x2="291.72" y2="253.46" stroke="#2a2a2a" stroke-width="0.95" stroke-linecap="round"/>
<line x1="297" y1="262.62" x2="292.79" y2="269.92" stroke="#2a2a2a" stroke-width="0.95" stroke-linecap="round"/>
<line x1="282.21" y1="269.92" x2="278" y2="262.62" stroke="#2a2a2a" stroke-width="0.95" stroke-linecap="round"/>
<line x1="276.33" y1="281.17" x2="281.3" y2="272.74" stroke="#2a2a2a" stroke-width="0.95" stroke-linecap="round"/>
<line x1="293.7" y1="251.26" x2="298.49" y2="244.24" stroke="#2a2a2a" stroke-width="0.95" stroke-linecap="round"/>
<text x="302.8" y="244.55" font-size="8.2" text-anchor="middle" fill="#2a2a2a" font-weight="normal" >OH</text>
<g clip-path="url(#clipC)">
<polyline points="347.1,73.93 347.22,72.17 347.34,71.73 347.46,69.18 347.58,71.24 347.7,71.14 347.82,71.49 347.94,70.78 348.06,71.54 348.18,70.98 348.3,69.89 348.42,72.75 348.54,72.75 348.66,73.82 348.78,71.67 348.9,71.07 349.02,70.89 349.14,69.59 349.26,72.88 349.38,70.17 349.5,70.06 349.62,71.33 349.74,73.53 349.86,71.91 349.98,70.27 350.1,70.67 350.22,72.41 350.34,71.39 350.46,70.6 350.58,71.3 350.7,72.57 350.82,74.17 350.94,69.98 351.06,70.79 351.18,70.56 351.3,68.46 351.42,70.4 351.54,70.27 351.66,73.06 351.78,71.43 351.9,69.49 352.02,72.44 352.14,71.14 352.26,69.33 352.38,70.82 352.5,70.83 352.62,70.46 352.74,71.64 352.86,68.68 352.98,71.25 353.1,72.92 353.22,72.71 353.34,73.04 353.46,73.06 353.58,73.53 353.7,70.15 353.82,72.7 353.94,69.18 354.06,70.82 354.18,69.11 354.3,72.96 354.42,73.33 354.54,71.34 354.66,73.91 354.78,70.72 354.9,71.8 355.02,71.8 355.14,70.22 355.26,72.17 355.38,74.12 355.5,70.27 355.62,72.77 355.74,71.4 355.86,73.9 355.98,72.23 356.1,72.48 356.22,72.44 356.34,71.92 356.46,69.79 356.58,73.41 356.75,71.6" fill="none" stroke="#e8383e" stroke-width="2.7" stroke-linejoin="round" stroke-linecap="butt"/>
<polyline points="356.75,71.6 356.95,279.9 357.25,279.9 357.3,254.43 357.35,243.31 357.4,238.86 357.45,236.86 357.5,235.77 357.55,235.01 357.6,234.39 357.65,233.81 357.7,233.25 357.75,232.7 357.8,232.16 357.85,231.62 357.9,231.09 357.95,230.56 358,230.03 358.05,229.51 358.1,228.99 358.15,228.48 358.2,227.97" fill="none" stroke="#e8383e" stroke-width="1.7" stroke-linejoin="round" stroke-linecap="butt"/>
<polyline points="358.2,227.97 358.25,226.92 358.3,227.06 358.35,226.74 358.4,225.55 358.45,225.54 358.5,225.62 358.55,224.48 358.6,223.46 358.65,221.64 358.7,222.39 358.75,222.16 358.8,221.73 358.85,220.9 358.9,221.49 358.95,220.24 359,220.18 359.05,220.44 359.1,218.56 359.15,218.63 359.2,220.66 359.25,218.95 359.3,216.22 359.35,217.08 359.4,217.38 359.45,217.76 359.5,216.07 359.55,214.81 359.6,214.12 359.65,215.47 359.7,214.63 359.75,213.14 359.8,213.16 359.85,212.46 359.9,213.54 359.95,211.3 360,212.43 360.05,212.51 360.1,211.65 360.15,209.54 360.2,211.99 360.25,208.98 360.3,210.04 360.35,208.13 360.4,206.46 360.45,208.65 360.5,208.36 360.55,207.52 360.6,207.61 360.65,206.05 360.7,205.58 360.75,205.96 360.8,208.3 360.85,206.53 360.9,204.44 360.95,205.5 361,203.8 361.05,203.49 361.1,204.86 361.15,202.72 361.2,200.89 361.25,201.56 361.3,202.52 361.42,201.78 361.54,202.46 361.66,199.15 361.78,200.28 361.9,199.15 362.02,197.67 362.14,198.24 362.26,197.09 362.38,194.63 362.5,196.46 362.62,192.81 362.74,193.81 362.86,193.09 362.98,192.99 363.1,190.87 363.22,191.14 363.34,190.39 363.46,191.27 363.58,188.34 363.7,188.88 363.82,187.87 363.94,185.96 364.06,190.56 364.18,186.44 364.3,184.05 364.42,187.28 364.54,183.53 364.66,184.88 364.78,185.01 364.9,182.53 365.02,182.32 365.14,181.68 365.26,181.73 365.38,179.31 365.5,179.34 365.62,180.29 365.74,181.37 365.86,180.38 365.98,181.36 366.1,179.57 366.22,177.57 366.34,177.65 366.46,174.74 366.58,175.71 366.7,175.22 366.82,176.49 366.94,176.57 367.06,174.6 367.18,174.17 367.3,172.54 367.42,174 367.54,174.11 367.66,173.99 367.78,172.02 367.9,175.25 368.02,173.86 368.14,171.82 368.26,170.91 368.38,170.82 368.5,171.09 368.62,170.53 368.74,170.84 368.86,170.88 368.98,171.32 369.1,170.71 369.22,168.75 369.34,169.08 369.46,167.75 369.58,167.17 369.7,170.11 369.82,166.72 369.94,169.6 370.06,166.25 370.18,166.74 370.3,167.53 370.42,165.85 370.54,166.03 370.66,164.92 370.78,164.33 370.9,164.45 371.02,163.54 371.14,166.22 371.26,163.61 371.38,165.79 371.5,159.79 371.62,163.03 371.74,163.47 371.86,162.1 371.98,163.64 372.1,162.79 372.22,161.34 372.34,162 372.46,164.84 372.58,161.26 372.7,161.07 372.82,159.86 372.94,160.35 373.06,158.26 373.18,159.43 373.3,162.64 373.42,160.59 373.54,159.8 373.66,160.16 373.78,160.94 373.9,159.03 374.02,160.72 374.14,159.18 374.26,157.78 374.38,159.57 374.5,154.04 374.62,156.14 374.74,157 374.86,155.25 374.98,156.01 375.1,155.16 375.22,154.92 375.34,159.08 375.46,156.15 375.58,155.05 375.7,156.61 375.82,154.38 375.94,155.63 376.06,154.72 376.18,156.17 376.3,152 376.42,154.64 376.54,153.59 376.66,151.72 376.78,154.41 376.9,151.69 377.02,154.72 377.14,153.08 377.26,153.12 377.38,152.12 377.5,152.99 377.62,149.19 377.74,151.52 377.86,150.41 377.98,151.4 378.1,150.78 378.22,151.45 378.34,149.37 378.46,152.66 378.58,153.09 378.7,149.61 378.82,149.68 378.94,149.88 379.06,150.97 379.18,151.6 379.3,147.39 379.42,147.97 379.54,147.21 379.66,146.96 379.78,146.09 379.9,148.52 380.02,146.36 380.14,149.64 380.26,148.69 380.38,145.99 380.5,145.82 380.62,146.19 380.74,148.63 380.86,145.53 380.98,144.52 381.1,146.22 381.22,146.6 381.34,145.09 381.46,147.88 381.58,145.92 381.7,146.03 381.82,144.16 381.94,145.06 382.06,144.74 382.18,141.82 382.3,144.99 382.42,142.12 382.54,144.25 382.66,142.21 382.78,146.59 382.9,144.23 383.02,144.77 383.14,144.68 383.26,141.61 383.38,140.21 383.5,142.59 383.62,144.03 383.74,142.83 383.86,143.57 383.98,143.62 384.1,140.31 384.22,142.47 384.34,144.5 384.46,141.05 384.58,139.01 384.7,141.2 384.82,140.74 384.94,141.75 385.06,139.89 385.18,141.03 385.3,137.88 385.42,141.73 385.54,142.54 385.66,142.02 385.78,138.22 385.9,140.46 386.02,136.03 386.14,140.13 386.26,139.54 386.38,138.19 386.5,139.8 386.62,139.39 386.74,140.3 386.86,139.1 386.98,139.11 387.1,136.14 387.22,137.03 387.34,137.78 387.46,138.65 387.58,138.13 387.7,139.95 387.82,136.74 387.94,137.43 388.06,137.94 388.18,137.18 388.3,138 388.42,136.48 388.54,138.94 388.66,136.55 388.78,138.29 388.9,136.68 389.02,138.53 389.14,134.65 389.26,137.01 389.38,135.66 389.5,136.4 389.62,137.52 389.74,134.37 389.86,134.01 389.98,134.31 390.1,135.82 390.22,132.92 390.34,135.38 390.46,133.46 390.58,133.53 390.7,134.42 390.82,135.27 390.94,133.85 391.06,133.91 391.18,134.38 391.3,133.96 391.42,130.72 391.54,133.53 391.66,134.08 391.78,135.29 391.9,136.41 392.02,134.5 392.14,133.63 392.26,132.16 392.38,133.42 392.5,134.2 392.62,134.72 392.74,131.83 392.86,133.17 392.98,133.81 393.1,135.06 393.22,132.87 393.34,131.73 393.46,131.43 393.58,131.75 393.7,131.26 393.82,133.08 393.94,133.29 394.06,132.74 394.18,133.24 394.3,131 394.42,131.98 394.54,130.88 394.66,131.33 394.78,132.76 394.9,131.03 395.02,128.54 395.14,130.54 395.26,129.84 395.38,128.7 395.5,129.54 395.62,131.71 395.74,132.55 395.86,129.63 395.98,131.47 396.1,131.6 396.22,128.46 396.34,129.82 396.46,129.72 396.58,129.9 396.7,127.51 396.82,129.03 396.94,130.76 397.06,130.93 397.18,131.58 397.3,128.66 397.42,131.43 397.54,129.77 397.66,127.05 397.78,129.71 397.9,128.17 398.02,129.21 398.14,128.31 398.26,129.92 398.38,128.59 398.5,127.79 398.62,129.32 398.74,128.31 398.86,127.35 398.98,129.46 399.1,127.17 399.22,126.79 399.34,126.82 399.46,125.53 399.58,126.62 399.7,129.67 399.82,125.98 399.94,127.09 400.06,125.55 400.18,126.1 400.3,128.78 400.42,127.89 400.54,125.84 400.66,126.56 400.78,125.39 400.9,125.35 401.02,125.1 401.14,125.03 401.26,126.54 401.38,126.8 401.5,126.58 401.62,125.64 401.74,124.01 401.86,125.6 401.98,124.4 402.1,126.66 402.22,126.16 402.34,126.32 402.46,124.81 402.58,122.83 402.7,126.34 402.82,126.61 402.94,123.01 403.06,125.03 403.18,126.32 403.3,123.29 403.42,126.9 403.54,124.07 403.66,123.04 403.78,126.14 403.9,124.66 404.02,123.35 404.14,125.26 404.26,121.5 404.38,126.32 404.5,122.82 404.62,124.17 404.74,123.2 404.86,124.21 404.98,124.72 405.1,122.41 405.22,124.43 405.34,122.94 405.46,122.35 405.58,122.88 405.7,121.79 405.82,121.98 405.94,124.17 406.06,122.67 406.18,124.27 406.3,123.27 406.42,121.3 406.54,120.09 406.66,121.59 406.78,122.75 406.9,122.34 407.02,121.17 407.14,123.5 407.26,119.83 407.38,120.39 407.5,122.12 407.62,124.73 407.74,122.34 407.86,120.43 407.98,122.43 408.1,122.47 408.22,122.73 408.34,120.91 408.46,120.33 408.58,121.45 408.7,121.76 408.82,123.23 408.94,123.79 409.06,120.05 409.18,120.25 409.3,120.78 409.42,120.47 409.54,121.35 409.66,121.28 409.78,120.91 409.9,122.25 410.02,120.23 410.14,119 410.26,118.27 410.38,118.89 410.5,118.8 410.62,117.64 410.74,120.88 410.86,120.19 410.98,119.33 411.1,118.66 411.22,117.69 411.34,118.48 411.46,122.01 411.58,116.67 411.7,119.66 411.82,120.37 411.94,119.51 412.06,118.86 412.18,120.2 412.3,117.7 412.42,119.79 412.54,120.86 412.66,117.58 412.78,117.8 412.9,118.98 413.02,120.02 413.14,120.41 413.26,119.49 413.38,117.67 413.5,117.03 413.62,118.73 413.74,118.86 413.86,116.85 413.98,118.3 414.1,118.59 414.22,119.45 414.34,116.74 414.46,118.69 414.58,116.38 414.7,117.28 414.82,117.67 414.94,119.68 415.06,121.95 415.18,117.91 415.3,118.16 415.42,118.77 415.54,115.63 415.66,118.33 415.78,115.66 415.9,119.33 416.02,119.03 416.14,117.74 416.26,115.98 416.38,119.13 416.5,117.24 416.62,116.99 416.74,117.54 416.86,114.5 416.98,117.22 417.1,117.9 417.22,116.98 417.34,116.67 417.46,115.18 417.58,117.2 417.7,116.57 417.82,116.26 417.94,115.45 418.06,117.24 418.18,117.69 418.3,116.52 418.42,117.12 418.54,117.62 418.66,117.9 418.78,116.07 418.9,115.44 419.02,115.12 419.14,115.62 419.26,116.27 419.38,116.71 419.5,114.88 419.62,115.57 419.74,114.02 419.86,116.91 419.98,114.7 420.1,115.62 420.22,114.16 420.34,114.65 420.46,114.09 420.58,117.14 420.7,115.34 420.82,114.6 420.94,113.53 421.06,113.91 421.18,115.39 421.3,116.76 421.42,112.68 421.54,113.3 421.66,114.2 421.78,113.56 421.9,112.17 422.02,114.3 422.14,115.19 422.26,112.11 422.38,114.38 422.5,115.31 422.62,115.28 422.74,113.4 422.86,116.89 422.98,114.57 423.1,112.74 423.22,115.02 423.34,112.23 423.46,114.8 423.58,111.94 423.7,114.56 423.82,112.72 423.94,114.9 424.06,114.34 424.18,113.91 424.3,113.35 424.42,114.64 424.54,110.83 424.66,113.68 424.78,113.61 424.9,113.75 425.02,114.04 425.14,117.73 425.26,113.02 425.38,113.86 425.5,112.97 425.62,114.76 425.74,110.04 425.86,114.83 425.98,111.68 426.1,109.58 426.22,111.07 426.34,112.19 426.46,112.62 426.58,112.26 426.7,113.34 426.82,112.18 426.94,112.1 427.06,109.34 427.18,112.71 427.3,113.35 427.42,111.44 427.54,109.5 427.66,110.15 427.78,114.02 427.9,111.01 428.02,110.88 428.14,110.64 428.26,112.54 428.38,110.84 428.5,110.43 428.62,109.55 428.74,111.33 428.86,112.72 428.98,111.18 429.1,112.47 429.22,111.51 429.34,111.43 429.46,111.42 429.58,111.19 429.7,112.43 429.82,111.69 429.94,110.26 430.06,111.13 430.18,110.82 430.3,111.5 430.42,111.06 430.54,111.32 430.66,108.82 430.78,111.19 430.9,112.36 431.02,108.85 431.14,112.64 431.26,110.9 431.38,110.2 431.5,108.08 431.62,111.8 431.74,109.08 431.86,109.63 431.98,110.96 432.1,108.88 432.22,108.88 432.34,108.63 432.46,109.94 432.58,110.8 432.7,110.52 432.82,110.48 432.94,109.46 433.06,110.05 433.18,108.93 433.3,112.38 433.42,109.99 433.54,107.16 433.66,108.27 433.78,111.7 433.9,107.8 434.02,108.96 434.14,110.01 434.26,108.02 434.38,110.79 434.5,111.55 434.62,108.25 434.74,110.75 434.86,108.08 434.98,107.9 435.1,109.48 435.22,109.43 435.34,108.31 435.46,110.13 435.58,107.09 435.7,107.85 435.82,107.52 435.94,109.86 436.06,109.88 436.18,109.67 436.3,107.08 436.42,108.89 436.54,109.28 436.66,106.54 436.78,107.53 436.9,109.4 437.02,109.44 437.14,108.82 437.26,109.15 437.38,108.83 437.5,108.56 437.62,108.19 437.74,107.16 437.86,107.93 437.98,107.69 438.1,111.19 438.22,108.48 438.34,108.09 438.46,107.76 438.58,107.87 438.7,107.63 438.82,108.66 438.94,107.87 439.06,108.93 439.18,106.93 439.3,108.25 439.42,108.9 439.54,106.22 439.66,107.91 439.78,107.97 439.9,107.18 440.02,106.94 440.14,105.13 440.26,109 440.38,106.25 440.5,105.82 440.62,108.25 440.74,104.98 440.86,108.57 440.98,107.85 441.1,108.03 441.22,107 441.34,105.6 441.46,104.69 441.58,109 441.7,106.46 441.82,106.36 441.94,109.06 442.06,106.14 442.18,106.62 442.3,106.59 442.42,106.68 442.54,105.47 442.66,106.06 442.78,108.43 442.9,107.71 443.02,102.82 443.14,104.11 443.26,107.05 443.38,106.44 443.5,106.06 443.62,107.87 443.74,104.16 443.86,108.01 443.98,106.58 444.1,107.09 444.22,106.67 444.34,107.41 444.46,105.95 444.58,105.54 444.7,107.23 444.82,106.4 444.94,104.51 445.06,107.86 445.18,107.65 445.3,107.92 445.42,106.11 445.54,106.43 445.66,105.45 445.78,104.65 445.9,105.96 446.02,106.08 446.14,104.95 446.26,108.16 446.38,103.65 446.5,104.66 446.62,104.81 446.74,107.33 446.86,105.29 446.98,105.17 447.1,104.41 447.22,104.53 447.34,103.8 447.46,106.78 447.58,106.22 447.7,106.68 447.82,104.51 447.94,108.6 448.06,104.03 448.18,102.6 448.3,104.86 448.42,105.39 448.54,106.16 448.66,103.82 448.78,105.88 448.9,107.31 449.02,103.95 449.14,104.06 449.26,102.78 449.38,105.28 449.5,106.05 449.62,105.9 449.74,105.95 449.86,106.68 449.98,104.98 450.1,106.02 450.22,103.51 450.34,103.69 450.46,105 450.58,103.6 450.7,105.37 450.82,106.39 450.94,105.09 451.06,103.58 451.18,103.54 451.3,106.26 451.42,103.41 451.54,104.54 451.66,104.06 451.78,104.43 451.9,105.76 452.02,103.6 452.14,102.44 452.26,106.13 452.38,104.51 452.5,105.13 452.62,104.13 452.74,105.14 452.86,105.75 452.98,105.85 453.1,103.69 453.22,103.56 453.34,104.5 453.46,104.23 453.58,104.67 453.7,102.98 453.82,100.85 453.94,104.43 454.06,104.83 454.18,104.63 454.3,105.92 454.42,104.84 454.54,103.2 454.66,104.96 454.78,103.54 454.9,105.25 455.02,103.9 455.14,104.16 455.26,103.83 455.38,103.58 455.5,101.54 455.62,103.53 455.74,100.47 455.86,104.05 455.98,104.66 456.1,106.01 456.22,103.81 456.34,102.36 456.46,101.2 456.58,105.77 456.7,101.36 456.82,104.35 456.94,100.16 457.06,103.06 457.18,103.99 457.3,103.5 457.42,103 457.54,101.95 457.66,101.82 457.78,104.28 457.9,103.51 458.02,102.71 458.14,103.16 458.26,101.66 458.38,104.17 458.5,104.45 458.62,101.77 458.74,102.89 458.86,104.1 458.98,101.87 459.1,105.33 459.22,104.62 459.34,102.27 459.46,103.88 459.58,104.74 459.7,100.94 459.82,103.33 459.94,102.32 460.06,102.2 460.18,103.38 460.3,101.81 460.42,100.58 460.54,100.53 460.66,102.32 460.78,103.14 460.9,102.27 461.02,102.08 461.14,102.21 461.26,103.9 461.38,102.89 461.5,101.2 461.62,101.77 461.74,103.69 461.86,101.34 461.98,101.56 462.1,102.02 462.22,100.64 462.34,103.17 462.46,99.13 462.58,103.84 462.7,101.36 462.82,100.27 462.94,102.24 463.06,99.63 463.18,102.53 463.3,102.81 463.42,101.03 463.54,101.25 463.66,102.96 463.78,100.84 463.9,101.71 464.02,102.11 464.14,103.66 464.26,100.96 464.38,101.63 464.5,103.03 464.62,98.22 464.74,101.17 464.86,99.01 464.98,99.08 465.1,103.99 465.22,101.69 465.34,103.32 465.46,101.06 465.58,102.05 465.7,100.76 465.82,100.59 465.94,101.18 466.06,101.42 466.18,103.22 466.3,100.95 466.42,101.68 466.54,100.83 466.66,101.33 466.78,99.41 466.9,102.51 467.02,100.39 467.14,101.1 467.26,100.74 467.38,102.28 467.5,101.65 467.62,100.97 467.74,101.16 467.86,101.35 467.98,101.87 468.1,101.52 468.22,102.51 468.34,102.92 468.46,101.59 468.58,99.05 468.7,103.02 468.82,103.52 468.94,100.23 469.06,100.14 469.18,97.98 469.3,101.65 469.42,99.3 469.54,102.97 469.66,97.35 469.78,100.64 469.9,101.4 470.02,99.98 470.14,99.45 470.26,100.78 470.38,99.75 470.5,99.97 470.62,100.34 470.74,99.64 470.86,100.05 470.98,101.35 471.1,99.79 471.22,100.5 471.34,99.28 471.46,101.42 471.58,98.54 471.7,101.44 471.82,96.24 471.94,98.96 472.06,98.06 472.18,101.42 472.3,100.43 472.42,98.36 472.54,99.29 472.66,101.76 472.78,99.91 472.9,100.69 473.02,97.98 473.14,97.96 473.26,100.63 473.38,102.87 473.5,99.14 473.62,100.59 473.74,98.57 473.86,101.4 473.98,99.16 474.1,99.16 474.22,97.25 474.34,99.14 474.46,99.9 474.58,101.43 474.7,98.09 474.82,100.87 474.94,99.13 475.06,99.18 475.18,98.3 475.3,97.29 475.42,97.9 475.54,101.57 475.66,97.89 475.78,98.85 475.9,100.83 476.02,96.62 476.14,99.92 476.26,98.65 476.38,99.54 476.5,100.4 476.62,99.05 476.74,98.98 476.86,100.15 476.98,100.02 477.1,98.23 477.22,98.9 477.34,97.38 477.46,100.79 477.58,97.51 477.7,99.31 477.82,101.32 477.94,100.08 478.06,98.63 478.18,98.04 478.3,98.16 478.42,100.15 478.54,99.38 478.66,98.91 478.78,102.29 478.9,97.8 479.02,98.23 479.14,98.36 479.26,99.11 479.38,99.21 479.5,98.43 479.62,99.73 479.74,99.45 479.86,98.33 479.98,95.52 480.1,99.71 480.22,97.42 480.34,97.78 480.46,98.42 480.58,96.97 480.7,97.5 480.82,98.61 480.94,98.05 481.06,98.88 481.18,97.33 481.3,98.12 481.42,97.02 481.54,98.01 481.66,98.73 481.78,98.02 481.9,96.45 482.02,98.05 482.14,98.47 482.26,99.73 482.38,98.19 482.5,97.69 482.62,96.68 482.74,100.77 482.86,96.93 482.98,96.68 483.1,97.93 483.22,95.74 483.34,99.48 483.46,98.31 483.58,98.69 483.7,96.76 483.82,97.36 483.94,99.11 484.06,99.16 484.18,101.65 484.3,99.38 484.42,95.47 484.54,98.03 484.66,97.42 484.78,99.3 484.9,97.75 485.02,98.48 485.14,97.41 485.26,98.6 485.38,99.69 485.5,96.98 485.62,95.11 485.74,96.39 485.86,99.75 485.98,97.99 486.1,97.3 486.22,96.41 486.34,99.01 486.46,98 486.58,97.46 486.7,96.89 486.82,97.37 486.94,97.14 487.06,98.28 487.18,99.17 487.3,94.95 487.42,95.59 487.54,97.33 487.66,97.54 487.78,95.4 487.9,96.59 488.02,96.86 488.14,96.79 488.26,96.74 488.38,97.21 488.5,98.46 488.62,98.25 488.74,98.04 488.86,97.61 488.98,96.3 489.1,96.58 489.22,98.1 489.34,97.33 489.46,98.2 489.58,97.48 489.7,97.2 489.82,97.68 489.94,95.08 490.06,96.86 490.18,96.28 490.3,98.13 490.42,96.14 490.54,97.29 490.66,96.41 490.78,97.57 490.9,97.86 491.02,96.64 491.14,97.03 491.26,97.1 491.38,97.86 491.5,96.41 491.62,96.86 491.74,96.24 491.86,95.52 491.98,96.98 492.1,97.28 492.22,95.66 492.34,98.74 492.46,95.7 492.58,97.62 492.7,97.12 492.82,94.4 492.94,96.56 493.06,94.53 493.18,96.42 493.3,97.42 493.42,98.92 493.54,97.52 493.66,94.5 493.78,96.01 493.9,98.4 494.02,96.67 494.14,98.71 494.26,95.45 494.38,95.65 494.5,94.6 494.62,95.84 494.74,97.96 494.86,95.09 494.98,97.37 495.1,96.86 495.22,97.27 495.34,95.89 495.46,96.24 495.58,98.98 495.7,94.55 495.82,97.15 495.94,98.12 496.06,96.72 496.18,98.26 496.3,92.23 496.42,95.67 496.54,94.52 496.66,95.48 496.78,95.87 496.9,96.61 497.02,94.85 497.14,97.09 497.26,93.88 497.38,97.16 497.5,95.56 497.62,93.56 497.74,93.54 497.86,93.49 497.98,94.51 498.1,95.94 498.22,97.48 498.34,96.77 498.46,93.99 498.58,92.71 498.7,95.29 498.82,93.81 498.94,95.42 499.06,94.73 499.18,98.95 499.3,93.34 499.42,95.98 499.54,97.96 499.66,94.99 499.78,94.49 499.9,97.68 500.02,92.71 500.14,93.22 500.26,93.83 500.38,95.93 500.5,96.4 500.62,95.21 500.74,98.21 500.86,95.08 500.98,95.33 501.1,94.92 501.22,96.91 501.34,95.31 501.46,94.76 501.58,97.47 501.7,96.94 501.82,96.56 501.94,93.57 502.06,93.82 502.18,94.89 502.3,94.85 502.42,94.62 502.54,94.87 502.66,96 502.78,93.81 502.9,95.45 503.02,94.59 503.14,94.46 503.26,94.71 503.38,96.04 503.5,95.42 503.62,94.02 503.74,95.46 503.86,95.2 503.98,95.55 504.1,94.65 504.22,96.29 504.34,95.47 504.46,93.47 504.58,93.27 504.7,93.09 504.82,95.44 504.94,94 505.06,94.44 505.18,94.79 505.3,96.47 505.42,97.71 505.54,94.69 505.66,97.43 505.78,95.53 505.9,96.37 506.02,94.42 506.14,93.15 506.26,95.38 506.38,96.42 506.5,92.68 506.62,94.62 506.74,94.97 506.86,95.45 506.98,93.23 507.1,93.91 507.22,95.83 507.34,96.96 507.46,94.72 507.58,95.85 507.7,94.78 507.82,95.1 507.94,94.02 508.06,94.21 508.18,93.74 508.3,94.6 508.42,95.9 508.54,94.69 508.66,95.28 508.78,93.57 508.9,95.32 509.02,90.25 509.14,92.5 509.26,93.9 509.38,91.94 509.5,95.04 509.62,94.56 509.74,93.07 509.86,94.38 509.98,92.26 510.1,93.04 510.22,93.7 510.34,92.09 510.46,95.54 510.58,93.29 510.7,95.47 510.82,93.93 510.94,94.51 511.06,92.9 511.18,93.67 511.3,93.51 511.42,94.35 511.54,95.82 511.66,93.28 511.78,93.78 511.9,94.45 512.02,95.09 512.14,93.8 512.26,93.43 512.38,93.16 512.5,93.91 512.62,94.2 512.74,92.98 512.86,93.45 512.98,94.83 513.1,93.79 513.22,93.06 513.34,94.71 513.46,94.7 513.58,94.56 513.7,94.61 513.82,93.21 513.94,93.98 514.06,94.11 514.18,93.84 514.3,91.38 514.42,93.62 514.54,94.09 514.66,94.26 514.78,93.21 514.9,93.63 515.02,91.22 515.14,91.61 515.26,89.68 515.38,93.22 515.5,95.62 515.62,95.77 515.74,92.01 515.86,94.31 515.98,95.08 516.1,93.03 516.22,90.85 516.34,95.25 516.46,92.92 516.58,92.86 516.7,95.58 516.82,93.95 516.94,94.42 517.06,95.39 517.18,93.1 517.3,92.01 517.42,94.29 517.54,93.26 517.66,94.21 517.78,93.76 517.9,92.23 518.02,93.25 518.14,92.76 518.26,92.88 518.38,93.12 518.5,93.62 518.62,93.42 518.74,91.48 518.86,93.94 518.98,91.24 519.1,95.98 519.22,92.08 519.34,92.98 519.46,94.79 519.58,92.77 519.7,91.37 519.82,91.14 519.94,93.36 520.06,93.51 520.18,94.04 520.3,93.3 520.42,92.3 520.54,93.53 520.66,94.77 520.78,91.84 520.9,97.52 521.02,92.31 521.14,94.47 521.26,95.28 521.38,93.99 521.5,93.19 521.62,93.72 521.74,94.5 521.86,89.31 521.98,93.33 522.1,92.18 522.22,91.79 522.34,92.83 522.46,92.9 522.58,93.29 522.7,91.87 522.82,94.08 522.94,89.87 523.06,91.31 523.18,90.97 523.3,92.67 523.42,91.86 523.54,93.18 523.66,91.45 523.78,94.13 523.9,93.41 524.02,91.75 524.14,90.2 524.26,90.84 524.38,90.35 524.5,93.97 524.62,93.33 524.74,90.67 524.86,94.77 524.98,91.91 525.1,89.35 525.22,93.69 525.34,93.95 525.46,92.25 525.58,91.06 525.7,93.82 525.82,91.54 525.94,92.16 526.06,92.78 526.18,92.55 526.3,91.54 526.42,90.77 526.54,93.09 526.66,89.22 526.78,92.51 526.9,92.42 527.02,92.74 527.14,91.56 527.26,92.31 527.38,93.04 527.5,90.63 527.62,92.05 527.74,92.46 527.86,90.31 527.98,90.7 528.1,93.98 528.22,93.26 528.34,90.93 528.46,92.82 528.58,92.4 528.7,93.68 528.82,93.33 528.94,88.66 529.06,91.42 529.18,93.59 529.3,93.91 529.42,90.96 529.54,90.15 529.66,92.07 529.78,90.89 529.9,91.69 530.02,90.17 530.14,92.68 530.26,92.41 530.38,92.25 530.5,90.21 530.62,89.43 530.74,89.95 530.86,92.24 530.98,89.24 531.1,92.42 531.22,93.86 531.34,90.72 531.46,91.28 531.58,92.79 531.7,92.69 531.82,90.68 531.94,91.24 532.06,91.62 532.18,91.1 532.3,92.18 532.42,91.85 532.54,93.11 532.66,89.17 532.78,92.92 532.9,92.43 533.02,91.18 533.14,91.88 533.26,92.6 533.38,91.7 533.5,90.98 533.62,91.65 533.74,90.37 533.86,89.55 533.98,90.11 534.1,90.23 534.22,91.46 534.34,92.24 534.46,91.51 534.58,93.07 534.7,91.05 534.82,90.32 534.94,90.19 535.06,89.96 535.18,90.72 535.3,92.89 535.42,89.18 535.54,91.79 535.66,91.05 535.78,92.15 535.9,90.44 536.02,91.98 536.14,90.38 536.26,91.84 536.38,88.46 536.5,91.63 536.62,91.95 536.74,88.9 536.86,92.07 536.98,89.47 537.1,92.23 537.22,90.92 537.34,91.81 537.46,91.39 537.58,89.34 537.7,92.9 537.82,92.46 537.94,89.54 538.06,91.59 538.18,91.45 538.3,89.95 538.42,89.47 538.54,92.48 538.66,90.28 538.78,91.97 538.9,93.25 539.02,91.4 539.14,89.6 539.26,92.02 539.38,88.94 539.5,89.54 539.62,94.51 539.74,89.66 539.86,91.14 539.98,89.29 540.1,90.5 540.22,90.9 540.34,87.18 540.46,89.76 540.58,91.46 540.7,91.72 540.82,91.01 540.94,89.33 541.06,91.06 541.18,89.89 541.3,89.51 541.42,90.5 541.54,93.45 541.66,89.3 541.78,91.82 541.9,90.78 542.02,88.51 542.14,89.24 542.26,90.19 542.38,89.78 542.5,90.72 542.62,89.08 542.74,89.04 542.86,91.65 542.98,90.29 543.1,89.21 543.22,90.3 543.34,92.68 543.46,89.52 543.58,88.33 543.7,91.47 543.82,92.79 543.94,91.86 544.06,88.5 544.18,87.51 544.3,91.82 544.42,89.93 544.54,90.81 544.66,89.89 544.78,92.3 544.9,90.2 545.02,89.68 545.14,90.26 545.26,88.5 545.38,90.26 545.5,89.91 545.62,87.26 545.74,88.51 545.86,88.35 545.98,87.93 546.1,90.42 546.22,91.4 546.34,90.34 546.46,87.98 546.58,87.58 546.7,90.89 546.82,89.46 546.94,89.72 547.06,88.15 547.18,87.18 547.3,92.68 547.42,89 547.54,89.52 547.66,88.27 547.78,91.74 547.9,89.27 548.02,89.51 548.14,89.76 548.26,89.67 548.38,91.52 548.5,87.29 548.62,90.46 548.74,88.83 548.86,89.09 548.98,88.8 549.1,90.15 549.22,87.91 549.34,88.86 549.46,90.28 549.58,88.8 549.7,88.91 549.82,90 549.94,89.62 550.06,89.05 550.18,89.55 550.3,88.31 550.42,90.57 550.54,88.02 550.66,87.34 550.78,89.97 550.9,87.69 551.02,88.14 551.14,89.09 551.26,90.28 551.38,88.72 551.5,88.76 551.62,88.76 551.74,89.79 551.86,88.63 551.98,89.59 552.1,91.03 552.22,88.96 552.34,88.75 552.46,88.01 552.58,88.22 552.7,87.59 552.82,87.76 552.94,88.42 553.06,89.6 553.18,89.78 553.3,88.57 553.42,89.54 553.54,87.42 553.66,91.78 553.78,92.3 553.9,88.92 554.02,89.72 554.14,89.18 554.26,90.05 554.38,88.21 554.5,87.05 554.62,90.06 554.74,87.58 554.86,89.44 554.98,87.78 555.1,87.97 555.22,90.23 555.34,91.04 555.46,88.73 555.58,88.38 555.7,89.3 555.82,88.19 555.94,86.64 556.06,88.85 556.18,85.96 556.3,89.42 556.42,88.19 556.54,89.08 556.66,86.92 556.78,87.84 556.9,89.54 557.02,90.56 557.14,89.87 557.26,89.27 557.38,87.31 557.5,89.49 557.62,88.91 557.74,88.32 557.86,90.41 557.98,87.71 558.1,90.98 558.22,87.84 558.34,87.79 558.46,88.53 558.58,86.94 558.7,88.03 558.82,88.73 558.94,86.42 559.06,87.53 559.18,86.79 559.3,88.02 559.42,90.05 559.54,88 559.66,88.31 559.78,88.83 559.9,87.09 560.02,88.82 560.14,87.84 560.26,87.66 560.38,86.27 560.5,87.66 560.62,89.81 560.74,90.03 560.86,88.06 560.98,88.53 561.1,87.88 561.22,86.99 561.34,86.07 561.46,90.61 561.58,87.11 561.7,88.66 561.82,90.39 561.94,87.87 562.06,88.15 562.18,88.7 562.3,87.89 562.42,88.67 562.54,87.9 562.66,89.8 562.78,88.96 562.9,86.78 563.02,86.58 563.14,87.47 563.26,87.5 563.38,87.33 563.5,89.49 563.62,87.34 563.74,87.68 563.86,88.44 563.98,85.67 564.1,88.8 564.22,88.99 564.34,90.04 564.46,86.95 564.58,87.61 564.7,88.48 564.82,87.71 564.94,86.3 565.06,89.36 565.18,87.8 565.3,88.62 565.42,86.76 565.54,89.39 565.66,87.68 565.78,87.2 565.9,89.14 566.02,89.55 566.14,86.89 566.26,89.38 566.38,90.19 566.5,88.41 566.62,86.24 566.74,88.8 566.86,89.43 566.98,86.72 567.1,90.2 567.22,87.77 567.34,87.86 567.46,89.43 567.58,88.27 567.7,89.61 567.82,87.96 567.94,88.47 568.06,87.99 568.18,88.26 568.3,88.7 568.42,88.56 568.54,87.53 568.66,89.13 568.78,87.79 568.9,89.46 569.02,88.69 569.14,87.76 569.26,86.92 569.38,87.91 569.5,89.65 569.62,88.09 569.74,89.09 569.86,87.71 569.98,87.4 570.1,86.9 570.22,85.27 570.34,88.19 570.46,87.82 570.58,87.7 570.7,88.76 570.82,86.46 570.94,89.93 571.06,85.82 571.18,88.04 571.3,86.15 571.42,87.34 571.54,89.18 571.66,85.73 571.78,87.89 571.9,87.79 572.02,87.87 572.14,87.96 572.26,88.66 572.38,88.25 572.5,88.09 572.62,88.75 572.74,88.45 572.86,87.41 572.98,85.97 573.1,88.59 573.22,87.1 573.34,89.67 573.46,86.8 573.58,85.95 573.7,88.98 573.82,86.53 573.94,85.54 574.06,89.01 574.18,85.58 574.3,89.17 574.42,86.21 574.54,87.97 574.66,87.72 574.78,85.06 574.9,87.39 575.02,86.86 575.14,87.56 575.26,88.08 575.38,89.43 575.5,87.06 575.62,87.23 575.74,90.15 575.86,88.28 575.98,88.32 576.1,85.34 576.22,85.5 576.34,86.59 576.46,87.05 576.58,87.92 576.7,90.83 576.82,85.64 576.94,86.73 577.06,88.07 577.18,87.6 577.3,88.69 577.42,86.85 577.54,86.05 577.66,89.92 577.78,87.77 577.9,85.63 578.02,86.73 578.14,87.09 578.26,85.22 578.38,88.15 578.5,87.33 578.62,86.65 578.74,86.27 578.86,89.25 578.98,86.99 579.1,86.08 579.22,84.41 579.34,85.68 579.46,87.95 579.58,88.98 579.7,85.52 579.82,84.36 579.94,87.06 580.06,86.94 580.18,88.11 580.3,86.06 580.42,87.12 580.54,84.55 580.66,85.35 580.78,86.24 580.9,86.36 581.02,87.62 581.14,88.51 581.26,85.07 581.38,89.1 581.5,85.93 581.62,86.35 581.74,88.35 581.86,83.76 581.98,84.98 582.1,85.79 582.22,86.96 582.34,88.26 582.46,88.27 582.58,85.65 582.7,87.81 582.82,86.28 582.94,88.75 583.06,86.45 583.18,88.18 583.3,85.46 583.42,87.8 583.54,85 583.66,86.91 583.78,84.66 583.9,86.57 584.02,85.73 584.14,85.48 584.26,87.05 584.38,87.76 584.5,86.88 584.62,87.12 584.74,87.65 584.86,88.29 584.98,88.02 585.1,87.22 585.22,89.28 585.34,86.02 585.46,87.71 585.58,85.17 585.7,89.76 585.82,86.32 585.94,86.84 586.06,88.42 586.18,86.37 586.3,85.51 586.42,84.19 586.54,86.24 586.66,89.24 586.78,86.79 586.9,88.82 587.02,87.64 587.14,85.96 587.26,84.7 587.38,86.28 587.5,87.33 587.62,86.23 587.74,86.73 587.86,87.25 587.98,86.01 588.1,84.58 588.22,86.03 588.34,87.19 588.46,85.37 588.58,85.05 588.7,85.11 588.82,86.1 588.94,86.23 589.06,86.31 589.18,84.72 589.3,86.41 589.42,85.54 589.54,85.12 589.66,83.93 589.78,84.88 589.9,85.52 590.02,86.49 590.14,86.83 590.26,86.33 590.38,86.58 590.5,84.81 590.62,87.31 590.74,87.32 590.86,87.14 590.98,85.6 591.1,86.13 591.22,85.63 591.34,84.51 591.46,85.78 591.58,84.2 591.7,83.91 591.82,86.93 591.94,86.91 592.06,87.28 592.18,85.61 592.3,86.21 592.42,86.87 592.54,85.68 592.66,83.51 592.78,89.07 592.9,87.76 593.02,87.78 593.14,86.26 593.26,85.1 593.38,86.24 593.5,86.51 593.62,84.35 593.74,85.51 593.86,86.85 593.98,88.08 594.1,86.91 594.22,85.59 594.34,84.44 594.46,88.74 594.58,86.26 594.7,87.09 594.82,86.13 594.94,84.34 595.06,88.9 595.18,86.94 595.3,87.65 595.42,85.03 595.54,86.01 595.66,87.82 595.78,85.57 595.9,85.09 596.02,84.55 596.14,84.25 596.26,87.08 596.38,85.92 596.5,83.65 596.62,87.97 596.74,87.64 596.86,87.47 596.98,83.56 597.1,86.09 597.22,87.64 597.34,84.59 597.46,84.89 597.58,85.61 597.7,83.29 597.82,86.19 597.94,87.2 598.06,86.76 598.18,87.84 598.3,86.01 598.42,85.84 598.54,85.63 598.66,84.95 598.78,84.46 598.9,84.88 599.02,85.73 599.14,85.13 599.26,85.97 599.38,85.92 599.5,86.65 599.62,85.13 599.74,83.1 599.86,84.54 599.98,88.27 600.1,86.76 600.22,85.24 600.34,85.5 600.46,85.65 600.58,85.14 600.7,86 600.82,86.63 600.94,87.32 601.06,85.25 601.18,85.34 601.3,85.28 601.42,85.74 601.54,87.08 601.66,84.71 601.78,88.56 601.9,86.4 602.02,87.12 602.14,84.49 602.26,85.17 602.38,84.97 602.5,85.71 602.62,82.99 602.74,86.28 602.86,83.44 602.98,86.12 603.1,86.95 603.22,85.54 603.34,85.39 603.46,85.39 603.58,85.32 603.7,85.95 603.82,86.78 603.94,86.44 604.06,87.55 604.18,85.72 604.3,84.93 604.42,84.99 604.54,83.99 604.66,85.09 604.78,84.83 604.9,87.91 605.02,86.27 605.14,87.92 605.26,83.1 605.38,85.97 605.5,86.91 605.62,85.99 605.74,84.97 605.86,85.79 605.98,85.69 606.1,85.73 606.22,85.89 606.34,86.78 606.46,85.83 606.58,85.91 606.7,85.56 606.82,86.12 606.94,84.61 607.06,86.28 607.18,85.11 607.3,86.63 607.42,84.76 607.54,85.44 607.66,85.28 607.78,84.19 607.9,86.86 608.02,85.98 608.14,85.54 608.26,87.08 608.38,85.05 608.5,85.44 608.62,86.89 608.74,88.62 608.86,85.56 608.98,87.54 609.1,85.66 609.22,84.4 609.34,86.08 609.46,87.02 609.58,85.67 609.7,86.01 609.82,84 609.94,82.45 610.06,85.68 610.18,83.49 610.3,85.22 610.42,84.44 610.54,85.46 610.66,86.36 610.78,83.05 610.9,85 611.02,84.99 611.14,86.91 611.26,85.24 611.38,84.09 611.5,84.39 611.62,87.46 611.74,83.98 611.86,85.18 611.98,85.45 612.1,83.62 612.22,84.04 612.34,82.54 612.46,83.91 612.58,85.93 612.7,85.35 612.82,82.62 612.94,86.92 613.06,83.34 613.18,83.82 613.3,87.12 613.42,85.64 613.54,84.94 613.66,86.96 613.78,84.93 613.9,85.47 614.02,84.28 614.14,84.85 614.26,84.91 614.38,86.42 614.5,84.17 614.62,84.72 614.74,82.16 614.86,82.74 614.98,85.85 615.1,84.44 615.22,84.49 615.34,85.71 615.46,84.49 615.58,85.04 615.7,84.54 615.82,82.29 615.94,85.68 616.06,86.8 616.18,86.39 616.3,84.94 616.42,85.19 616.54,85.34 616.66,86.78 616.78,86.37 616.9,84.37 617.02,84.63 617.14,84.54 617.26,84.04 617.38,83.98 617.5,84.59 617.62,81.64 617.74,85.22 617.86,84.13 617.98,83.14 618.1,84.46 618.22,83.72 618.34,86.23 618.46,83.25 618.58,84.75 618.7,85.1 618.82,83.57 618.94,83.05 619.06,85.12 619.18,84.11 619.3,83.41 619.42,82.76 619.54,85.4 619.66,86.54 619.78,83.93 619.9,85.28 620.02,86 620.14,85.88 620.26,83.84 620.38,85.27 620.5,85.47 620.62,87.84 620.74,84.87 620.86,85.93 620.98,85.64 621.1,85.43 621.22,83.34 621.34,84.97 621.46,86.52 621.58,84.13 621.7,84.91 621.82,83.61 621.94,84.94 622.06,85.04 622.18,85.48 622.3,84.09 622.42,84.04 622.54,83.86 622.66,84.92 622.78,84.79 622.9,87.41 623.02,83.76 623.14,85.42 623.26,83.85 623.38,83.94 623.5,85.89 623.62,85.06 623.74,85.19 623.86,82.82 623.98,87.78 624.1,87.13 624.22,83.6 624.34,82.8 624.46,83.58 624.58,84.78 624.7,83.3 624.82,84.82 624.94,83.63 625.06,87.93 625.18,84.16 625.3,83.87 625.42,86.96 625.54,84.85 625.66,84.43 625.78,84.37 625.9,85.12 626.02,83.86 626.14,84.54 626.26,83.7 626.38,82.69 626.5,83.97 626.62,84.58 626.74,86.37 626.86,84.64 626.98,83.92 627.1,84.5 627.22,85.09 627.34,81.5 627.46,83.8 627.58,81.61 627.7,82.11 627.82,83.38 627.94,84.14 628.06,84.35 628.18,84.45 628.3,85.94 628.42,84.85 628.54,84.76 628.66,83.87 628.78,86.71 628.9,85.9 629.02,83.53 629.14,83.53 629.26,85.23 629.38,85.5 629.5,83.84 629.62,85.65 629.74,82.74 629.86,84.03 629.98,85.5 630.1,83.5 630.22,84.4 630.34,84.19 630.46,83.88 630.58,81.84 630.7,83.79 630.82,84.42 630.94,84.44 631.06,85.14 631.18,85.36 631.3,83.73 631.42,83.9 631.54,86.29 631.66,85.28 631.78,84.19 631.9,83.89 632.02,85.5 632.14,85.5 632.26,84.04 632.38,84.72 632.5,84.19 632.62,84.09 632.74,86.49 632.86,82.51 632.98,85.08 633.1,82.78 633.22,83.23 633.34,85.17 633.46,82.43 633.58,82.9 633.7,82.64 633.82,83.32 633.94,84.45 634.06,85.53 634.18,83.22 634.3,85.2 634.42,82.49 634.54,86.72 634.66,83.44 634.78,83.38 634.9,84.31 635.02,84.08 635.14,83.74 635.26,81.8 635.38,85.01 635.5,84.82 635.62,83.41 635.74,82.42 635.86,84.22 635.98,85.3 636.1,81.66 636.22,82.44 636.34,83.97 636.46,82.82 636.58,83.4 636.7,83.7 636.82,84.81 636.94,84.81 637.06,85.06 637.18,84.96 637.3,83.01 637.42,80.75 637.54,84.19 637.66,84.35 637.78,84.35 637.9,82.92 638.02,86.2 638.14,81.64 638.26,84.78 638.38,84.55 638.5,84.92 638.62,85.52 638.74,84.36 638.86,84.16 638.98,83.36 639.1,84.7 639.22,84.21 639.34,84.73 639.46,82.25 639.58,81.76 639.7,83.77 639.82,84.36 639.94,81.74 640.06,82.39 640.18,83.23 640.3,84.04 640.42,84.07 640.54,84.92 640.66,83.44 640.78,84.19 640.9,85.27 641.02,83.3 641.14,86.51 641.26,83.17 641.38,83.79 641.5,81.23 641.62,83.51 641.74,82.94 641.86,82.8 641.98,83.98 642.1,82.21 642.22,83.88 642.34,81.06 642.46,82.95 642.58,85.3 642.7,83.74 642.82,84.33 642.94,82.41 643.06,81.9 643.18,85.3 643.3,84.83 643.42,84.62 643.54,83.53 643.66,85.01 643.78,82.99 643.9,84.39 644.02,84.34 644.14,82.37 644.26,85.29 644.38,83.65 644.5,84.52 644.62,81.58 644.74,81.97 644.86,82.93 644.98,84.11 645.1,84.93 645.22,83.93 645.34,83.29 645.46,84.17 645.58,83.15 645.7,83.64 645.82,83.93 645.94,82.55 646.06,83.93 646.18,81.57 646.3,82.37 646.42,84.23 646.54,82.57 646.66,84 646.78,83.66 646.9,83.12 647.02,85.29 647.14,83.97 647.26,82.61 647.38,82.7 647.5,83.5 647.62,81.45 647.74,84.79 647.86,83.23 647.98,81.14 648.1,82.06 648.22,85.09 648.34,83.58 648.46,86.04 648.58,83.31 648.7,83.87 648.82,85.75 648.94,85.97 649.06,82.08 649.18,84.37 649.3,81.91 649.42,82.65 649.54,81.02 649.66,83.97 649.78,81.93 649.9,82.23 650.02,85.65 650.14,84.33 650.26,82.99 650.38,80.91 650.5,83.59 650.62,80.27 650.74,82.02 650.86,84.01 650.98,84.19 651.1,83.35 651.22,84.18 651.34,83.39 651.46,82.15 651.58,83.17 651.7,85.33 651.82,83.07 651.94,83.51 652.06,83.81 652.18,81.35 652.3,81.8 652.42,81.11 652.54,83.55 652.66,82.63 652.78,81.5 652.9,81.46 653.02,83.99 653.14,84.11 653.26,83.58 653.38,83.08 653.5,83.68 653.62,83.05 653.74,83.48 653.86,82.5 653.98,81.71 654.1,82.05 654.22,83.32 654.34,85.12 654.46,81.89 654.58,81.55 654.7,83.88 654.82,83.88 654.94,82.03 655.06,82.19 655.18,82.16 655.3,83.33 655.42,86.81 655.54,81.98 655.66,83.27 655.78,82.25 655.9,83.06 656.02,83.39 656.14,83.22 656.26,81.57 656.38,81.58 656.5,84.02 656.62,83.17 656.74,83.06 656.86,83.54 656.98,81.85 657.1,84.32 657.22,81.74 657.34,81.41 657.46,81.5 657.58,82.59 657.7,86.1 657.82,82.79 657.94,83.1 658.06,84.67 658.18,82.24 658.3,80.9 658.42,81.88 658.54,82.19 658.66,80.58 658.78,82.31 658.9,82.78 659.02,85.23 659.14,83.64 659.26,82.79 659.38,81.96 659.5,81.68 659.62,80.29 659.74,82.41 659.86,79.71 659.98,82.38 660.1,84.66 660.22,82.06 660.34,83.08 660.46,81.43 660.58,80.15 660.7,82.86 660.82,82.21 660.94,83.11 661.06,82.68 661.18,83.28 661.3,81.9 661.42,83.18 661.54,83.78 661.66,81.81 661.78,82.07 661.9,83.83 662.02,83.11 662.14,82.21 662.26,80.52 662.38,82.12 662.5,84.37 662.62,81.9 662.74,82.23 662.86,81.31 662.98,82.32 663.1,82.45 663.22,82.81 663.34,81.61 663.46,81.01 663.58,85.08 663.7,82.62 663.82,81.33 663.94,82.2 664.06,83.01 664.18,83.78 664.3,82.78 664.42,81.98 664.54,83.04 664.66,80.63 664.78,81.19 664.9,83.95 665.02,82.64 665.14,82.3 665.26,81.56 665.38,80.89 665.5,82.68 665.62,82.41 665.74,84.54 665.86,81.27 665.98,82.35 666.1,81.88 666.22,81.19 666.34,84.63 666.46,84.05 666.58,82.49 666.7,80.53 666.82,82.69 666.94,82.92 667.06,81.51 667.18,80.24 667.3,84.55 667.42,80.52 667.54,83.63 667.66,81.39 667.78,81.74 667.9,83.52 668.02,80.78 668.14,81.8 668.26,82.15 668.38,83.7 668.5,83.49 668.62,82.38 668.74,80.63 668.86,83.72 668.98,81.67 669.1,82.55 669.22,79.83 669.34,81.96 669.46,82.83 669.58,81.72 669.7,82.95 669.82,83.81 669.94,84.17 670.06,81.45 670.18,80.2 670.3,79.02 670.42,81.72 670.54,80.06 670.66,82.71 670.78,79.44 670.9,83.47 671.02,82.17 671.14,80.05 671.26,82.43 671.38,82.81 671.5,82.79 671.62,82.04 671.74,82.84 671.86,82.71 671.98,81.6 672.1,82.14 672.22,80.35 672.34,82.99 672.46,80.35 672.58,81.76 672.7,80.49 672.82,83.18 672.94,82.18 673.06,80.64 673.18,82.29 673.3,81.67 673.42,82.78 673.54,81.98 673.66,81.86 673.78,81.61 673.9,79.8 674.02,82.5 674.14,82.84 674.26,80.64 674.38,82.52 674.5,83.36 674.62,83.03 674.74,83.53 674.86,83.04 674.98,81.37 675.1,84.68 675.22,82 675.34,81.18 675.46,83.8 675.58,81.05 675.7,83.04 675.82,80.94 675.94,83.44 676.06,83.6 676.18,81.38 676.3,82.69 676.42,82.87 676.54,81.85 676.66,82.61 676.78,81.82 676.9,81.12 677.02,80.68" fill="none" stroke="#e8383e" stroke-width="2.7" stroke-linejoin="round" stroke-linecap="round"/>
<polyline points="354,69.27 354.12,69.85 354.24,67.91 354.36,70.1 354.48,68.66 354.6,67.14 354.72,68.36 354.84,69.98 354.96,69.63 355.08,67.71 355.2,70 355.32,69.09 355.44,69.75 355.56,69.63 355.68,67.7 355.8,69.66 355.92,68.41 356.04,71.21 356.16,70.14 356.28,69.26 356.4,67.92 356.52,69.27 356.64,69.41 356.75,69.2" fill="none" stroke="#1d6ad8" stroke-width="2.7" stroke-linejoin="round" stroke-linecap="butt"/>
<polyline points="356.75,69.2 356.95,271 357.25,272.43 357.3,254.93 357.35,240.77 357.4,229.29 357.45,219.97 357.5,212.39 357.55,206.2 357.6,201.15 357.65,197 357.7,193.57 357.75,190.74 357.8,188.38 357.85,186.4 357.9,184.73 357.95,183.3 358,182.08 358.05,181.01 358.1,180.08 358.15,179.25 358.2,178.5 358.25,177.83 358.3,177.21 358.35,176.63 358.4,176.1 358.45,175.59 358.5,175.11 358.55,174.64 358.6,174.2 358.65,173.76 358.7,173.34" fill="none" stroke="#1d6ad8" stroke-width="1.7" stroke-linejoin="round" stroke-linecap="butt"/>
<polyline points="358.7,173.34 358.75,172.46 358.8,173.47 358.85,172.31 358.9,172.57 358.95,170.78 359,171.88 359.05,169.8 359.1,169.83 359.15,170.21 359.2,169.52 359.25,167.44 359.3,167.94 359.35,169.06 359.4,169.75 359.45,168.47 359.5,167.1 359.55,167.72 359.6,165.57 359.65,166.8 359.7,164.6 359.75,165.61 359.8,165.14 359.85,165.83 359.9,164.26 359.95,165.68 360,163.7 360.05,164.64 360.1,164.27 360.15,160.56 360.2,162.67 360.25,162.35 360.3,160.97 360.35,161.89 360.4,159.45 360.45,161.75 360.5,161.37 360.55,160.79 360.6,163.3 360.65,160.23 360.7,159.55 360.75,158.21 360.8,159.24 360.85,157.3 360.9,159.9 360.95,157.11 361,157.86 361.05,159.94 361.1,158.57 361.15,157.08 361.2,158.27 361.25,156.11 361.3,156.92 361.42,155.23 361.54,153.35 361.66,154.41 361.78,154.41 361.9,152.09 362.02,150.46 362.14,150.57 362.26,147.53 362.38,149.21 362.5,147.99 362.62,151.41 362.74,147.45 362.86,145.59 362.98,148.14 363.1,146.2 363.22,145.92 363.34,145.54 363.46,145.02 363.58,143.71 363.7,144.89 363.82,143.8 363.94,141.94 364.06,141.84 364.18,140.32 364.3,141.41 364.42,141.5 364.54,140.89 364.66,140.35 364.78,138.9 364.9,140.64 365.02,137.84 365.14,137.68 365.26,136.75 365.38,136.83 365.5,135.96 365.62,138.47 365.74,135.95 365.86,132.77 365.98,133.96 366.1,132.26 366.22,134.83 366.34,135.06 366.46,132.28 366.58,133.25 366.7,131.78 366.82,132.19 366.94,133.53 367.06,130.43 367.18,128.9 367.3,131.06 367.42,130.43 367.54,130.27 367.66,130.36 367.78,127.78 367.9,125.76 368.02,129.32 368.14,127.08 368.26,125.7 368.38,125.42 368.5,128.07 368.62,126.5 368.74,126.34 368.86,126.72 368.98,124.42 369.1,123.52 369.22,123.56 369.34,122.93 369.46,123.68 369.58,122.6 369.7,123.51 369.82,122.54 369.94,122.77 370.06,123.43 370.18,124.12 370.3,124.04 370.42,121.89 370.54,121.74 370.66,120.53 370.78,122.23 370.9,122.64 371.02,119.62 371.14,121.12 371.26,119.44 371.38,119.39 371.5,119.6 371.62,118.59 371.74,120.03 371.86,116.68 371.98,117.48 372.1,117.99 372.22,116.55 372.34,118.14 372.46,115.47 372.58,117.29 372.7,115.12 372.82,116.58 372.94,117.2 373.06,119.19 373.18,117.51 373.3,118 373.42,115.77 373.54,118.22 373.66,114.95 373.78,114.73 373.9,113.19 374.02,114.94 374.14,115.82 374.26,113.43 374.38,113.58 374.5,113.27 374.62,113.25 374.74,112.72 374.86,111.55 374.98,114.91 375.1,110.37 375.22,111.55 375.34,113.02 375.46,113.71 375.58,111.95 375.7,111.67 375.82,111.93 375.94,111.36 376.06,112.67 376.18,110.73 376.3,109.92 376.42,110.42 376.54,110.99 376.66,112.31 376.78,112.63 376.9,109.87 377.02,108.33 377.14,108.28 377.26,112.69 377.38,109.25 377.5,110.22 377.62,111.97 377.74,108.44 377.86,108.93 377.98,108.28 378.1,107.47 378.22,109.79 378.34,109.99 378.46,106.03 378.58,109.6 378.7,107.88 378.82,108.29 378.94,108.18 379.06,106.09 379.18,107.25 379.3,106.24 379.42,109.88 379.54,110.11 379.66,107.25 379.78,105.48 379.9,108.39 380.02,106.52 380.14,108.91 380.26,109.08 380.38,108.57 380.5,105.76 380.62,104.86 380.74,105.18 380.86,105.8 380.98,104.61 381.1,107.24 381.22,106.43 381.34,105.42 381.46,104.83 381.58,106.09 381.7,106.92 381.82,102.51 381.94,105.22 382.06,104.42 382.18,103.73 382.3,104.15 382.42,104.67 382.54,106.82 382.66,104.36 382.78,103.62 382.9,102.48 383.02,104.99 383.14,102.9 383.26,103.63 383.38,104.61 383.5,103.65 383.62,102.99 383.74,103.17 383.86,104.46 383.98,103.18 384.1,103.42 384.22,103.56 384.34,102.49 384.46,103.26 384.58,102.38 384.7,104.12 384.82,103.21 384.94,100.22 385.06,102.11 385.18,103.74 385.3,101.93 385.42,101.57 385.54,103.33 385.66,100.54 385.78,101.95 385.9,102.55 386.02,102.81 386.14,100.27 386.26,99.91 386.38,103.4 386.5,100.36 386.62,101.18 386.74,104.37 386.86,100.53 386.98,98.19 387.1,104.6 387.22,102.21 387.34,101.29 387.46,104.36 387.58,100.57 387.7,102.47 387.82,100.53 387.94,100.09 388.06,101.19 388.18,101.45 388.3,101.89 388.42,101.7 388.54,99.43 388.66,99.9 388.78,102.45 388.9,100.66 389.02,99.92 389.14,101.48 389.26,101.48 389.38,101.26 389.5,98.81 389.62,98.95 389.74,100.36 389.86,100.86 389.98,97.69 390.1,98.59 390.22,98.82 390.34,100.36 390.46,97.58 390.58,102.44 390.7,98.97 390.82,99.6 390.94,101.63 391.06,99.48 391.18,99.58 391.3,98.31 391.42,99.09 391.54,97.05 391.66,98.26 391.78,98.35 391.9,96.95 392.02,99.49 392.14,98.71 392.26,95.64 392.38,99.03 392.5,96.74 392.62,98.64 392.74,96.78 392.86,97.3 392.98,98.25 393.1,100.17 393.22,95.63 393.34,97.09 393.46,97.04 393.58,98.85 393.7,97.05 393.82,97.85 393.94,98.99 394.06,98.2 394.18,96.61 394.3,96.53 394.42,96.69 394.54,97.19 394.66,95.82 394.78,96.81 394.9,97.58 395.02,96.17 395.14,96.1 395.26,97.04 395.38,97.65 395.5,94.82 395.62,95.23 395.74,98.13 395.86,96.38 395.98,94.93 396.1,96.46 396.22,98.31 396.34,95.4 396.46,94.9 396.58,95.78 396.7,98.12 396.82,95.15 396.94,96.64 397.06,97.21 397.18,96.66 397.3,95.36 397.42,96.6 397.54,95.93 397.66,96.71 397.78,96.12 397.9,95.75 398.02,93.27 398.14,96.31 398.26,95.28 398.38,92.68 398.5,95.28 398.62,95.67 398.74,95.09 398.86,92.03 398.98,94.21 399.1,93.85 399.22,94.65 399.34,92.03 399.46,95.34 399.58,95.62 399.7,95.63 399.82,94.77 399.94,94.66 400.06,96.06 400.18,95.3 400.3,94.12 400.42,95.01 400.54,95.48 400.66,96.09 400.78,95.1 400.9,93.44 401.02,93.78 401.14,94.66 401.26,94.73 401.38,95.61 401.5,91.82 401.62,93.28 401.74,92.68 401.86,95.52 401.98,95.08 402.1,94.48 402.22,95.05 402.34,93.23 402.46,94.61 402.58,93.97 402.7,93.97 402.82,93.65 402.94,95 403.06,95.1 403.18,91.85 403.3,92.97 403.42,93.72 403.54,94.31 403.66,91.46 403.78,92.3 403.9,93.06 404.02,95.67 404.14,92.26 404.26,92.83 404.38,93.26 404.5,93.13 404.62,93.42 404.74,93.15 404.86,92.91 404.98,93.48 405.1,93.43 405.22,93.52 405.34,93.52 405.46,91.46 405.58,93.15 405.7,93.09 405.82,93.86 405.94,93.71 406.06,94.78 406.18,91.72 406.3,92.54 406.42,92.96 406.54,91.83 406.66,92.26 406.78,92.1 406.9,91.92 407.02,95.44 407.14,92.37 407.26,94.33 407.38,91.3 407.5,92.73 407.62,91.52 407.74,92.74 407.86,94.42 407.98,94.74 408.1,93.25 408.22,92.76 408.34,92.15 408.46,92.61 408.58,93.85 408.7,89.96 408.82,91.62 408.94,90.73 409.06,93.24 409.18,90.32 409.3,92.96 409.42,90.37 409.54,90.43 409.66,93.72 409.78,93.06 409.9,90.57 410.02,89.46 410.14,90.45 410.26,92.38 410.38,91.55 410.5,90.35 410.62,92.22 410.74,93.26 410.86,90.01 410.98,91.33 411.1,90.37 411.22,92.77 411.34,91.48 411.46,90.46 411.58,89.15 411.7,92.14 411.82,90.84 411.94,91.35 412.06,90.91 412.18,91.64 412.3,88.86 412.42,90 412.54,91.46 412.66,93.32 412.78,91.37 412.9,90.84 413.02,90.08 413.14,90.01 413.26,90.56 413.38,89.8 413.5,90.95 413.62,90.77 413.74,93.29 413.86,90.58 413.98,92.1 414.1,90.1 414.22,91.84 414.34,93.73 414.46,89.83 414.58,89.05 414.7,91.88 414.82,90.56 414.94,90.13 415.06,91.01 415.18,90.78 415.3,91.98 415.42,90.89 415.54,89.59 415.66,88.87 415.78,88.05 415.9,88.86 416.02,91.64 416.14,88.34 416.26,90.23 416.38,91.71 416.5,90.86 416.62,92.04 416.74,91 416.86,92.04 416.98,89.25 417.1,88.9 417.22,92.46 417.34,90.36 417.46,90 417.58,89.13 417.7,91.89 417.82,90.43 417.94,90.42 418.06,88.92 418.18,89.83 418.3,89.15 418.42,89.54 418.54,90.06 418.66,88.96 418.78,88.51 418.9,90.58 419.02,88.23 419.14,91.31 419.26,91.46 419.38,87.66 419.5,91.51 419.62,88.35 419.74,91.07 419.86,88.61 419.98,90.32 420.1,87.96 420.22,90.1 420.34,89.36 420.46,91.27 420.58,90.18 420.7,88.03 420.82,89.57 420.94,88.26 421.06,89.35 421.18,91.07 421.3,91.09 421.42,89.25 421.54,87.97 421.66,89.09 421.78,91.66 421.9,88.78 422.02,87.05 422.14,87.11 422.26,87.34 422.38,90.25 422.5,88.39 422.62,87.84 422.74,89.23 422.86,90 422.98,88.53 423.1,87.67 423.22,88.95 423.34,89.71 423.46,86.5 423.58,86.8 423.7,91.16 423.82,89.12 423.94,89 424.06,86.72 424.18,87.22 424.3,88.13 424.42,90.06 424.54,88.54 424.66,86.31 424.78,90.36 424.9,90.4 425.02,89.46 425.14,86.89 425.26,87.45 425.38,87.91 425.5,88.4 425.62,90.53 425.74,86.45 425.86,87.25 425.98,88.12 426.1,87.38 426.22,87.43 426.34,86.15 426.46,88.09 426.58,87.6 426.7,88.22 426.82,89.16 426.94,87.6 427.06,87.76 427.18,88.25 427.3,87.3 427.42,88.11 427.54,85.58 427.66,86.71 427.78,88.45 427.9,88.03 428.02,88.81 428.14,86.01 428.26,87.02 428.38,87.58 428.5,87.54 428.62,87.36 428.74,89.45 428.86,87 428.98,87.16 429.1,88.21 429.22,88.14 429.34,87.68 429.46,89.63 429.58,88.2 429.7,87.15 429.82,86.19 429.94,88.99 430.06,86.59 430.18,87.87 430.3,86.67 430.42,90.04 430.54,88.24 430.66,85.03 430.78,87.64 430.9,85.47 431.02,86.5 431.14,88.24 431.26,85.52 431.38,87.59 431.5,87.05 431.62,88.09 431.74,85.85 431.86,87.88 431.98,86.6 432.1,88.36 432.22,87.08 432.34,87.85 432.46,88.7 432.58,88.37 432.7,86.9 432.82,87.83 432.94,86.9 433.06,87.43 433.18,88.95 433.3,85.73 433.42,85.3 433.54,87.42 433.66,86.05 433.78,88.34 433.9,87.84 434.02,87.53 434.14,86.68 434.26,86.09 434.38,85.53 434.5,85.94 434.62,86.59 434.74,85.38 434.86,87.9 434.98,87.39 435.1,84.87 435.22,83.07 435.34,87.93 435.46,84.94 435.58,82.77 435.7,84.33 435.82,86.72 435.94,88.18 436.06,87.61 436.18,88.3 436.3,88.68 436.42,88.78 436.54,85.13 436.66,86.1 436.78,85.53 436.9,86.39 437.02,85.85 437.14,86.63 437.26,88.63 437.38,85.34 437.5,87.19 437.62,84.97 437.74,84.53 437.86,87.49 437.98,85.99 438.1,86.24 438.22,88 438.34,84.4 438.46,86.2 438.58,87.97 438.7,84.74 438.82,86.38 438.94,87.23 439.06,87.22 439.18,86.87 439.3,87.24 439.42,86.59 439.54,86.97 439.66,86.43 439.78,84.76 439.9,86.05 440.02,85.75 440.14,87.34 440.26,86.51 440.38,86.51 440.5,86.07 440.62,86.66 440.74,85.1 440.86,86.14 440.98,84.89 441.1,85.3 441.22,84.3 441.34,88.58 441.46,86.49 441.58,84.46 441.7,85.2 441.82,86.1 441.94,85.07 442.06,86.58 442.18,86.18 442.3,87.07 442.42,81.94 442.54,86.53 442.66,85.85 442.78,86.82 442.9,84.79 443.02,84.55 443.14,84.02 443.26,86.07 443.38,85.66 443.5,83.25 443.62,84.69 443.74,85.37 443.86,83.85 443.98,84.9 444.1,85.22 444.22,84.61 444.34,83.23 444.46,86.79 444.58,85.62 444.7,85.73 444.82,84.52 444.94,85.48 445.06,84.36 445.18,85.06 445.3,85.38 445.42,85.94 445.54,84.42 445.66,84.17 445.78,86.76 445.9,83.35 446.02,85.37 446.14,84.97 446.26,85.97 446.38,84.52 446.5,83.73 446.62,85.2 446.74,83.29 446.86,83.66 446.98,84.97 447.1,85.13 447.22,83.09 447.34,86.58 447.46,84.89 447.58,86.52 447.7,86.33 447.82,84.97 447.94,84.37 448.06,83.05 448.18,86.14 448.3,86.83 448.42,85.04 448.54,84.89 448.66,83.65 448.78,83.49 448.9,84.64 449.02,86.33 449.14,84.4 449.26,85.87 449.38,85.24 449.5,84.57 449.62,83.63 449.74,84.21 449.86,83.14 449.98,85.76 450.1,85.3 450.22,83.39 450.34,83.76 450.46,82.93 450.58,84.8 450.7,85.36 450.82,83.43 450.94,84.01 451.06,85.04 451.18,82.42 451.3,84.83 451.42,86.53 451.54,86.59 451.66,84.33 451.78,84.42 451.9,85.43 452.02,85.32 452.14,86.34 452.26,84.77 452.38,84.88 452.5,84.86 452.62,86.59 452.74,83.23 452.86,86.07 452.98,84.75 453.1,84.81 453.22,83.38 453.34,84.38 453.46,83.28 453.58,81.1 453.7,84.7 453.82,82.67 453.94,84.44 454.06,82.69 454.18,83.88 454.3,83.82 454.42,82.12 454.54,84.32 454.66,83.53 454.78,81.24 454.9,86.58 455.02,84.88 455.14,84.7 455.26,84.28 455.38,85.29 455.5,83.59 455.62,85.12 455.74,85.4 455.86,83.54 455.98,84.22 456.1,84.35 456.22,82.26 456.34,84.58 456.46,84.03 456.58,85.66 456.7,84.3 456.82,82.96 456.94,84.22 457.06,83.38 457.18,81.03 457.3,83.73 457.42,82.34 457.54,85.58 457.66,84.35 457.78,85.04 457.9,84.36 458.02,83.64 458.14,84.76 458.26,81.92 458.38,84.87 458.5,83.67 458.62,81.31 458.74,83.61 458.86,84.57 458.98,83.18 459.1,85.53 459.22,85.41 459.34,82.99 459.46,82.78 459.58,83.45 459.7,83.12 459.82,84.63 459.94,85.1 460.06,84.53 460.18,84.56 460.3,83.61 460.42,83.5 460.54,82.78 460.66,86.62 460.78,84.8 460.9,84.38 461.02,82.77 461.14,81.66 461.26,82.62 461.38,83.02 461.5,83.1 461.62,84.36 461.74,83.05 461.86,84.34 461.98,84.15 462.1,84.38 462.22,83.35 462.34,84.48 462.46,83.67 462.58,83.71 462.7,83.24 462.82,83.28 462.94,83.72 463.06,84.28 463.18,82.5 463.3,83.02 463.42,83.45 463.54,84.8 463.66,83.38 463.78,84.17 463.9,84.52 464.02,83.37 464.14,85.33 464.26,82.08 464.38,81.58 464.5,81.84 464.62,82.22 464.74,82.52 464.86,82.9 464.98,83.7 465.1,82.62 465.22,82.52 465.34,83.94 465.46,82.96 465.58,83.46 465.7,82.62 465.82,81.5 465.94,83.07 466.06,82.97 466.18,83.59 466.3,83.1 466.42,82.03 466.54,84.97 466.66,81.48 466.78,80.64 466.9,82.19 467.02,82.32 467.14,83.63 467.26,82.24 467.38,82.97 467.5,83.26 467.62,83.83 467.74,80.85 467.86,83.23 467.98,81.33 468.1,84.32 468.22,81.91 468.34,81.99 468.46,83.53 468.58,82.82 468.7,82.72 468.82,83.73 468.94,82.19 469.06,82.03 469.18,84.11 469.3,82.09 469.42,83.02 469.54,81.2 469.66,82.74 469.78,82.35 469.9,83.24 470.02,85.6 470.14,80.26 470.26,81.47 470.38,82.29 470.5,82.88 470.62,80.82 470.74,82.62 470.86,81.61 470.98,82.75 471.1,81.45 471.22,86.23 471.34,82.91 471.46,83.54 471.58,79.62 471.7,81.57 471.82,82.38 471.94,84.78 472.06,81.51 472.18,83.05 472.3,81.4 472.42,82.39 472.54,80.09 472.66,80.07 472.78,81.53 472.9,83.59 473.02,83.59 473.14,82.25 473.26,80.84 473.38,83.92 473.5,82.01 473.62,81.28 473.74,81.95 473.86,82.11 473.98,84.64 474.1,82.39 474.22,81.73 474.34,81.82 474.46,80.38 474.58,83.99 474.7,81.13 474.82,82.52 474.94,81.09 475.06,81.33 475.18,79.53 475.3,82.43 475.42,85.18 475.54,84.64 475.66,82.84 475.78,84.13 475.9,81.29 476.02,80.81 476.14,83.77 476.26,81.4 476.38,85.01 476.5,84.06 476.62,80.77 476.74,81.76 476.86,81.76 476.98,83.2 477.1,81.71 477.22,82.16 477.34,80.23 477.46,84.27 477.58,83.31 477.7,82.26 477.82,80.08 477.94,82.35 478.06,86.01 478.18,82.66 478.3,83.73 478.42,79.32 478.54,81.71 478.66,81.79 478.78,83.49 478.9,80.8 479.02,83.17 479.14,83.47 479.26,82.17 479.38,81.81 479.5,82.61 479.62,80.68 479.74,79.91 479.86,79.77 479.98,82.18 480.1,81.58 480.22,81.76 480.34,81.2 480.46,81.78 480.58,84.32 480.7,81.49 480.82,80.69 480.94,80.27 481.06,80.61 481.18,82.57 481.3,81.54 481.42,81.31 481.54,81.53 481.66,79.93 481.78,80.61 481.9,81.25 482.02,81.22 482.14,82.08 482.26,82.89 482.38,80.86 482.5,82.13 482.62,82.21 482.74,80.92 482.86,82.4 482.98,82.95 483.1,79.57 483.22,82.21 483.34,82.19 483.46,82.07 483.58,79.67 483.7,82.94 483.82,81.46 483.94,80.58 484.06,79.58 484.18,82.15 484.3,81.38 484.42,79.82 484.54,83.71 484.66,79.98 484.78,82.44 484.9,80.32 485.02,81.31 485.14,82.43 485.26,81.23 485.38,82.27 485.5,81.59 485.62,83.52 485.74,82.52 485.86,82.22 485.98,80.64 486.1,81.04 486.22,81.84 486.34,83.78 486.46,83.52 486.58,81.81 486.7,83.08 486.82,81.77 486.94,81.87 487.06,81.66 487.18,81.17 487.3,82.22 487.42,85.58 487.54,81.19 487.66,83.04 487.78,82.7 487.9,81.6 488.02,82.54 488.14,80.96 488.26,81.71 488.38,83.4 488.5,83.56 488.62,81.48 488.74,81.27 488.86,79.76 488.98,82.45 489.1,80.75 489.22,80.34 489.34,81.73 489.46,81.38 489.58,79.55 489.7,82.93 489.82,79.2 489.94,79.23 490.06,82.57 490.18,80.93 490.3,79.08 490.42,82.64 490.54,82.44 490.66,81.02 490.78,81.15 490.9,81.49 491.02,82.31 491.14,81.06 491.26,79.78 491.38,81.08 491.5,80.54 491.62,79.08 491.74,80.53 491.86,79.8 491.98,81.3 492.1,82.71 492.22,81.79 492.34,84.82 492.46,81.72 492.58,81.33 492.7,79.95 492.82,82.25 492.94,81.59 493.06,78.98 493.18,80.26 493.3,81.94 493.42,80.5 493.54,81.63 493.66,81.37 493.78,83.77 493.9,79.14 494.02,80.85 494.14,79.32 494.26,79.89 494.38,83.6 494.5,82.26 494.62,81.83 494.74,80.97 494.86,81.08 494.98,83.69 495.1,79.68 495.22,82.71 495.34,82.47 495.46,79.83 495.58,81.32 495.7,80.09 495.82,81.07 495.94,82.15 496.06,81.39 496.18,82.6 496.3,81.98 496.42,78.05 496.54,82.04 496.66,79.3 496.78,77.12 496.9,80.5 497.02,80.25 497.14,83.65 497.26,82.28 497.38,82.05 497.5,81 497.62,82.11 497.74,80.06 497.86,82.37 497.98,80.3 498.1,80.69 498.22,81.26 498.34,79.95 498.46,84.76 498.58,81.15 498.7,80.32 498.82,79.63 498.94,80 499.06,80.78 499.18,81.55 499.3,78.88 499.42,80.21 499.54,83.2 499.66,81.22 499.78,80.83 499.9,80.29 500.02,80.49 500.14,80.97 500.26,82.61 500.38,82.54 500.5,80.06 500.62,79.61 500.74,81.39 500.86,80 500.98,82.01 501.1,82.19 501.22,79.75 501.34,77.95 501.46,78.89 501.58,80.54 501.7,79.11 501.82,81.06 501.94,80.91 502.06,80.69 502.18,80.43 502.3,79.7 502.42,81.39 502.54,78.09 502.66,81.16 502.78,83.59 502.9,82.27 503.02,80.6 503.14,80.21 503.26,81.08 503.38,80.38 503.5,82.71 503.62,79.81 503.74,80.3 503.86,78.99 503.98,81.29 504.1,78.46 504.22,81.58 504.34,81.22 504.46,78.84 504.58,81.02 504.7,80.15 504.82,79.77 504.94,78.73 505.06,78.35 505.18,78.57 505.3,78.26 505.42,80.49 505.54,79.11 505.66,83.19 505.78,80.9 505.9,81.91 506.02,79.51 506.14,82.44 506.26,79.82 506.38,81.68 506.5,80.84 506.62,81.3 506.74,78.86 506.86,79.14 506.98,81.59 507.1,80.95 507.22,79.59 507.34,81.12 507.46,80.47 507.58,79.58 507.7,82.99 507.82,77.33 507.94,79.94 508.06,81.44 508.18,80.85 508.3,82.86 508.42,81.06 508.54,80.95 508.66,79.46 508.78,82.39 508.9,79.49 509.02,79.81 509.14,79.81 509.26,81.09 509.38,79.48 509.5,80.16 509.62,79.57 509.74,77.95 509.86,79.34 509.98,82.89 510.1,79.7 510.22,80.42 510.34,83.56 510.46,79.18 510.58,81.11 510.7,81.76 510.82,78.93 510.94,82.19 511.06,81.34 511.18,78.6 511.3,80.25 511.42,78.56 511.54,83.79 511.66,82.9 511.78,80.15 511.9,79.24 512.02,80.7 512.14,78.62 512.26,79.79 512.38,78.65 512.5,79.75 512.62,80.63 512.74,80.5 512.86,81.02 512.98,79.41 513.1,81.21 513.22,80.18 513.34,80.51 513.46,82 513.58,80.09 513.7,78.78 513.82,80.92 513.94,78.68 514.06,80.13 514.18,79.94 514.3,77.27 514.42,78.13 514.54,78.79 514.66,80.43 514.78,81.16 514.9,80.06 515.02,82.99 515.14,81.03 515.26,77.95 515.38,80.78 515.5,78.64 515.62,78.91 515.74,79.56 515.86,79.61 515.98,80.36 516.1,80.91 516.22,81.35 516.34,79.17 516.46,80.02 516.58,81.42 516.7,78.45 516.82,81.19 516.94,80.83 517.06,79.41 517.18,81.45 517.3,80.4 517.42,80.78 517.54,81.93 517.66,79.73 517.78,78.37 517.9,79.24 518.02,78.41 518.14,81.13 518.26,79.33 518.38,79.23 518.5,78.97 518.62,81.23 518.74,80.18 518.86,80.78 518.98,80.07 519.1,78.81 519.22,78.57 519.34,81.31 519.46,79.38 519.58,80.62 519.7,78.25 519.82,79.34 519.94,78.99 520.06,78.6 520.18,80.44 520.3,80.82 520.42,79.36 520.54,82.41 520.66,79.64 520.78,77.58 520.9,80.34 521.02,77.99 521.14,79.16 521.26,80 521.38,81.14 521.5,80.37 521.62,78.7 521.74,81.29 521.86,79.96 521.98,81.29 522.1,81.32 522.22,79.64 522.34,78.67 522.46,80.51 522.58,79.69 522.7,79.5 522.82,79.77 522.94,78.48 523.06,78.25 523.18,78.88 523.3,79.76 523.42,79.15 523.54,80.37 523.66,80.51 523.78,80.1 523.9,78.23 524.02,77.63 524.14,78.26 524.26,77.98 524.38,80.57 524.5,80.52 524.62,77.36 524.74,78.94 524.86,79.28 524.98,78.33 525.1,79.06 525.22,78.34 525.34,78.88 525.46,79.43 525.58,79.88 525.7,78.38 525.82,80.35 525.94,78.31 526.06,78.94 526.18,79.14 526.3,78.2 526.42,79.99 526.54,78.53 526.66,78.17 526.78,81.54 526.9,79.02 527.02,78.82 527.14,76.38 527.26,79.14 527.38,81.32 527.5,78.88 527.62,78.93 527.74,80.33 527.86,80.44 527.98,80.84 528.1,80.22 528.22,79.01 528.34,78.41 528.46,80.06 528.58,80 528.7,79.96 528.82,78.45 528.94,78.68 529.06,81.29 529.18,78.81 529.3,80.09 529.42,79.31 529.54,77.1 529.66,80.01 529.78,77.92 529.9,81.36 530.02,78.76 530.14,78.42 530.26,78.99 530.38,79.17 530.5,78.7 530.62,78.77 530.74,80.59 530.86,79.41 530.98,80.17 531.1,79.32 531.22,79.99 531.34,78.36 531.46,81.19 531.58,78.02 531.7,76.94 531.82,77.42 531.94,77.88 532.06,78.79 532.18,81.34 532.3,77.55 532.42,80.05 532.54,77.92 532.66,80.87 532.78,79.86 532.9,81.51 533.02,78.77 533.14,80.13 533.26,80.22 533.38,78.55 533.5,78.98 533.62,78.28 533.74,78.07 533.86,78.29 533.98,77.55 534.1,80.14 534.22,78.92 534.34,77.89 534.46,79.08 534.58,79.42 534.7,78.59 534.82,80.37 534.94,78.7 535.06,79.19 535.18,81.84 535.3,78.29 535.42,79.04 535.54,79.37 535.66,77.38 535.78,78.44 535.9,80 536.02,81.07 536.14,78.09 536.26,79.58 536.38,78.6 536.5,78.39 536.62,77.39 536.74,79.47 536.86,76.24 536.98,79.77 537.1,79.24 537.22,79.33 537.34,78.66 537.46,77.25 537.58,76.91 537.7,79.07 537.82,79.58 537.94,79.13 538.06,77.71 538.18,80.04 538.3,81.9 538.42,78.35 538.54,77.65 538.66,78.39 538.78,81.2 538.9,77.84 539.02,78.25 539.14,78.67 539.26,78.49 539.38,79.76 539.5,78.28 539.62,77.3 539.74,79.07 539.86,78.9 539.98,81.46 540.1,80.44 540.22,81.2 540.34,78.94 540.46,79.4 540.58,79.5 540.7,78.87 540.82,76.78 540.94,79.59 541.06,79.12 541.18,80.98 541.3,80.25 541.42,78.18 541.54,79.3 541.66,77.41 541.78,80.36 541.9,78.59 542.02,77.09 542.14,75.99 542.26,79.82 542.38,79.58 542.5,77.59 542.62,81.79 542.74,78.02 542.86,80.84 542.98,77.85 543.1,79.08 543.22,78.02 543.34,81.47 543.46,80.04 543.58,79.1 543.7,79.25 543.82,78.95 543.94,79 544.06,76.97 544.18,79.31 544.3,80.53 544.42,77.81 544.54,77.03 544.66,76.89 544.78,77.45 544.9,79.98 545.02,79.26 545.14,76.95 545.26,80.53 545.38,78.22 545.5,79.5 545.62,78.22 545.74,77.31 545.86,78.85 545.98,78.14 546.1,78.96 546.22,78.71 546.34,77.1 546.46,79.22 546.58,78.07 546.7,79.27 546.82,79.79 546.94,79.24 547.06,79.81 547.18,80.84 547.3,78.21 547.42,77.77 547.54,77.25 547.66,79.93 547.78,77.44 547.9,79.42 548.02,80.45 548.14,77.46 548.26,80.46 548.38,77.27 548.5,79.53 548.62,78.6 548.74,76.58 548.86,78.48 548.98,80.55 549.1,78.31 549.22,76.96 549.34,79.77 549.46,79.78 549.58,77.09 549.7,78.69 549.82,76.82 549.94,76.64 550.06,79.44 550.18,79.48 550.3,80.54 550.42,79.5 550.54,78.24 550.66,79.95 550.78,77.36 550.9,77.95 551.02,78.65 551.14,77.89 551.26,78.26 551.38,77.39 551.5,79.69 551.62,80.39 551.74,79.94 551.86,80.94 551.98,79.75 552.1,79.55 552.22,76.76 552.34,78.69 552.46,76.57 552.58,79.87 552.7,78.73 552.82,78.3 552.94,77.91 553.06,77.56 553.18,78.3 553.3,78.02 553.42,78.88 553.54,76.75 553.66,77.84 553.78,80.36 553.9,75.84 554.02,77.8 554.14,76.74 554.26,78.88 554.38,79.35 554.5,77.89 554.62,77.43 554.74,78.03 554.86,79.56 554.98,77.36 555.1,77.99 555.22,79.76 555.34,76.98 555.46,76.65 555.58,79.26 555.7,80.03 555.82,79.32 555.94,81.37 556.06,77.01 556.18,77.55 556.3,78.86 556.42,75.36 556.54,77.68 556.66,80.99 556.78,79.95 556.9,76.95 557.02,81.15 557.14,80.28 557.26,78.67 557.38,77.6 557.5,79.24 557.62,80.18 557.74,78.45 557.86,77.26 557.98,79.01 558.1,78.85 558.22,76.34 558.34,76.49 558.46,76.97 558.58,79.25 558.7,76.73 558.82,77.95 558.94,78.59 559.06,76.94 559.18,76.9 559.3,77.1 559.42,77.84 559.54,76.94 559.66,80.56 559.78,78.85 559.9,79.55 560.02,76.86 560.14,76.86 560.26,76.58 560.38,76.93 560.5,79 560.62,79.65 560.74,79.59 560.86,79.29 560.98,75.42 561.1,77.59 561.22,78.64 561.34,79.1 561.46,77.9 561.58,78.6 561.7,78.01 561.82,77.87 561.94,78.84 562.06,77.06 562.18,77.33 562.3,78.55 562.42,78.48 562.54,78.2 562.66,79.2 562.78,77.43 562.9,78.44 563.02,79.57 563.14,77.2 563.26,77.63 563.38,79.78 563.5,77.69 563.62,78.98 563.74,77.01 563.86,77.23 563.98,76.49 564.1,76.35 564.22,79.57 564.34,77.95 564.46,77.22 564.58,79.29 564.7,78.35 564.82,78.64 564.94,78.23 565.06,79.1 565.18,76.24 565.3,76.16 565.42,77.52 565.54,78.2 565.66,78.09 565.78,77.18 565.9,78.66 566.02,78.43 566.14,77.92 566.26,77.87 566.38,79.65 566.5,77.69 566.62,76.39 566.74,76.6 566.86,79.31 566.98,77.68 567.1,78.37 567.22,78.51 567.34,78 567.46,77.06 567.58,77.86 567.7,78.85 567.82,76.82 567.94,78.04 568.06,78.08 568.18,76.39 568.3,77.6 568.42,78.5 568.54,78.06 568.66,76.91 568.78,79.65 568.9,77.2 569.02,79.04 569.14,78.68 569.26,78.04 569.38,79.76 569.5,81.16 569.62,79.23 569.74,78.67 569.86,78.33 569.98,78.13 570.1,76.17 570.22,79.04 570.34,76.94 570.46,74.86 570.58,78.09 570.7,77.48 570.82,76.06 570.94,78.99 571.06,78.22 571.18,79.36 571.3,77.47 571.42,77.54 571.54,78.34 571.66,79.16 571.78,78.2 571.9,80.12 572.02,77.49 572.14,77.56 572.26,77.09 572.38,76.87 572.5,76.38 572.62,76.05 572.74,77.43 572.86,78.5 572.98,79.94 573.1,77.88 573.22,75.75 573.34,78.97 573.46,76.85 573.58,78.87 573.7,78.14 573.82,77.23 573.94,77.41 574.06,77.18 574.18,78.71 574.3,76.92 574.42,77.49 574.54,77.08 574.66,77.05 574.78,78.82 574.9,79.42 575.02,77.42 575.14,78.07 575.26,79.11 575.38,78.88 575.5,77.21 575.62,78.92 575.74,77.97 575.86,76.2 575.98,77.35 576.1,76.61 576.22,78.55 576.34,78.8 576.46,79.07 576.58,77.54 576.7,77.14 576.82,77.46 576.94,77.87 577.06,76.93 577.18,78.27 577.3,79.01 577.42,75.54 577.54,78.91 577.66,78.92 577.78,76.18 577.9,83.28 578.02,78.92 578.14,78.22 578.26,75.79 578.38,78.04 578.5,77.86 578.62,78.47 578.74,77.16 578.86,76.43 578.98,76.34 579.1,78.07 579.22,76.78 579.34,78.1 579.46,79.87 579.58,75.63 579.7,77.4 579.82,80.56 579.94,78.34 580.06,80.03 580.18,77.95 580.3,79.79 580.42,79.1 580.54,79.2 580.66,76.26 580.78,79.53 580.9,77.83 581.02,77.15 581.14,78.8 581.26,77 581.38,76.25 581.5,77.87 581.62,79.09 581.74,77.28 581.86,78.56 581.98,79.55 582.1,77.68 582.22,77.58 582.34,76.8 582.46,76.97 582.58,77.57 582.7,74.45 582.82,77.93 582.94,80.06 583.06,77.83 583.18,77.74 583.3,76.81 583.42,78.53 583.54,77.27 583.66,80.1 583.78,78.31 583.9,78.44 584.02,78.17 584.14,77.16 584.26,74.36 584.38,77.08 584.5,78.59 584.62,75.15 584.74,78.24 584.86,78.22 584.98,78.42 585.1,77.91 585.22,77.98 585.34,77.18 585.46,79.17 585.58,75.86 585.7,76.16 585.82,76.36 585.94,76.45 586.06,78.53 586.18,77.28 586.3,78.72 586.42,75.93 586.54,77.03 586.66,76.58 586.78,77.68 586.9,77.87 587.02,77.9 587.14,76.74 587.26,79.25 587.38,77.17 587.5,78.65 587.62,79.81 587.74,79.33 587.86,75.91 587.98,79.88 588.1,77.36 588.22,78.48 588.34,77.75 588.46,77.59 588.58,77.71 588.7,78.26 588.82,78.7 588.94,76.36 589.06,75.38 589.18,76.97 589.3,75.81 589.42,76.32 589.54,79.05 589.66,78.33 589.78,76.53 589.9,76.7 590.02,76.79 590.14,76.93 590.26,77.22 590.38,77.66 590.5,78.73 590.62,77.2 590.74,75.13 590.86,77.55 590.98,77.26 591.1,76.83 591.22,78.55 591.34,75.01 591.46,76.01 591.58,76.42 591.7,79.51 591.82,76.26 591.94,76.92 592.06,78.01 592.18,77.58 592.3,74.61 592.42,77.58 592.54,76.77 592.66,77.94 592.78,78.58 592.9,77.71 593.02,76.52 593.14,74.26 593.26,77.73 593.38,78.13 593.5,77.79 593.62,75.33 593.74,76.48 593.86,75.19 593.98,77.57 594.1,76.41 594.22,77.8 594.34,76.62 594.46,75.57 594.58,75.64 594.7,78.21 594.82,78.18 594.94,76.83 595.06,75.51 595.18,76.24 595.3,77.91 595.42,76.78 595.54,76.22 595.66,78.53 595.78,77.68 595.9,76.2 596.02,75.35 596.14,79.39 596.26,78.15 596.38,76.21 596.5,77.66 596.62,77.01 596.74,75.47 596.86,77.28 596.98,76.79 597.1,77.62 597.22,76.16 597.34,77.79 597.46,77.6 597.58,78.2 597.7,76.57 597.82,79.09 597.94,77.19 598.06,80.25 598.18,77.8 598.3,77.48 598.42,76.47 598.54,78.8 598.66,79.83 598.78,78.13 598.9,77.11 599.02,77.56 599.14,79.33 599.26,76.93 599.38,77.51 599.5,76.73 599.62,78.23 599.74,77.91 599.86,77.9 599.98,77.75 600.1,77.06 600.22,77.92 600.34,77.06 600.46,75.35 600.58,78.47 600.7,76.21 600.82,78.54 600.94,77.84 601.06,78.36 601.18,77.22 601.3,74.8 601.42,77.13 601.54,75.43 601.66,78.79 601.78,78.09 601.9,74.93 602.02,78.17 602.14,77.26 602.26,74.18 602.38,76.46 602.5,76.62 602.62,77.81 602.74,77.49 602.86,74.74 602.98,78.55 603.1,76.45 603.22,77.86 603.34,76.3 603.46,78.33 603.58,77.31 603.7,75.94 603.82,75.79 603.94,78.18 604.06,78 604.18,76.73 604.3,78.08 604.42,79.17 604.54,77.14 604.66,75.64 604.78,78.93 604.9,76.65 605.02,77.1 605.14,75.44 605.26,78.04 605.38,77.76 605.5,76.52 605.62,77.76 605.74,76.86 605.86,76.5 605.98,75.23 606.1,78.57 606.22,77.54 606.34,79.52 606.46,78.91 606.58,76.82 606.7,78.17 606.82,76.24 606.94,77.51 607.06,79.51 607.18,77.68 607.3,77.94 607.42,76.09 607.54,77.03 607.66,77.09 607.78,78.07 607.9,76.23 608.02,76.45 608.14,79.8 608.26,79.57 608.38,78.62 608.5,76.74 608.62,76.43 608.74,77.01 608.86,79.11 608.98,78.44 609.1,78.35 609.22,78.1 609.34,78.92 609.46,77.08 609.58,78.19 609.7,75.38 609.82,75.82 609.94,76.8 610.06,78.13 610.18,76.86 610.3,78.3 610.42,78.17 610.54,78.42 610.66,76.81 610.78,78.48 610.9,77.01 611.02,77.83 611.14,74.25 611.26,78.08 611.38,77.31 611.5,78.24 611.62,77.19 611.74,78.21 611.86,78.27 611.98,76.41 612.1,77.01 612.22,74.43 612.34,77.46 612.46,77.01 612.58,78.84 612.7,77.69 612.82,76.88 612.94,75.62 613.06,78.19 613.18,76.86 613.3,77.26 613.42,76.98 613.54,76.5 613.66,77.78 613.78,78.83 613.9,76.41 614.02,77.44 614.14,77.87 614.26,76.77 614.38,78.62 614.5,78.09 614.62,77.47 614.74,77.12 614.86,76.47 614.98,75.94 615.1,78.16 615.22,76.88 615.34,78.06 615.46,75.75 615.58,76.64 615.7,79.64 615.82,78.71 615.94,77.47 616.06,78.61 616.18,77.99 616.3,78.6 616.42,76.81 616.54,74.48 616.66,76.74 616.78,77.25 616.9,77.16 617.02,78.78 617.14,76.42 617.26,77.56 617.38,75.72 617.5,78.59 617.62,75.75 617.74,79.13 617.86,78.23 617.98,75.51 618.1,78.14 618.22,79.58 618.34,77.03 618.46,78.32 618.58,77.25 618.7,77.76 618.82,78.38 618.94,79.43 619.06,80.59 619.18,75.64 619.3,76.12 619.42,77.06 619.54,77.72 619.66,76.47 619.78,79.03 619.9,75.77 620.02,75.1 620.14,77.6 620.26,74.93 620.38,77.84 620.5,77.14 620.62,75.05 620.74,76.48 620.86,77.73 620.98,78.59 621.1,78.36 621.22,76.59 621.34,77.18 621.46,75.92 621.58,79.83 621.7,76.71 621.82,78.3 621.94,78.6 622.06,76.05 622.18,77.99 622.3,78.46 622.42,79.06 622.54,78.23 622.66,79.64 622.78,78.77 622.9,76.48 623.02,77.99 623.14,75.76 623.26,74.66 623.38,79.62 623.5,77.49 623.62,76.86 623.74,77.58 623.86,78.26 623.98,75.33 624.1,78.72 624.22,77.58 624.34,77.81 624.46,78.41 624.58,77.57 624.7,76.3 624.82,75.98 624.94,79.16 625.06,77.7 625.18,76.69 625.3,76.35 625.42,77.99 625.54,79.12 625.66,78.13 625.78,77.12 625.9,76.79 626.02,80.09 626.14,73.68 626.26,76.39 626.38,76.77 626.5,75.83 626.62,77.33 626.74,79.01 626.86,77.55 626.98,75.12 627.1,75.33 627.22,76.92 627.34,78.07 627.46,78.3 627.58,76.11 627.7,77.99 627.82,76.37 627.94,74.54 628.06,77.79 628.18,76.87 628.3,78.64 628.42,75.48 628.54,77.48 628.66,77.28 628.78,76.35 628.9,75.38 629.02,77.87 629.14,77.01 629.26,79.09 629.38,75.97 629.5,78.41 629.62,74.38 629.74,78.47 629.86,76.21 629.98,77.39 630.1,77.69 630.22,77.6 630.34,75.87 630.46,77.95 630.58,77.82 630.7,77.2 630.82,77.49 630.94,75.92 631.06,77 631.18,77.14 631.3,75.2 631.42,76.52 631.54,78.05 631.66,76.99 631.78,77.19 631.9,75.53 632.02,78.26 632.14,76.32 632.26,76.7 632.38,75.52 632.5,77.59 632.62,76.89 632.74,75.68 632.86,78.22 632.98,77.17 633.1,76.81 633.22,78.47 633.34,76.57 633.46,76.15 633.58,79.76 633.7,77.27 633.82,78.62 633.94,78.22 634.06,75.12 634.18,76.79 634.3,77.19 634.42,76.35 634.54,77.47 634.66,78.65 634.78,76.41 634.9,77.08 635.02,76.99 635.14,77.2 635.26,76.44 635.38,78.07 635.5,75.27 635.62,75.97 635.74,75.58 635.86,77.37 635.98,78.15 636.1,78.35 636.22,78.61 636.34,75.5 636.46,77.05 636.58,78.23 636.7,76.96 636.82,77.88 636.94,77.99 637.06,77.02 637.18,76.35 637.3,76.53 637.42,78.93 637.54,77.35 637.66,76.48 637.78,76.24 637.9,78.43 638.02,75.65 638.14,77.79 638.26,79.88 638.38,77.18 638.5,75.75 638.62,74.8 638.74,78.18 638.86,75.64 638.98,77.46 639.1,79.44 639.22,77.69 639.34,76.9 639.46,76.93 639.58,78.25 639.7,76.33 639.82,76.75 639.94,78.32 640.06,78.77 640.18,76.52 640.3,78.57 640.42,77.49 640.54,75.22 640.66,77.32 640.78,77.2 640.9,76.95 641.02,77.29 641.14,79.25 641.26,77.03 641.38,77.83 641.5,79.22 641.62,76.54 641.74,75.02 641.86,75.51 641.98,75.23 642.1,78.32 642.22,79.09 642.34,76.84 642.46,79.26 642.58,76.59 642.7,78.06 642.82,77.79 642.94,76.15 643.06,76.89 643.18,78.13 643.3,75.34 643.42,76.99 643.54,76.03 643.66,76.01 643.78,77.87 643.9,75.85 644.02,78.72 644.14,77.5 644.26,76.22 644.38,75.35 644.5,78 644.62,77.5 644.74,75.66 644.86,77.73 644.98,76.64 645.1,79.13 645.22,77.81 645.34,76.04 645.46,76.95 645.58,78.98 645.7,78.66 645.82,76.52 645.94,75.16 646.06,78.52 646.18,76.1 646.3,79.75 646.42,75.48 646.54,76.52 646.66,79.15 646.78,77.4 646.9,78.47 647.02,78.69 647.14,74.51 647.26,76.07 647.38,77.96 647.5,77.69 647.62,76.38 647.74,75.72 647.86,77.25 647.98,78.06 648.1,77.93 648.22,75.58 648.34,76.31 648.46,78.45 648.58,78.33 648.7,77.6 648.82,76.45 648.94,78.16 649.06,76.7 649.18,74.67 649.3,75.06 649.42,74.47 649.54,77.24 649.66,78.33 649.78,77.74 649.9,77.55 650.02,75.75 650.14,77.9 650.26,75.65 650.38,76.18 650.5,77.88 650.62,77.68 650.74,75.37 650.86,76.89 650.98,76.54 651.1,76.69 651.22,76.09 651.34,76.4 651.46,76.63 651.58,78.47 651.7,78.75 651.82,77.03 651.94,77.6 652.06,77.91 652.18,76.1 652.3,78.09 652.42,77.25 652.54,75.31 652.66,77.37 652.78,77.26 652.9,76.35 653.02,75.66 653.14,75.83 653.26,76.05 653.38,80.79 653.5,75.54 653.62,76.62 653.74,77.34 653.86,78.28 653.98,75.77 654.1,74.82 654.22,76.78 654.34,74.46 654.46,74.89 654.58,78.41 654.7,77.21 654.82,79.07 654.94,75.45 655.06,76.49 655.18,77.64 655.3,78.58 655.42,77.39 655.54,76.71 655.66,75.54 655.78,77.69 655.9,74.82 656.02,77.88 656.14,77.33 656.26,77.55 656.38,77.13 656.5,79.44 656.62,78.74 656.74,79.09 656.86,75.76 656.98,77.8 657.1,75.58 657.22,77.19 657.34,77.21 657.46,77.46 657.58,77.89 657.7,77.99 657.82,77.26 657.94,77.95 658.06,75.85 658.18,77.9 658.3,79.07 658.42,75.91 658.54,78.22 658.66,76.34 658.78,77.98 658.9,75.83 659.02,78.2 659.14,76.42 659.26,78.39 659.38,77.33 659.5,77.16 659.62,77.73 659.74,76.13 659.86,75.96 659.98,76.89 660.1,77.35 660.22,76.85 660.34,76.86 660.46,75.77 660.58,77.89 660.7,77.22 660.82,76.35 660.94,77.29 661.06,77.98 661.18,77.14 661.3,77.77 661.42,78.38 661.54,78.15 661.66,77.05 661.78,73.81 661.9,77.74 662.02,74.94 662.14,76.67 662.26,76.71 662.38,78.32 662.5,77.5 662.62,76.46 662.74,76.78 662.86,77.85 662.98,75.09 663.1,79.48 663.22,75.87 663.34,75.75 663.46,75.58 663.58,79.79 663.7,75.56 663.82,77.05 663.94,75.14 664.06,78.29 664.18,76.41 664.3,76.47 664.42,76.11 664.54,77.38 664.66,77.92 664.78,78.17 664.9,77.38 665.02,75.65 665.14,77.15 665.26,75.1 665.38,75.7 665.5,77.16 665.62,76.97 665.74,76.65 665.86,75.98 665.98,75.16 666.1,76.09 666.22,76.91 666.34,76.02 666.46,77.03 666.58,76.45 666.7,76.42 666.82,77 666.94,75.34 667.06,75.79 667.18,75.37 667.3,79.3 667.42,77.57 667.54,77.25 667.66,73.86 667.78,76.14 667.9,79.09 668.02,77.06 668.14,75.96 668.26,77.77 668.38,79.69 668.5,76.53 668.62,77.11 668.74,76.3 668.86,76.7 668.98,74.88 669.1,74.52 669.22,77.3 669.34,75.62 669.46,75.89 669.58,76.05 669.7,76.07 669.82,75.98 669.94,75.5 670.06,77.94 670.18,76.14 670.3,77.27 670.42,79.32 670.54,75.54 670.66,78.86 670.78,76.26 670.9,77.53 671.02,76.47 671.14,78.44 671.26,80.39 671.38,77.28 671.5,77.58 671.62,76.86 671.74,79.31 671.86,73.93 671.98,76.24 672.1,76.91 672.22,77.01 672.34,79 672.46,77.99 672.58,75.9 672.7,78.54 672.82,75.85 672.94,73.65 673.06,76.72 673.18,75.28 673.3,76.95 673.42,76.46 673.54,75.87 673.66,77.25 673.78,77.09 673.9,76.95 674.02,77.25 674.14,77.08 674.26,76.08 674.38,77.69 674.5,75.52 674.62,76.41 674.74,77.84 674.86,75.55 674.98,77.42 675.1,77.75 675.22,77.55 675.34,76.47 675.46,78.05 675.58,77.37 675.7,73.18 675.82,76.15 675.94,76.75 676.06,75.27 676.18,75.83 676.3,78.13 676.42,76.48 676.54,77.27 676.66,79.31 676.78,75.33 676.9,76.42 677.02,75.42" fill="none" stroke="#1d6ad8" stroke-width="2.7" stroke-linejoin="round" stroke-linecap="round"/>
<polyline points="347.1,69.55 347.22,68.59 347.34,72.04 347.46,68.68 347.58,69.14 347.7,70.98 347.82,67.86 347.94,68.26 348.06,69.23 348.18,68.59 348.3,67.51 348.42,68.74 348.54,68.55 348.66,69.75 348.78,66.92 348.9,68.12 349.02,70.44 349.14,71.32 349.26,67.11 349.38,69.81 349.5,67.77 349.62,67.93 349.74,67.91 349.86,68.47 349.98,70.25 350.1,69.89 350.22,69.07 350.34,68.55 350.46,69 350.58,68.87 350.7,69.99 350.82,68.21 350.94,68.99 351.06,68.87 351.18,68.93 351.3,69.31 351.42,69.25 351.54,70.67 351.66,68.89 351.78,70.95 351.9,68.62 352.02,68.4 352.14,69.13 352.26,69.44 352.38,69.34 352.5,70.61 352.62,70.42 352.74,69.62 352.86,68.58 352.98,68.87 353.1,70.77 353.22,69.28 353.34,67.36 353.46,68.14 353.58,68.28 353.7,70.44 353.82,68.87 353.94,71.83 354.06,69.82 354.18,69.16 354.3,68.46 354.42,70.22 354.54,68.7 354.66,67.97 354.78,69.71 354.9,69.02 355.02,70.49 355.14,68.91 355.26,65.43 355.38,69.99 355.5,66.65 355.62,70.92 355.74,71.28 355.86,68.47 355.98,67.54 356.1,67.25 356.22,70.09 356.34,68.75 356.46,68.25 356.58,68.7 356.8,69" fill="none" stroke="#2ea35f" stroke-width="2.6" stroke-linejoin="round" stroke-linecap="butt"/>
<polyline points="356.8,69 357,262 357.3,263.5 357.35,257.56 357.4,251.86 357.45,246.38 357.5,241.12 357.55,236.07 357.6,231.21 357.65,226.55 357.7,222.07 357.75,217.77 357.8,213.64 357.85,209.66 357.9,205.85 357.95,202.18 358,198.66 358.05,195.27 358.1,192.01 358.15,188.88 358.2,185.87 358.25,182.97 358.3,180.19 358.35,177.51 358.4,174.93 358.45,172.46 358.5,170.07 358.55,167.78 358.6,165.57 358.65,163.45 358.7,161.4 358.75,159.43" fill="none" stroke="#2ea35f" stroke-width="1.7" stroke-linejoin="round" stroke-linecap="butt"/>
<polyline points="358.75,159.43 358.8,158.32 358.85,155.85 358.9,154.28 358.95,152.63 359,151.14 359.05,149.62 359.1,147.14 359.15,145.95 359.2,144.2 359.25,142.85 359.3,142.79 359.35,140.38 359.4,139.47 359.45,137.81 359.5,136.73 359.55,136.79 359.6,134.67 359.65,133.6 359.7,133.52 359.75,132.59 359.8,131.97 359.85,130.47 359.9,127.57 359.95,129.29 360,128.35 360.05,128.19 360.1,125.25 360.15,128.6 360.2,123.28 360.25,125.05 360.3,123.53 360.35,122.22 360.4,123.23 360.45,121.25 360.5,118.1 360.55,118.99 360.6,120.47 360.65,122.16 360.7,116.99 360.75,118.32 360.8,119.66 360.85,118.13 360.9,116.44 360.95,114.68 361,113.79 361.05,114.66 361.1,114.72 361.15,111.96 361.2,112.26 361.25,114.38 361.3,113.11 361.35,112.31 361.47,111.91 361.59,110.61 361.71,112.04 361.83,112.22 361.95,112.09 362.07,109.74 362.19,109.18 362.31,109.5 362.43,109.29 362.55,108.41 362.67,107.59 362.79,104.79 362.91,103.11 363.03,105.75 363.15,104.1 363.27,103.73 363.39,102.28 363.51,101.37 363.63,104.36 363.75,102.82 363.87,100.54 363.99,102.01 364.11,101.56 364.23,101.49 364.35,103.31 364.47,100.15 364.59,98.28 364.71,99.62 364.83,98.47 364.95,99.67 365.07,98.97 365.19,98.86 365.31,97.44 365.43,98.4 365.55,96.98 365.67,98 365.79,96.72 365.91,95.45 366.03,97.23 366.15,95.48 366.27,97.93 366.39,96.44 366.51,96.24 366.63,95.56 366.75,95.13 366.87,92 366.99,96.3 367.11,93.54 367.23,95.54 367.35,93.34 367.47,93.76 367.59,93.46 367.71,92.24 367.83,93.13 367.95,93.75 368.07,92.44 368.19,91.19 368.31,91.87 368.43,92.72 368.55,93.66 368.67,93.1 368.79,92.24 368.91,90.46 369.03,92.67 369.15,91.4 369.27,90.9 369.39,92.18 369.51,91.65 369.63,91.34 369.75,89.12 369.87,89.64 369.99,88.12 370.11,90.35 370.23,89.99 370.35,90.97 370.47,89.93 370.59,89.06 370.71,92.01 370.83,87.95 370.95,87.43 371.07,88.2 371.19,89.48 371.31,88.26 371.43,88.01 371.55,87.03 371.67,90.14 371.79,87.4 371.91,86.7 372.03,87.77 372.15,86.8 372.27,87.39 372.39,89.23 372.51,86.89 372.63,87.27 372.75,86.75 372.87,86.86 372.99,88.01 373.11,87.54 373.23,86.34 373.35,85.5 373.47,86.38 373.59,87.49 373.71,86.32 373.83,86.08 373.95,83.87 374.07,87.27 374.19,84.07 374.31,84.23 374.43,85.26 374.55,85.68 374.67,85.6 374.79,84.49 374.91,84.96 375.03,84.5 375.15,82.91 375.27,84.76 375.39,84.12 375.51,85.42 375.63,84.63 375.75,85.93 375.87,85.51 375.99,85.68 376.11,85.98 376.23,85.25 376.35,84.09 376.47,85.91 376.59,82.98 376.71,84.01 376.83,85.05 376.95,83.54 377.07,84.72 377.19,82.74 377.31,82.99 377.43,84.28 377.55,84.41 377.67,84.94 377.79,83.29 377.91,83.67 378.03,84.01 378.15,83.74 378.27,81.46 378.39,82.31 378.51,84.75 378.63,81.33 378.75,83.6 378.87,82.21 378.99,83.93 379.11,81.64 379.23,82.61 379.35,79.95 379.47,82.37 379.59,83.7 379.71,80.42 379.83,83.71 379.95,81.28 380.07,82.05 380.19,78.58 380.31,83.34 380.43,80.83 380.55,81.2 380.67,80.21 380.79,80.51 380.91,83.13 381.03,81 381.15,82.7 381.27,81.31 381.39,81.9 381.51,80.78 381.63,81.9 381.75,84.54 381.87,82.07 381.99,81.83 382.11,80.55 382.23,82.36 382.35,82.74 382.47,78.87 382.59,79.22 382.71,83.52 382.83,81.37 382.95,80.95 383.07,81.45 383.19,82.06 383.31,81.65 383.43,80.32 383.55,83.13 383.67,80.52 383.79,79.36 383.91,79.71 384.03,80.2 384.15,79.84 384.27,80.03 384.39,80.62 384.51,76.07 384.63,79.16 384.75,81.28 384.87,80.75 384.99,79.15 385.11,79.18 385.23,81.34 385.35,79.56 385.47,79.17 385.59,82.11 385.71,79.29 385.83,80.56 385.95,79.61 386.07,79.69 386.19,78.4 386.31,78.51 386.43,81.08 386.55,78.04 386.67,79.77 386.79,77.89 386.91,79.05 387.03,79.26 387.15,77.23 387.27,80.65 387.39,78.96 387.51,80.67 387.63,77.95 387.75,80.22 387.87,81.96 387.99,79.28 388.11,78.16 388.23,79.53 388.35,79.08 388.47,78.6 388.59,78.68 388.71,78.07 388.83,79.29 388.95,78.24 389.07,77.62 389.19,79.67 389.31,78.41 389.43,81.89 389.55,78.24 389.67,77.62 389.79,77.8 389.91,78.92 390.03,77.55 390.15,76.81 390.27,80.4 390.39,76.77 390.51,80.18 390.63,78.44 390.75,76.9 390.87,80.28 390.99,77.91 391.11,76.87 391.23,78.18 391.35,79.68 391.47,78.9 391.59,79.04 391.71,80.17 391.83,78.22 391.95,78.39 392.07,77.61 392.19,76.04 392.31,77.65 392.43,79.82 392.55,75.61 392.67,79.43 392.79,78.04 392.91,76.55 393.03,77.74 393.15,79.85 393.27,76.89 393.39,78.56 393.51,78.96 393.63,76.4 393.75,78.28 393.87,78.13 393.99,76.85 394.11,78.27 394.23,76.93 394.35,76.64 394.47,75.79 394.59,77.79 394.71,76.74 394.83,76.55 394.95,75.79 395.07,75.49 395.19,76.19 395.31,78.06 395.43,76.11 395.55,78.9 395.67,77.58 395.79,77.25 395.91,75.52 396.03,79.44 396.15,75.17 396.27,77.62 396.39,79.04 396.51,76.65 396.63,76.02 396.75,76.83 396.87,77.97 396.99,78.5 397.11,77.54 397.23,75.42 397.35,75.89 397.47,76.97 397.59,75.09 397.71,76.36 397.83,79.44 397.95,75.3 398.07,78.05 398.19,75.41 398.31,76.12 398.43,76.44 398.55,74.62 398.67,76.35 398.79,78.08 398.91,77.34 399.03,77.29 399.15,75.39 399.27,76.19 399.39,76.61 399.51,77.18 399.63,77.99 399.75,75.04 399.87,78.39 399.99,75.89 400.11,75.91 400.23,74.69 400.35,76.1 400.47,75.88 400.59,74.6 400.71,75.76 400.83,76.25 400.95,75.57 401.07,77.04 401.19,74.76 401.31,77.13 401.43,75.77 401.55,76.45 401.67,73.65 401.79,76.1 401.91,75.84 402.03,77.07 402.15,74.41 402.27,77.57 402.39,74.49 402.51,77.47 402.63,76.53 402.75,74.84 402.87,78.48 402.99,74.26 403.11,75.52 403.23,75.97 403.35,76.35 403.47,75.96 403.59,76.66 403.71,76.21 403.83,75.66 403.95,74.44 404.07,75.15 404.19,76.69 404.31,74.09 404.43,75.67 404.55,72.95 404.67,74.63 404.79,73.45 404.91,77.02 405.03,73.16 405.15,75.13 405.27,76.32 405.39,76.15 405.51,76.34 405.63,76.69 405.75,75.93 405.87,76.37 405.99,75.24 406.11,75.26 406.23,73.07 406.35,75.47 406.47,76.82 406.59,74.29 406.71,73.74 406.83,75.3 406.95,76.59 407.07,76.67 407.19,73.27 407.31,75.69 407.43,74.29 407.55,75.44 407.67,72.26 407.79,76.21 407.91,74.55 408.03,75.29 408.15,74.79 408.27,73.71 408.39,75.64 408.51,74.37 408.63,74.09 408.75,75.76 408.87,74.82 408.99,74.03 409.11,76.07 409.23,74.14 409.35,74.82 409.47,75.77 409.59,76.01 409.71,76.32 409.83,76.88 409.95,74.85 410.07,73.78 410.19,76.82 410.31,76.49 410.43,74.36 410.55,75.59 410.67,74.23 410.79,72.74 410.91,75.97 411.03,75.09 411.15,74.8 411.27,76.75 411.39,76.41 411.51,73.8 411.63,73.21 411.75,72.21 411.87,74.57 411.99,74.07 412.11,74.99 412.23,74.54 412.35,73.69 412.47,73.99 412.59,72.54 412.71,76.01 412.83,73.79 412.95,75.21 413.07,73.61 413.19,74.51 413.31,75.19 413.43,74.05 413.55,73.36 413.67,77.27 413.79,74.1 413.91,75.05 414.03,74.23 414.15,73.35 414.27,75.94 414.39,74.78 414.51,74.7 414.63,71.42 414.75,74.61 414.87,75.29 414.99,74.58 415.11,74.03 415.23,75.69 415.35,74.5 415.47,74.9 415.59,75.46 415.71,75.41 415.83,72.5 415.95,74.55 416.07,73.17 416.19,71.6 416.31,74.45 416.43,71.91 416.55,73.49 416.67,70.92 416.79,72.77 416.91,73.45 417.03,74.02 417.15,73.34 417.27,72.85 417.39,72.86 417.51,75.9 417.63,73.38 417.75,73.84 417.87,76.3 417.99,71.76 418.11,71.34 418.23,72.64 418.35,73.41 418.47,72.46 418.59,73.83 418.71,73.76 418.83,71.92 418.95,74.05 419.07,72.04 419.19,74.7 419.31,74.09 419.43,76.54 419.55,74.82 419.67,73.52 419.79,74.2 419.91,73.94 420.03,72.82 420.15,71.92 420.27,75.1 420.39,75.61 420.51,73.12 420.63,73.37 420.75,73.08 420.87,74.94 420.99,75.18 421.11,72.56 421.23,73.22 421.35,72.96 421.47,73.89 421.59,74.57 421.71,74.94 421.83,73.25 421.95,72.35 422.07,74.25 422.19,74.31 422.31,73.12 422.43,73.76 422.55,73.99 422.67,74.63 422.79,73.61 422.91,74.12 423.03,73.73 423.15,72.29 423.27,74.36 423.39,73.6 423.51,74.78 423.63,71.97 423.75,72.57 423.87,73.85 423.99,71.29 424.11,73.26 424.23,72.85 424.35,72.89 424.47,73.08 424.59,70.6 424.71,73.43 424.83,73.46 424.95,74.67 425.07,75.16 425.19,73.79 425.31,74.49 425.43,70.33 425.55,74 425.67,74.69 425.79,74.39 425.91,73.59 426.03,72.84 426.15,72.82 426.27,73.29 426.39,73.79 426.51,73.96 426.63,73.12 426.75,71.66 426.87,75.5 426.99,72.13 427.11,69.86 427.23,74.98 427.35,74.46 427.47,73.42 427.59,74.39 427.71,73.72 427.83,72.12 427.95,73.3 428.07,71.6 428.19,72.32 428.31,72.04 428.43,73.31 428.55,74.44 428.67,72.3 428.79,73.67 428.91,70.42 429.03,71.74 429.15,73.74 429.27,74.26 429.39,74.24 429.51,74.39 429.63,70.99 429.75,72.38 429.87,69.8 429.99,72.82 430.11,73.3 430.23,72.58 430.35,71.84 430.47,73.53 430.59,73.65 430.71,73.14 430.83,72.21 430.95,73.01 431.07,73.06 431.19,73.28 431.31,73.72 431.43,72.9 431.55,71.12 431.67,72.57 431.79,73.37 431.91,72.35 432.03,73.17 432.15,72.03 432.27,74.56 432.39,73.38 432.51,73.04 432.63,73.81 432.75,73.81 432.87,72.96 432.99,74.09 433.11,73.65 433.23,73.09 433.35,72.82 433.47,71.43 433.59,73.05 433.71,73.02 433.83,71.75 433.95,74.49 434.07,72.77 434.19,71.43 434.31,72.24 434.43,72.71 434.55,72.71 434.67,71.77 434.79,72.78 434.91,70.91 435.03,72.19 435.15,73.27 435.27,71.87 435.39,73.52 435.51,73.7 435.63,71.95 435.75,69.69 435.87,73.79 435.99,74.36 436.11,70.68 436.23,72.93 436.35,73.07 436.47,70.64 436.59,71.98 436.71,74.21 436.83,72.92 436.95,72.67 437.07,74.09 437.19,71.9 437.31,70.38 437.43,74.32 437.55,71.65 437.67,72.62 437.79,74.07 437.91,72.97 438.03,72.82 438.15,71.85 438.27,73.33 438.39,75.35 438.51,71.88 438.63,71.2 438.75,72.97 438.87,71.67 438.99,72.74 439.11,72.61 439.23,73.19 439.35,72.82 439.47,72.96 439.59,74.15 439.71,71.35 439.83,72.61 439.95,72.95 440.07,71.02 440.19,71.36 440.31,72.12 440.43,71.86 440.55,73.92 440.67,72.68 440.79,76.18 440.91,72.04 441.03,72.11 441.15,75.32 441.27,71.79 441.39,75.23 441.51,68.59 441.63,71.65 441.75,74.23 441.87,74.46 441.99,73.04 442.11,71.65 442.23,72.29 442.35,73.43 442.47,72.85 442.59,73.64 442.71,71.54 442.83,73.48 442.95,74.04 443.07,76.3 443.19,73.34 443.31,73.31 443.43,71.37 443.55,70.74 443.67,69.55 443.79,72.99 443.91,74.94 444.03,72.28 444.15,69.29 444.27,72.63 444.39,72.13 444.51,71.92 444.63,74.58 444.75,73.93 444.87,74.24 444.99,71.38 445.11,72.82 445.23,70.99 445.35,73.79 445.47,70.96 445.59,73.93 445.71,72.66 445.83,72.63 445.95,70.54 446.07,73.22 446.19,70.05 446.31,70.76 446.43,71.15 446.55,74.9 446.67,72.44 446.79,71.45 446.91,72.96 447.03,75.27 447.15,72.09 447.27,70.96 447.39,70.88 447.51,72.2 447.63,74.37 447.75,72.09 447.87,71.96 447.99,71.01 448.11,70.82 448.23,73.55 448.35,72.67 448.47,72.75 448.59,70.5 448.71,72.92 448.83,72.62 448.95,74.11 449.07,73.54 449.19,71.91 449.31,72.61 449.43,72.59 449.55,72.06 449.67,71.09 449.79,73.3 449.91,75 450.03,72.05 450.15,74.22 450.27,71.75 450.39,71.73 450.51,72.12 450.63,71.77 450.75,73.36 450.87,73.59 450.99,68.92 451.11,73.15 451.23,72.62 451.35,74.31 451.47,71 451.59,72.28 451.71,73.64 451.83,73.23 451.95,74.03 452.07,71.12 452.19,71.26 452.31,72.84 452.43,70.37 452.55,72.65 452.67,73.26 452.79,72.51 452.91,70.38 453.03,71.35 453.15,71.67 453.27,72.58 453.39,72.36 453.51,71.5 453.63,69.93 453.75,69.74 453.87,70.76 453.99,70.72 454.11,71.21 454.23,70.65 454.35,71.8 454.47,71.22 454.59,72.22 454.71,71.96 454.83,72.71 454.95,70.75 455.07,70.84 455.19,70.56 455.31,72.06 455.43,72.86 455.55,73.38 455.67,72.15 455.79,71.76 455.91,72.86 456.03,71.86 456.15,70.67 456.27,72.85 456.39,71.39 456.51,70.06 456.63,71.68 456.75,70.87 456.87,71.85 456.99,71 457.11,71.49 457.23,71.13 457.35,71.73 457.47,72.6 457.59,72.19 457.71,71.88 457.83,73.15 457.95,70.17 458.07,72.08 458.19,73.33 458.31,72.56 458.43,73.27 458.55,70.7 458.67,73.29 458.79,70.98 458.91,73.26 459.03,72.16 459.15,72.92 459.27,70.86 459.39,71.57 459.51,69.54 459.63,72.29 459.75,72.77 459.87,72.31 459.99,73.26 460.11,72.61 460.23,72.02 460.35,72.56 460.47,71.18 460.59,73.02 460.71,72.21 460.83,72.28 460.95,71.69 461.07,71.14 461.19,70.68 461.31,71.51 461.43,72.75 461.55,69.65 461.67,72.01 461.79,76.3 461.91,72.15 462.03,71.69 462.15,72.38 462.27,71.73 462.39,72.04 462.51,72.11 462.63,70.68 462.75,73.41 462.87,72.18 462.99,73.31 463.11,72.13 463.23,73.24 463.35,71.99 463.47,75.71 463.59,73.35 463.71,73.58 463.83,71.85 463.95,70.01 464.07,71.54 464.19,72.57 464.31,72.1 464.43,71.22 464.55,70.99 464.67,70.38 464.79,71.34 464.91,72.68 465.03,72.71 465.15,72.68 465.27,71.64 465.39,72.1 465.51,71.84 465.63,72.38 465.75,72.2 465.87,72.6 465.99,71.67 466.11,71.72 466.23,73.53 466.35,73.39 466.47,69.18 466.59,72.21 466.71,72.19 466.83,72.78 466.95,69.09 467.07,69.63 467.19,71.16 467.31,71.81 467.43,70.26 467.55,73.04 467.67,72.91 467.79,72.45 467.91,72.67 468.03,70.2 468.15,71.45 468.27,68.75 468.39,72.82 468.51,73.03 468.63,72.1 468.75,70.37 468.87,71.65 468.99,72.79 469.11,70.09 469.23,71.88 469.35,72.49 469.47,70.66 469.59,70.91 469.71,73.07 469.83,72.54 469.95,73.36 470.07,71.94 470.19,70.42 470.31,71.55 470.43,70.84 470.55,71.3 470.67,72.21 470.79,73.47 470.91,71.81 471.03,73.92 471.15,70.01 471.27,71.39 471.39,71.66 471.51,69.02 471.63,69.63 471.75,71.22 471.87,71.76 471.99,72.16 472.11,71.72 472.23,71.25 472.35,69.94 472.47,71.68 472.59,73.6 472.71,72.17 472.83,70.77 472.95,71.79 473.07,72.14 473.19,73.16 473.31,70.94 473.43,72.23 473.55,72.3 473.67,71.24 473.79,71.49 473.91,71.09 474.03,71.69 474.15,71.93 474.27,70.11 474.39,71.43 474.51,73.48 474.63,71.59 474.75,69.3 474.87,73.39 474.99,71.31 475.11,71.8 475.23,72.25 475.35,71.1 475.47,70.34 475.59,70.69 475.71,71.92 475.83,71.57 475.95,71.23 476.07,74.22 476.19,71.89 476.31,72.77 476.43,74.19 476.55,71.75 476.67,71.09 476.79,71.27 476.91,71.74 477.03,73.8 477.15,72.9 477.27,71.33 477.39,70.89 477.51,72.52 477.63,73.82 477.75,70.87 477.87,73.56 477.99,71.99 478.11,71.61 478.23,71.29 478.35,70.77 478.47,71.02 478.59,73.12 478.71,69.86 478.83,71.05 478.95,71.53 479.07,70.17 479.19,70.98 479.31,69.83 479.43,72.34 479.55,72.36 479.67,69.86 479.79,73.29 479.91,70.31 480.03,69.19 480.15,69.35 480.27,72.09 480.39,68.62 480.51,71.38 480.63,71.79 480.75,72.71 480.87,71.08 480.99,72.93 481.11,70.98 481.23,72.61 481.35,70.28 481.47,71.85 481.59,71.09 481.71,71.7 481.83,74.2 481.95,71.47 482.07,71.53 482.19,71.64 482.31,71.88 482.43,68.75 482.55,72.39 482.67,69.79 482.79,68.98 482.91,71.59 483.03,69.93 483.15,71.75 483.27,72.82 483.39,71.48 483.51,70.21 483.63,71.58 483.75,73.98 483.87,71.53 483.99,73.64 484.11,73.26 484.23,69.97 484.35,72.56 484.47,69.8 484.59,72.14 484.71,72.14 484.83,71.21 484.95,69.47 485.07,70.98 485.19,71.02 485.31,72.02 485.43,71.34 485.55,72.06 485.67,71.03 485.79,69.41 485.91,71.37 486.03,73.15 486.15,70.34 486.27,70.13 486.39,69 486.51,73.72 486.63,70.08 486.75,72.72 486.87,71.6 486.99,71.24 487.11,71.49 487.23,73.72 487.35,73.52 487.47,72.04 487.59,70.86 487.71,73.22 487.83,72.26 487.95,71.54 488.07,72.04 488.19,70.45 488.31,72.32 488.43,71.06 488.55,71.11 488.67,69.95 488.79,71.52 488.91,71.92 489.03,69.56 489.15,71.78 489.27,71.94 489.39,73.01 489.51,72.8 489.63,70.65 489.75,72.91 489.87,72.02 489.99,71.12 490.11,70.43 490.23,72.5 490.35,72.41 490.47,70.81 490.59,71.78 490.71,70.87 490.83,70.42 490.95,70.24 491.07,72.15 491.19,71.76 491.31,71.84 491.43,71.66 491.55,71.45 491.67,72.52 491.79,69.34 491.91,72.37 492.03,69.95 492.15,71.11 492.27,71.5 492.39,71.39 492.51,71.92 492.63,70.26 492.75,73.43 492.87,72.7 492.99,72 493.11,72.24 493.23,70.86 493.35,69.18 493.47,69.44 493.59,71.93 493.71,68.11 493.83,73.27 493.95,71.87 494.07,70.17 494.19,70.66 494.31,69.36 494.43,71.19 494.55,71.8 494.67,72.82 494.79,69.74 494.91,72.65 495.03,71.6 495.15,71.22 495.27,71.36 495.39,71.78 495.51,73.6 495.63,73.16 495.75,72.34 495.87,70.4 495.99,71.04 496.11,72.43 496.23,71.78 496.35,70.34 496.47,73.59 496.59,74.27 496.71,71.98 496.83,70.89 496.95,71.33 497.07,70.07 497.19,69.86 497.31,71.74 497.43,71.03 497.55,72.47 497.67,74.92 497.79,71.92 497.91,71.34 498.03,71.55 498.15,71.89 498.27,73.17 498.39,71.58 498.51,72.42 498.63,70.08 498.75,70.2 498.87,71.13 498.99,72.52 499.11,70.24 499.23,72.98 499.35,70.23 499.47,71.61 499.59,71.33 499.71,73.34 499.83,70.21 499.95,70.31 500.07,71.05 500.19,72.29 500.31,72.24 500.43,69.87 500.55,70.4 500.67,69.81 500.79,73.51 500.91,71.91 501.03,72.18 501.15,68.71 501.27,71.66 501.39,71.09 501.51,72.58 501.63,69.38 501.75,73.15 501.87,72.25 501.99,72.19 502.11,69.94 502.23,73.89 502.35,71.79 502.47,71.86 502.59,71.52 502.71,71.12 502.83,71.69 502.95,71.69 503.07,72.85 503.19,72.16 503.31,70.59 503.43,71.73 503.55,72.7 503.67,70.69 503.79,71.37 503.91,72.88 504.03,72.03 504.15,70.85 504.27,72.22 504.39,72.67 504.51,72.34 504.63,71.71 504.75,73.81 504.87,69.76 504.99,71.89 505.11,72.26 505.23,70.33 505.35,70.5 505.47,70.56 505.59,71.61 505.71,71.3 505.83,72.08 505.95,72.96 506.07,70.66 506.19,71.54 506.31,71.91 506.43,68.92 506.55,71.1 506.67,69.23 506.79,70.33 506.91,70.13 507.03,72.65 507.15,70.52 507.27,70.46 507.39,72.19 507.51,71.08 507.63,69.55 507.75,72.62 507.87,72.47 507.99,70.84 508.11,69.19 508.23,70.37 508.35,70.08 508.47,73.2 508.59,70.32 508.71,72.17 508.83,72.76 508.95,71.59 509.07,71.62 509.19,72.81 509.31,72.21 509.43,69.3 509.55,72.5 509.67,68.46 509.79,70.36 509.91,72.19 510.03,68.89 510.15,72.48 510.27,73.91 510.39,70.92 510.51,68.91 510.63,73.22 510.75,69.97 510.87,69.58 510.99,69.73 511.11,70.45 511.23,70.27 511.35,73.5 511.47,69.93 511.59,68.99 511.71,69.11 511.83,70.52 511.95,73.17 512.07,69.34 512.19,70.82 512.31,71.98 512.43,70.69 512.55,70.74 512.67,70.59 512.79,71.51 512.91,70.14 513.03,72.88 513.15,68.85 513.27,72.26 513.39,72.42 513.51,71.14 513.63,70.7 513.75,72.64 513.87,69.89 513.99,70.81 514.11,70 514.23,71.43 514.35,69.96 514.47,70.3 514.59,71.94 514.71,71.07 514.83,71.41 514.95,73.12 515.07,68.64 515.19,70.4 515.31,71.14 515.43,72.88 515.55,69.78 515.67,70.97 515.79,71.79 515.91,69.78 516.03,70.57 516.15,71.13 516.27,70.47 516.39,71.85 516.51,72.24 516.63,70.63 516.75,71.97 516.87,71.71 516.99,71.15 517.11,70.23 517.23,73.18 517.35,69.78 517.47,71.47 517.59,72.21 517.71,68 517.83,70.32 517.95,68.79 518.07,70.9 518.19,71.94 518.31,70.28 518.43,71.23 518.55,72.04 518.67,70.24 518.79,70.79 518.91,69.85 519.03,71.79 519.15,70.82 519.27,72.98 519.39,72.7 519.51,69.51 519.63,71.4 519.75,71.44 519.87,71.37 519.99,71.63 520.11,70.9 520.23,72.37 520.35,71.99 520.47,71.69 520.59,70.48 520.71,72.61 520.83,69.43 520.95,72.44 521.07,71.94 521.19,70.13 521.31,71.74 521.43,74.12 521.55,71.24 521.67,70.44 521.79,71.42 521.91,71.93 522.03,73.39 522.15,70.96 522.27,72.41 522.39,71.45 522.51,72.73 522.63,71.72 522.75,69.95 522.87,72.12 522.99,72.6 523.11,70.95 523.23,68.59 523.35,70.05 523.47,71.23 523.59,72.06 523.71,70.55 523.83,72.44 523.95,70.54 524.07,69.48 524.19,71.73 524.31,70.34 524.43,72.82 524.55,72.55 524.67,70.68 524.79,70.41 524.91,71.46" fill="none" stroke="#2ea35f" stroke-width="2.6" stroke-linejoin="round" stroke-linecap="round"/>
<polyline points="354,63.99 354.12,65.35 354.24,64.68 354.36,63.23 354.48,61.17 354.6,65.59 354.72,65.87 354.84,62.43 354.96,66.53 355.08,63.84 355.2,67.82 355.32,65.18 355.44,63.96 355.56,66.01 355.68,64.54 355.8,64.57 355.92,64.5 356.04,64.2 356.16,65.22 356.28,65.45 356.4,64.86 356.52,66.76 356.64,62.64 356.8,64.4" fill="none" stroke="#6e3d3d" stroke-width="2.6" stroke-linejoin="round" stroke-linecap="butt"/>
<polyline points="356.8,64.4 357,227.6 357.3,227.6 357.35,223.77 357.4,219.97 357.45,216.21 357.5,212.49 357.55,208.81 357.6,205.17 357.65,201.58 357.7,198.04 357.75,194.54 357.8,191.1 357.85,187.71 357.9,184.37 357.95,181.1 358,177.89 358.05,174.73 358.1,171.65 358.15,168.63 358.2,165.68 358.25,162.8 358.3,160 358.35,157.23 358.4,154.46 358.45,151.7" fill="none" stroke="#6e3d3d" stroke-width="1.7" stroke-linejoin="round" stroke-linecap="butt"/>
<polyline points="358.45,151.7 358.5,148.76 358.55,146.55 358.6,142.94 358.65,141.54 358.7,138.47 358.75,135.36 358.8,133.17 358.85,129.93 358.9,126.81 358.95,125.89 359,123.57 359.05,120.63 359.1,118.24 359.15,114.32 359.2,113.2 359.25,111.43 359.3,110.07 359.35,109.27 359.4,105.66 359.45,103.68 359.5,103.86 359.55,101.24 359.6,98.49 359.65,100.07 359.7,96.38 359.75,95.43 359.8,93.58 359.85,94.09 359.9,93.83 359.95,90.79 360,90.67 360.05,88.46 360.1,91.08 360.15,89.01 360.2,85.35 360.25,85.94 360.3,85.65 360.35,84.24 360.4,82.01 360.45,82.17 360.5,82.79 360.55,81.96 360.6,79.89 360.65,81.25 360.7,79.02 360.75,77.25 360.8,79.93 360.85,80.64 360.9,79.67 360.95,80.72 361,80.8 361.05,78.71 361.1,77.14 361.15,77.66 361.2,75.58 361.25,77.17 361.3,76.86 361.35,76.98 361.47,77.65 361.59,72.98 361.71,76.29 361.83,74.22 361.95,75.61 362.07,74.5 362.19,72.67 362.31,74.95 362.43,72.69 362.55,74.21 362.67,72.69 362.79,72.77 362.91,73.47 363.03,75.74 363.15,74.11 363.27,73.13 363.39,75.27 363.51,73.1 363.63,72.63 363.75,71.71 363.87,73.15 363.99,73.04 364.11,71.97 364.23,70.34 364.35,72.61 364.47,72.91 364.59,72.22 364.71,71.47 364.83,71.29 364.95,72.03 365.07,74.4 365.19,72.81 365.31,70.46 365.43,73.4 365.55,71.96 365.67,75.56 365.79,72.09 365.91,72.39 366.03,72.7 366.15,72.8 366.27,72.47 366.39,72.44 366.51,72.06 366.63,71.6 366.75,71.8 366.87,70.72 366.99,71.54 367.11,71.33 367.23,71.6 367.35,71.56 367.47,71.92 367.59,72.66 367.71,71.64 367.83,72.13 367.95,72.34 368.07,71.55 368.19,71.74 368.31,72.36 368.43,69.66 368.55,72.7 368.67,71.2 368.79,66.99 368.91,72.45 369.03,70.17 369.15,72.86 369.27,70.39 369.39,71.37 369.51,72.49 369.63,70.56 369.75,70.27 369.87,71.39 369.99,73.3 370.11,72.92 370.23,73.29 370.35,71.94 370.47,72.05 370.59,72.79 370.71,72.11 370.83,70.3 370.95,72.34 371.07,70.66 371.19,70.22 371.31,71.44 371.43,71.14 371.55,72.36 371.67,71.57 371.79,70.63 371.91,71.09 372.03,70.41 372.15,70.71 372.27,72.76 372.39,71.64 372.51,70.6 372.63,70.65 372.75,70.28 372.87,70.79 372.99,69.09 373.11,71.8 373.23,70.64 373.35,71.87 373.47,72.21 373.59,71.35 373.71,69.61 373.83,69.33 373.95,71.97 374.07,71.98 374.19,69.08 374.31,69.63 374.43,72.27 374.55,70.93 374.67,73.46 374.79,71.48 374.91,72 375.03,70.67 375.15,70.19 375.27,68.87 375.39,67.23 375.51,72.18 375.63,71.75 375.75,70.05 375.87,72.06 375.99,68.77 376.11,72.71 376.23,71.27 376.35,72.82 376.47,68.43 376.59,72.47 376.71,71.81 376.83,71.03 376.95,69.44 377.07,71.02 377.19,70.89 377.31,69.74 377.43,68.73 377.55,69.11 377.67,69.8 377.79,71.95 377.91,72 378.03,72.64 378.15,71.07 378.27,68.54 378.39,69.44 378.51,68.89 378.63,70.04 378.75,72.15 378.87,70.12 378.99,69.78 379.11,71.01 379.23,71.26 379.35,71.55 379.47,69.06 379.59,69.13 379.71,69.66 379.83,71.21 379.95,70.48 380.07,68.95 380.19,72.66 380.31,69.48 380.43,70.01 380.55,70.03 380.67,69.08 380.79,70.08 380.91,70.19 381.03,70.44 381.15,70.5 381.27,69.38 381.39,68.86 381.51,71.47 381.63,69.75 381.75,71.45 381.87,70.6 381.99,73.48 382.11,69.86 382.23,67.82 382.35,69.55 382.47,71.52 382.59,72.4 382.71,72.19 382.83,70.77 382.95,71.97 383.07,68.6 383.19,69.15 383.31,68.67 383.43,70.65 383.55,71.56 383.67,69.9 383.79,70.39 383.91,69.24 384.03,69.34 384.15,69.97 384.27,71.81 384.39,70.41 384.51,70.45 384.63,71.16 384.75,70.59 384.87,68.81 384.99,71.99 385.11,69.54 385.23,69.73 385.35,69.59 385.47,70.46 385.59,69.39 385.71,70.13 385.83,71.87 385.95,68.6 386.07,67.2 386.19,71.26 386.31,69.93 386.43,70.45 386.55,70.47 386.67,69.07 386.79,69.76 386.91,67.28 387.03,69.38 387.15,69.59 387.27,67.94 387.39,68.55 387.51,69.27 387.63,69.83 387.75,69.18 387.87,71.2 387.99,70.34 388.11,70.42 388.23,67.07 388.35,68.82 388.47,69.59 388.59,68.82 388.71,69.6 388.83,68.55 388.95,68.19 389.07,69.2 389.19,69.37 389.31,68.86 389.43,69.18 389.55,70.48 389.67,69.86 389.79,70.26 389.91,69.97 390.03,69.33 390.15,68.75 390.27,71.54 390.39,69.34 390.51,70.17 390.63,68.35 390.75,67.29 390.87,67.54 390.99,68.72 391.11,67.58 391.23,70.13 391.35,68.55 391.47,68.47 391.59,71.17 391.71,68.6 391.83,68.45 391.95,72.51 392.07,69.57 392.19,69.15 392.31,68.44 392.43,70.63 392.55,70.53 392.67,65.86 392.79,68.93 392.91,69.31 393.03,69.68 393.15,67.28 393.27,68.9 393.39,71.15 393.51,70.4 393.63,67.61 393.75,69.32 393.87,67.93 393.99,69.95 394.11,65.09 394.23,70.04 394.35,69.2 394.47,70.23 394.59,67.33 394.71,68.51 394.83,67.42 394.95,69.46 395.07,69.11 395.19,71.34 395.31,69.81 395.43,65.92 395.55,69.22 395.67,68.96 395.79,70.12 395.91,69.67 396.03,67.76 396.15,68.37 396.27,70.2 396.39,67.76 396.51,68.92 396.63,67.37 396.75,70.16 396.87,70.18 396.99,68.77 397.11,67.41 397.23,68 397.35,68.37 397.47,68.17 397.59,68.94 397.71,66.66 397.83,66.91 397.95,67.31 398.07,69.63 398.19,66.97 398.31,68.67 398.43,69.6 398.55,66.56 398.67,65.93 398.79,65.99 398.91,69.03 399.03,68.86 399.15,68.07 399.27,66.99 399.39,68.38 399.51,66.31 399.63,68.9 399.75,68.32 399.87,68.26 399.99,70.1 400.11,66.9 400.23,66.79 400.35,68.8 400.47,69.67 400.59,66.98 400.71,66.87 400.83,67.99 400.95,68.95 401.07,67.21 401.19,69.43 401.31,70.93 401.43,68.03 401.55,67.46 401.67,70.97 401.79,66.41 401.91,69.6 402.03,69.45 402.15,66.15 402.27,68.98 402.39,69.98 402.51,67.55 402.63,65.07 402.75,67.04 402.87,70.55 402.99,66.7 403.11,69.35 403.23,66.38 403.35,67.38 403.47,67.03 403.59,67.87 403.71,68.65 403.83,68.09 403.95,66.88 404.07,67.91 404.19,67.78 404.31,67.49 404.43,67.26 404.55,67.11 404.67,68.33 404.79,70.76 404.91,68.05 405.03,68.28 405.15,66.83 405.27,67.21 405.39,69.82 405.51,67.5 405.63,68.5 405.75,69.04 405.87,67.18 405.99,69.35 406.11,68.87 406.23,68.68 406.35,66.79 406.47,68.08 406.59,65.41 406.71,68.01 406.83,68.04 406.95,67.32 407.07,68.32 407.19,66.02 407.31,66.93 407.43,65.93 407.55,67.94 407.67,67.2 407.79,69.1 407.91,66.77 408.03,68.43 408.15,67.73 408.27,68.12 408.39,68.7 408.51,69.72 408.63,69.45 408.75,65.97 408.87,68.36 408.99,66.36 409.11,68.08 409.23,66.55 409.35,68.91 409.47,68.68 409.59,67.73 409.71,66.36 409.83,65.57 409.95,65.83 410.07,67.25 410.19,68.38 410.31,68.82 410.43,68.93 410.55,66.39 410.67,67.48 410.79,68.68 410.91,68.26 411.03,67.4 411.15,65.9 411.27,69.83 411.39,67.43 411.51,65.41 411.63,67.97 411.75,67.82 411.87,67.29 411.99,67.38 412.11,65.92 412.23,69.2 412.35,67.35 412.47,65.01 412.59,67.12 412.71,64.03 412.83,67.7 412.95,66.46 413.07,67.88 413.19,68.46 413.31,67.43 413.43,70.6" fill="none" stroke="#6e3d3d" stroke-width="2.6" stroke-linejoin="round" stroke-linecap="round"/>
<polyline points="347.1,66.05 347.22,62.92 347.34,63.65 347.46,64.19 347.58,62.46 347.7,63.6 347.82,63.6 347.94,61.06 348.06,65.08 348.18,64.47 348.3,62.69 348.42,63.35 348.54,64.33 348.66,63.22 348.78,63.25 348.9,61.49 349.02,64.4 349.14,63.78 349.26,64 349.38,61.39 349.5,65.99 349.62,63.82 349.74,63.04 349.86,66.54 349.98,63.53 350.1,61.5 350.22,63.01 350.34,60.28 350.46,65.12 350.58,63 350.7,62.52 350.82,65.16 350.94,61.21 351.06,64.38 351.18,60.61 351.3,62.64 351.42,61.85 351.54,65.72 351.66,66.16 351.78,63.12 351.9,64.82 352.02,63.34 352.14,64.42 352.26,62.51 352.38,61.12 352.5,60.99 352.62,64.16 352.74,66.86 352.86,63.99 352.98,62.84 353.1,66.37 353.22,63.94 353.34,63.75 353.46,63.97 353.58,63.41 353.7,63.15 353.82,61.52 353.94,64.33 354.06,63.46 354.18,65.33 354.3,63.07 354.42,60.84 354.54,63.46 354.66,66.06 354.78,63.04 354.9,62.31 355.02,61.87 355.14,62.08 355.26,63.16 355.38,61.89 355.5,65.77 355.62,63.19 355.74,63.76 355.86,65.69 355.98,65.78 356.1,63.29 356.22,64.08 356.34,64.67 356.46,63.32 356.58,61.02 356.8,63.6" fill="none" stroke="#d39d12" stroke-width="2.8" stroke-linejoin="round" stroke-linecap="butt"/>
<polyline points="356.8,63.6 357,203.5 357.3,203.5 357.35,198.66 357.4,193.88 357.45,189.16 357.5,184.51 357.55,179.93 357.6,175.41 357.65,170.98 357.7,166.61 357.75,162.33 357.8,158.13 357.85,154.02 357.9,150 357.95,145.97 358,141.85 358.05,137.69" fill="none" stroke="#d39d12" stroke-width="1.7" stroke-linejoin="round" stroke-linecap="butt"/>
<polyline points="358.05,137.69 358.1,133.8 358.15,129.8 358.2,125.52 358.25,120.85 358.3,117.43 358.35,113.55 358.4,110.33 358.45,108.29 358.5,105.68 358.55,102.6 358.6,100.44 358.65,98.72 358.7,96.41 358.75,94.7 358.8,92.58 358.85,91.7 358.9,92.66 358.95,89.99 359,87.48 359.05,86.18 359.1,84.63 359.15,85.08 359.2,84.18 359.25,80.99 359.3,82.63 359.35,80.45 359.4,82.41 359.45,79.91 359.5,81.44 359.55,77.56 359.6,77.1 359.65,77.27 359.7,77.72 359.75,76.38 359.8,73.17 359.85,74.65 359.9,73.88 359.95,72.73 360,71.95 360.05,75 360.1,71.51 360.15,70.51 360.2,72.37 360.25,71.39 360.3,70.89 360.35,71.96 360.4,71.37 360.45,71.03 360.5,71.75 360.55,70.61 360.6,69.15 360.65,69.37 360.7,69 360.75,69.92 360.8,67.92 360.85,66.7 360.9,69.36 360.95,67.17 361,66.16 361.05,69.42 361.1,67.73 361.15,69.37 361.2,67.78 361.25,66.82 361.3,66.55 361.35,67.51 361.47,67.65 361.59,66.66 361.71,67.28 361.83,65.3 361.95,67.42 362.07,64.68 362.19,66.9 362.31,68.11 362.43,68.61 362.55,69.47 362.67,64.68 362.79,67.99 362.91,68.59 363.03,68.23 363.15,65.42 363.27,67.33 363.39,69.39 363.51,64.49 363.63,67.32 363.75,68.21 363.87,65.56 363.99,67.38 364.11,64.96 364.23,65.31 364.35,65.28 364.47,66.72 364.59,66.29 364.71,67.78 364.83,65.01 364.95,66.17 365.07,67.74 365.19,67.14 365.31,64.39 365.43,67.26 365.55,65.59 365.67,66.82 365.79,66.69 365.91,68.01 366.03,66.4 366.15,63.53 366.27,64.22 366.39,67.25 366.51,65.81 366.63,67.82 366.75,66.56 366.87,65.06 366.99,67.71 367.11,64.96 367.23,63.15 367.35,69.11 367.47,63.33 367.59,67.02 367.71,67.45 367.83,66.3 367.95,63.63 368.07,67.54 368.19,63.97 368.31,64.11 368.43,65.52 368.55,67.18 368.67,66.47 368.79,67.2 368.91,65.38 369.03,65.77 369.15,64.36 369.27,65.54 369.39,66.86 369.51,65.56 369.63,66.68 369.75,65.15 369.87,65.12 369.99,66.03 370.11,65.68 370.23,66.82 370.35,66.21 370.47,68.47 370.59,65.62 370.71,65.6 370.83,64.42 370.95,65.95 371.07,66.9 371.19,64.83 371.31,65.83 371.43,66.93 371.55,65.7 371.67,65.12 371.79,67.28 371.91,66 372.03,66.43 372.15,67.55 372.27,67.5 372.39,65.33 372.51,65.06 372.63,66.23 372.75,65.62 372.87,63.05 372.99,67.64 373.11,65.81 373.23,66.85 373.35,64.07 373.47,67.63 373.59,64.9 373.71,65.59 373.83,63.71 373.95,65.49 374.07,65.39 374.19,65.45 374.31,66.35 374.43,65.79 374.55,67.11 374.67,65.01 374.79,64.24 374.91,65.65 375.03,66.58 375.15,67.47 375.27,66.83 375.39,63.09 375.51,66.19 375.63,67.75 375.75,65.72 375.87,64.87 375.99,66.06 376.11,64.88 376.23,66.53 376.35,65.58 376.47,67.61 376.59,66.31 376.71,64.53 376.83,66.45 376.95,66.93 377.07,64.74 377.19,64.94 377.31,62.21 377.43,66.86 377.55,64.69 377.67,62.46 377.79,62.96 377.91,65.2 378.03,66.62 378.15,65.38 378.27,66.19 378.39,63.9 378.51,63.55 378.63,66.78 378.75,66.2 378.87,65.44 378.99,67.33 379.11,64.09 379.23,64.86 379.35,66.95 379.47,68.12 379.59,65.46 379.71,67.88 379.83,64.57 379.95,65.91 380.07,65.18 380.19,63.12 380.31,65.79 380.43,66.77 380.55,65.19 380.67,65.3 380.79,67.42 380.91,63.58 381.03,63.22 381.15,64.44 381.27,63.65 381.39,67.33 381.51,65.82 381.63,64.11 381.75,64.47 381.87,69.51 381.99,64.47 382.11,64.24 382.23,65.78 382.35,66.26 382.47,65.66 382.59,64.01 382.71,63.64 382.83,66.18 382.95,65.24 383.07,62.93 383.19,67.01 383.31,66.43 383.43,64.95 383.55,64.92 383.67,65.63 383.79,64.29 383.91,63.33 384.03,65.74 384.15,63.19 384.27,65.84 384.39,63.17 384.51,65.12 384.63,65.06 384.75,67.84 384.87,63.7 384.99,63.19 385.11,64.3 385.23,63.61 385.35,64.38 385.47,65.84 385.59,66.34 385.71,67.63 385.83,64.15 385.95,69.04 386.07,68.08 386.19,64.91 386.31,61.88 386.43,65.08 386.55,65.3 386.67,61.85 386.79,65.29 386.91,64.89 387.03,64.04 387.15,66.08 387.27,66.63 387.39,64.46 387.51,65.49 387.63,64.21 387.75,64.01 387.87,65.26 387.99,65.9 388.11,64.33 388.23,61.93 388.35,65.98 388.47,62.82 388.59,65.3 388.71,67.7 388.83,65.09 388.95,63.39 389.07,62.99 389.19,66.8 389.31,65.08 389.43,65.88 389.55,66.44 389.67,65.02 389.79,64.64 389.91,63.71 390.03,60.61 390.15,62.88 390.27,64.97 390.39,64.82 390.51,65.65 390.63,64.88 390.75,65.29 390.87,66.2 390.99,63.77 391.11,64.63 391.23,62.71 391.35,66.45 391.47,65.09 391.59,65.74 391.71,67.27 391.83,66.59 391.95,64.94 392.07,66.16 392.19,62.94 392.31,65.64 392.43,65.21 392.55,62.66 392.67,66.94 392.79,63.98 392.91,65.99 393.03,64.38 393.15,66.43 393.27,66.89 393.39,63.78 393.51,62.76 393.63,64.79 393.75,66.2 393.87,64.43 393.99,64.08 394.11,65.67 394.23,60.96 394.35,63.99 394.47,62.95 394.59,65.38 394.71,63.88 394.83,63.33 394.95,64.43 395.07,62.81 395.19,64.91 395.31,63.94 395.43,64.38 395.55,63.88 395.67,66.24 395.79,64.76 395.91,65.68 396.03,65.61 396.15,63.74 396.27,65.73 396.39,65.41 396.51,65.36 396.63,64.32 396.75,64.28 396.87,66.03 396.99,68.05 397.11,63.68 397.23,65.66 397.35,64.35 397.47,66.02 397.59,65.51 397.71,66.41 397.83,60.82 397.95,64 398.07,63.43 398.19,64.7 398.31,63.81 398.43,63.93 398.55,65.84 398.67,67.61 398.79,60.75 398.91,64.4 399.03,65.3 399.15,64.85 399.27,64.34 399.39,62.87 399.51,63.47 399.63,65.88 399.75,66.39 399.87,64.97 399.99,63.61 400.11,64.96 400.23,64.47 400.35,65.61 400.47,64.99 400.59,63.91 400.71,65.09 400.83,63.1 400.95,66 401.07,66.52 401.19,63.09 401.31,65.41 401.43,63.36 401.55,66.35 401.67,66.1 401.79,64.46 401.91,66.23 402.03,64.16 402.15,63.85 402.27,63.96 402.39,64.58 402.51,64.31 402.63,65 402.75,63.88 402.87,65.88 402.99,66.25 403.11,64.05 403.23,62.7 403.35,65.82 403.47,66.41 403.59,64.52 403.71,62.89 403.83,65.14 403.95,66.97 404.07,62.03 404.19,65.44 404.31,64.3 404.43,63.51 404.55,65.47 404.67,62.86 404.79,65.17 404.91,66.64 405.03,64.99 405.15,63.47 405.27,62.15 405.39,62.87 405.51,62.06 405.63,67.05 405.75,64.37 405.87,63.21 405.99,62.84 406.11,63.17 406.23,64.23 406.35,62.86 406.47,67.15 406.59,63.63 406.71,63.58 406.83,65.16 406.95,66.81 407.07,66.63 407.19,64 407.31,65.07 407.43,64.92 407.55,65.47 407.67,65.07 407.79,63.33 407.91,62.87 408.03,64.95 408.15,62.98 408.27,66.67 408.39,64.75 408.51,63.2 408.63,64.22 408.75,63.95 408.87,64.49 408.99,66.05 409.11,62.58 409.23,61.97 409.35,65.17 409.47,64.42 409.59,64.91 409.71,65.32 409.83,64.41 409.95,65.83 410.07,63.37 410.19,64.76 410.31,63.46 410.43,63.02 410.55,65.55 410.67,65.48 410.79,61.84 410.91,63.03 411.03,65.08 411.15,66.2 411.27,63.69 411.39,64.38 411.51,62.6 411.63,68.29 411.75,65.34 411.87,65.94 411.99,65.6 412.11,66 412.23,65.52 412.35,64.15 412.47,65.72 412.59,64.75 412.71,66.52 412.83,63.57 412.95,63.85 413.07,65.59 413.19,66.49 413.31,64.84 413.43,63.6" fill="none" stroke="#d39d12" stroke-width="2.8" stroke-linejoin="round" stroke-linecap="round"/>
</g>
<rect x="347.1" y="39.3" width="329" height="271.5" fill="none" stroke="#111" stroke-width="1.25"/>
<line x1="347.1" y1="310.8" x2="347.1" y2="315.8" stroke="#1a1a1a" stroke-width="0.9" />
<line x1="347.1" y1="39.3" x2="347.1" y2="44.3" stroke="#1a1a1a" stroke-width="0.9" />
<text x="347.1" y="326.6" font-size="11" text-anchor="middle" fill="#0d0d0d" font-weight="normal" >0</text>
<line x1="370.6" y1="310.8" x2="370.6" y2="313.4" stroke="#1a1a1a" stroke-width="0.9" />
<line x1="370.6" y1="39.3" x2="370.6" y2="41.9" stroke="#1a1a1a" stroke-width="0.9" />
<line x1="394.1" y1="310.8" x2="394.1" y2="315.8" stroke="#1a1a1a" stroke-width="0.9" />
<line x1="394.1" y1="39.3" x2="394.1" y2="44.3" stroke="#1a1a1a" stroke-width="0.9" />
<text x="394.1" y="326.6" font-size="11" text-anchor="middle" fill="#0d0d0d" font-weight="normal" >50</text>
<line x1="417.6" y1="310.8" x2="417.6" y2="313.4" stroke="#1a1a1a" stroke-width="0.9" />
<line x1="417.6" y1="39.3" x2="417.6" y2="41.9" stroke="#1a1a1a" stroke-width="0.9" />
<line x1="441.1" y1="310.8" x2="441.1" y2="315.8" stroke="#1a1a1a" stroke-width="0.9" />
<line x1="441.1" y1="39.3" x2="441.1" y2="44.3" stroke="#1a1a1a" stroke-width="0.9" />
<text x="441.1" y="326.6" font-size="11" text-anchor="middle" fill="#0d0d0d" font-weight="normal" >100</text>
<line x1="464.6" y1="310.8" x2="464.6" y2="313.4" stroke="#1a1a1a" stroke-width="0.9" />
<line x1="464.6" y1="39.3" x2="464.6" y2="41.9" stroke="#1a1a1a" stroke-width="0.9" />
<line x1="488.1" y1="310.8" x2="488.1" y2="315.8" stroke="#1a1a1a" stroke-width="0.9" />
<line x1="488.1" y1="39.3" x2="488.1" y2="44.3" stroke="#1a1a1a" stroke-width="0.9" />
<text x="488.1" y="326.6" font-size="11" text-anchor="middle" fill="#0d0d0d" font-weight="normal" >150</text>
<line x1="511.6" y1="310.8" x2="511.6" y2="313.4" stroke="#1a1a1a" stroke-width="0.9" />
<line x1="511.6" y1="39.3" x2="511.6" y2="41.9" stroke="#1a1a1a" stroke-width="0.9" />
<line x1="535.1" y1="310.8" x2="535.1" y2="315.8" stroke="#1a1a1a" stroke-width="0.9" />
<line x1="535.1" y1="39.3" x2="535.1" y2="44.3" stroke="#1a1a1a" stroke-width="0.9" />
<text x="535.1" y="326.6" font-size="11" text-anchor="middle" fill="#0d0d0d" font-weight="normal" >200</text>
<line x1="558.6" y1="310.8" x2="558.6" y2="313.4" stroke="#1a1a1a" stroke-width="0.9" />
<line x1="558.6" y1="39.3" x2="558.6" y2="41.9" stroke="#1a1a1a" stroke-width="0.9" />
<line x1="582.1" y1="310.8" x2="582.1" y2="315.8" stroke="#1a1a1a" stroke-width="0.9" />
<line x1="582.1" y1="39.3" x2="582.1" y2="44.3" stroke="#1a1a1a" stroke-width="0.9" />
<text x="582.1" y="326.6" font-size="11" text-anchor="middle" fill="#0d0d0d" font-weight="normal" >250</text>
<line x1="605.6" y1="310.8" x2="605.6" y2="313.4" stroke="#1a1a1a" stroke-width="0.9" />
<line x1="605.6" y1="39.3" x2="605.6" y2="41.9" stroke="#1a1a1a" stroke-width="0.9" />
<line x1="629.1" y1="310.8" x2="629.1" y2="315.8" stroke="#1a1a1a" stroke-width="0.9" />
<line x1="629.1" y1="39.3" x2="629.1" y2="44.3" stroke="#1a1a1a" stroke-width="0.9" />
<text x="629.1" y="326.6" font-size="11" text-anchor="middle" fill="#0d0d0d" font-weight="normal" >300</text>
<line x1="652.6" y1="310.8" x2="652.6" y2="313.4" stroke="#1a1a1a" stroke-width="0.9" />
<line x1="652.6" y1="39.3" x2="652.6" y2="41.9" stroke="#1a1a1a" stroke-width="0.9" />
<line x1="676.1" y1="310.8" x2="676.1" y2="315.8" stroke="#1a1a1a" stroke-width="0.9" />
<line x1="676.1" y1="39.3" x2="676.1" y2="44.3" stroke="#1a1a1a" stroke-width="0.9" />
<text x="676.1" y="326.6" font-size="11" text-anchor="middle" fill="#0d0d0d" font-weight="normal" >350</text>
<line x1="342.1" y1="310.8" x2="347.1" y2="310.8" stroke="#1a1a1a" stroke-width="0.9" />
<line x1="671.1" y1="310.8" x2="676.1" y2="310.8" stroke="#1a1a1a" stroke-width="0.9" />
<text x="339.2" y="314.1" font-size="11" text-anchor="end" fill="#0d0d0d" font-weight="normal" >0.25</text>
<line x1="344.5" y1="289.92" x2="347.1" y2="289.92" stroke="#1a1a1a" stroke-width="0.9" />
<line x1="673.5" y1="289.92" x2="676.1" y2="289.92" stroke="#1a1a1a" stroke-width="0.9" />
<line x1="342.1" y1="269.03" x2="347.1" y2="269.03" stroke="#1a1a1a" stroke-width="0.9" />
<line x1="671.1" y1="269.03" x2="676.1" y2="269.03" stroke="#1a1a1a" stroke-width="0.9" />
<text x="339.2" y="272.33" font-size="11" text-anchor="end" fill="#0d0d0d" font-weight="normal" >0.30</text>
<line x1="344.5" y1="248.15" x2="347.1" y2="248.15" stroke="#1a1a1a" stroke-width="0.9" />
<line x1="673.5" y1="248.15" x2="676.1" y2="248.15" stroke="#1a1a1a" stroke-width="0.9" />
<line x1="342.1" y1="227.26" x2="347.1" y2="227.26" stroke="#1a1a1a" stroke-width="0.9" />
<line x1="671.1" y1="227.26" x2="676.1" y2="227.26" stroke="#1a1a1a" stroke-width="0.9" />
<text x="339.2" y="230.56" font-size="11" text-anchor="end" fill="#0d0d0d" font-weight="normal" >0.35</text>
<line x1="344.5" y1="206.38" x2="347.1" y2="206.38" stroke="#1a1a1a" stroke-width="0.9" />
<line x1="673.5" y1="206.38" x2="676.1" y2="206.38" stroke="#1a1a1a" stroke-width="0.9" />
<line x1="342.1" y1="185.49" x2="347.1" y2="185.49" stroke="#1a1a1a" stroke-width="0.9" />
<line x1="671.1" y1="185.49" x2="676.1" y2="185.49" stroke="#1a1a1a" stroke-width="0.9" />
<text x="339.2" y="188.79" font-size="11" text-anchor="end" fill="#0d0d0d" font-weight="normal" >0.40</text>
<line x1="344.5" y1="164.61" x2="347.1" y2="164.61" stroke="#1a1a1a" stroke-width="0.9" />
<line x1="673.5" y1="164.61" x2="676.1" y2="164.61" stroke="#1a1a1a" stroke-width="0.9" />
<line x1="342.1" y1="143.72" x2="347.1" y2="143.72" stroke="#1a1a1a" stroke-width="0.9" />
<line x1="671.1" y1="143.72" x2="676.1" y2="143.72" stroke="#1a1a1a" stroke-width="0.9" />
<text x="339.2" y="147.02" font-size="11" text-anchor="end" fill="#0d0d0d" font-weight="normal" >0.45</text>
<line x1="344.5" y1="122.84" x2="347.1" y2="122.84" stroke="#1a1a1a" stroke-width="0.9" />
<line x1="673.5" y1="122.84" x2="676.1" y2="122.84" stroke="#1a1a1a" stroke-width="0.9" />
<line x1="342.1" y1="101.95" x2="347.1" y2="101.95" stroke="#1a1a1a" stroke-width="0.9" />
<line x1="671.1" y1="101.95" x2="676.1" y2="101.95" stroke="#1a1a1a" stroke-width="0.9" />
<text x="339.2" y="105.25" font-size="11" text-anchor="end" fill="#0d0d0d" font-weight="normal" >0.50</text>
<line x1="344.5" y1="81.07" x2="347.1" y2="81.07" stroke="#1a1a1a" stroke-width="0.9" />
<line x1="673.5" y1="81.07" x2="676.1" y2="81.07" stroke="#1a1a1a" stroke-width="0.9" />
<line x1="342.1" y1="60.18" x2="347.1" y2="60.18" stroke="#1a1a1a" stroke-width="0.9" />
<line x1="671.1" y1="60.18" x2="676.1" y2="60.18" stroke="#1a1a1a" stroke-width="0.9" />
<text x="339.2" y="63.48" font-size="11" text-anchor="end" fill="#0d0d0d" font-weight="normal" >0.55</text>
<line x1="344.5" y1="39.3" x2="347.1" y2="39.3" stroke="#1a1a1a" stroke-width="0.9" />
<line x1="673.5" y1="39.3" x2="676.1" y2="39.3" stroke="#1a1a1a" stroke-width="0.9" />
<text x="509.2" y="344" font-size="13.5" text-anchor="middle" fill="#0d0d0d" font-weight="normal" textLength="49" lengthAdjust="spacingAndGlyphs">Time (s)</text>
<text x="0" y="0" font-size="13.5" text-anchor="middle" fill="#0d0d0d" font-weight="normal" transform="translate(312.6,175) rotate(-90)" textLength="72" lengthAdjust="spacingAndGlyphs">Absorbance</text>
<text x="307.4" y="48.7" font-size="16.8" text-anchor="start" fill="#000" font-weight="bold" >c</text>
<rect x="371.9" y="213.9" width="46.9" height="88" fill="#fff" stroke="#111" stroke-width="1.15"/>
<text x="400.6" y="225.8" font-size="11" text-anchor="middle" fill="#0d0d0d" font-weight="normal" >RH</text>
<line x1="376" y1="235.2" x2="387.3" y2="235.2" stroke="#e8383e" stroke-width="2.2" />
<text x="393.2" y="239.1" font-size="11" text-anchor="start" fill="#0d0d0d" font-weight="normal" >40%</text>
<line x1="376" y1="249.87" x2="387.3" y2="249.87" stroke="#1d6ad8" stroke-width="2.2" />
<text x="393.2" y="253.77" font-size="11" text-anchor="start" fill="#0d0d0d" font-weight="normal" >50%</text>
<line x1="376" y1="264.54" x2="387.3" y2="264.54" stroke="#2ea35f" stroke-width="2.2" />
<text x="393.2" y="268.44" font-size="11" text-anchor="start" fill="#0d0d0d" font-weight="normal" >60%</text>
<line x1="376" y1="279.21" x2="387.3" y2="279.21" stroke="#6e3d3d" stroke-width="2.2" />
<text x="393.2" y="283.11" font-size="11" text-anchor="start" fill="#0d0d0d" font-weight="normal" >70%</text>
<line x1="376" y1="293.88" x2="387.3" y2="293.88" stroke="#d39d12" stroke-width="2.2" />
<text x="393.2" y="297.78" font-size="11" text-anchor="start" fill="#0d0d0d" font-weight="normal" >75%</text>
<rect x="469.3" y="120.5" width="189" height="151.5" fill="#fff" stroke="none"/>
<g clip-path="url(#clipI)">
<line x1="469.3" y1="244.08" x2="658.3" y2="123.58" stroke="#ec4346" stroke-width="1.1" stroke-dasharray="2.2,1.5"/>
<line x1="469.3" y1="268.75" x2="658.3" y2="135" stroke="#2a78e0" stroke-width="1.1" stroke-dasharray="2.2,1.5"/>
</g>
<circle cx="544.9" cy="195.88" r="2.2" fill="#fff" stroke="#ec4346" stroke-width="1.15"/>
<circle cx="563.8" cy="183.83" r="2.2" fill="#fff" stroke="#ec4346" stroke-width="1.15"/>
<circle cx="582.7" cy="171.78" r="2.2" fill="#fff" stroke="#ec4346" stroke-width="1.15"/>
<circle cx="601.6" cy="159.73" r="2.2" fill="#fff" stroke="#ec4346" stroke-width="1.15"/>
<circle cx="611.05" cy="153.71" r="2.2" fill="#fff" stroke="#ec4346" stroke-width="1.15"/>
<rect x="542.9" y="213.25" width="4" height="4" fill="#fff" stroke="#2a78e0" stroke-width="1.1"/>
<rect x="561.8" y="199.88" width="4" height="4" fill="#fff" stroke="#2a78e0" stroke-width="1.1"/>
<rect x="571.25" y="193.19" width="4" height="4" fill="#fff" stroke="#2a78e0" stroke-width="1.1"/>
<rect x="580.7" y="186.5" width="4" height="4" fill="#fff" stroke="#2a78e0" stroke-width="1.1"/>
<rect x="590.15" y="179.81" width="4" height="4" fill="#fff" stroke="#2a78e0" stroke-width="1.1"/>
<rect x="599.6" y="173.13" width="4" height="4" fill="#fff" stroke="#2a78e0" stroke-width="1.1"/>
<rect x="609.05" y="166.44" width="4" height="4" fill="#fff" stroke="#2a78e0" stroke-width="1.1"/>
<rect x="618.5" y="159.75" width="4" height="4" fill="#fff" stroke="#2a78e0" stroke-width="1.1"/>
<rect x="469.3" y="120.5" width="189" height="151.5" fill="none" stroke="#111" stroke-width="1.2"/>
<line x1="469.3" y1="272" x2="469.3" y2="274.2" stroke="#1a1a1a" stroke-width="0.8" />
<line x1="469.3" y1="120.5" x2="469.3" y2="122.7" stroke="#1a1a1a" stroke-width="0.8" />
<text x="469.3" y="286.9" font-size="10.8" text-anchor="middle" fill="#0d0d0d" font-weight="normal" >0</text>
<line x1="488.2" y1="272" x2="488.2" y2="273.5" stroke="#1a1a1a" stroke-width="0.8" />
<line x1="488.2" y1="120.5" x2="488.2" y2="122" stroke="#1a1a1a" stroke-width="0.8" />
<line x1="507.1" y1="272" x2="507.1" y2="274.2" stroke="#1a1a1a" stroke-width="0.8" />
<line x1="507.1" y1="120.5" x2="507.1" y2="122.7" stroke="#1a1a1a" stroke-width="0.8" />
<text x="507.1" y="286.9" font-size="10.8" text-anchor="middle" fill="#0d0d0d" font-weight="normal" >20</text>
<line x1="526" y1="272" x2="526" y2="273.5" stroke="#1a1a1a" stroke-width="0.8" />
<line x1="526" y1="120.5" x2="526" y2="122" stroke="#1a1a1a" stroke-width="0.8" />
<line x1="544.9" y1="272" x2="544.9" y2="274.2" stroke="#1a1a1a" stroke-width="0.8" />
<line x1="544.9" y1="120.5" x2="544.9" y2="122.7" stroke="#1a1a1a" stroke-width="0.8" />
<text x="544.9" y="286.9" font-size="10.8" text-anchor="middle" fill="#0d0d0d" font-weight="normal" >40</text>
<line x1="563.8" y1="272" x2="563.8" y2="273.5" stroke="#1a1a1a" stroke-width="0.8" />
<line x1="563.8" y1="120.5" x2="563.8" y2="122" stroke="#1a1a1a" stroke-width="0.8" />
<line x1="582.7" y1="272" x2="582.7" y2="274.2" stroke="#1a1a1a" stroke-width="0.8" />
<line x1="582.7" y1="120.5" x2="582.7" y2="122.7" stroke="#1a1a1a" stroke-width="0.8" />
<text x="582.7" y="286.9" font-size="10.8" text-anchor="middle" fill="#0d0d0d" font-weight="normal" >60</text>
<line x1="601.6" y1="272" x2="601.6" y2="273.5" stroke="#1a1a1a" stroke-width="0.8" />
<line x1="601.6" y1="120.5" x2="601.6" y2="122" stroke="#1a1a1a" stroke-width="0.8" />
<line x1="620.5" y1="272" x2="620.5" y2="274.2" stroke="#1a1a1a" stroke-width="0.8" />
<line x1="620.5" y1="120.5" x2="620.5" y2="122.7" stroke="#1a1a1a" stroke-width="0.8" />
<text x="620.5" y="286.9" font-size="10.8" text-anchor="middle" fill="#0d0d0d" font-weight="normal" >80</text>
<line x1="639.4" y1="272" x2="639.4" y2="273.5" stroke="#1a1a1a" stroke-width="0.8" />
<line x1="639.4" y1="120.5" x2="639.4" y2="122" stroke="#1a1a1a" stroke-width="0.8" />
<line x1="658.3" y1="272" x2="658.3" y2="274.2" stroke="#1a1a1a" stroke-width="0.8" />
<line x1="658.3" y1="120.5" x2="658.3" y2="122.7" stroke="#1a1a1a" stroke-width="0.8" />
<text x="658.3" y="286.9" font-size="10.8" text-anchor="middle" fill="#0d0d0d" font-weight="normal" >100</text>
<line x1="466.9" y1="272" x2="469.3" y2="272" stroke="#1a1a1a" stroke-width="0.9" />
<line x1="655.9" y1="272" x2="658.3" y2="272" stroke="#1a1a1a" stroke-width="0.9" />
<line x1="469.3" y1="265.48" x2="470.8" y2="265.48" stroke="#1a1a1a" stroke-width="0.75" />
<line x1="656.8" y1="265.48" x2="658.3" y2="265.48" stroke="#1a1a1a" stroke-width="0.75" />
<line x1="469.3" y1="261.67" x2="470.8" y2="261.67" stroke="#1a1a1a" stroke-width="0.75" />
<line x1="656.8" y1="261.67" x2="658.3" y2="261.67" stroke="#1a1a1a" stroke-width="0.75" />
<line x1="469.3" y1="258.97" x2="470.8" y2="258.97" stroke="#1a1a1a" stroke-width="0.75" />
<line x1="656.8" y1="258.97" x2="658.3" y2="258.97" stroke="#1a1a1a" stroke-width="0.75" />
<line x1="469.3" y1="256.87" x2="470.8" y2="256.87" stroke="#1a1a1a" stroke-width="0.75" />
<line x1="656.8" y1="256.87" x2="658.3" y2="256.87" stroke="#1a1a1a" stroke-width="0.75" />
<line x1="469.3" y1="255.16" x2="470.8" y2="255.16" stroke="#1a1a1a" stroke-width="0.75" />
<line x1="656.8" y1="255.16" x2="658.3" y2="255.16" stroke="#1a1a1a" stroke-width="0.75" />
<line x1="469.3" y1="253.71" x2="470.8" y2="253.71" stroke="#1a1a1a" stroke-width="0.75" />
<line x1="656.8" y1="253.71" x2="658.3" y2="253.71" stroke="#1a1a1a" stroke-width="0.75" />
<line x1="469.3" y1="252.45" x2="470.8" y2="252.45" stroke="#1a1a1a" stroke-width="0.75" />
<line x1="656.8" y1="252.45" x2="658.3" y2="252.45" stroke="#1a1a1a" stroke-width="0.75" />
<line x1="469.3" y1="251.35" x2="470.8" y2="251.35" stroke="#1a1a1a" stroke-width="0.75" />
<line x1="656.8" y1="251.35" x2="658.3" y2="251.35" stroke="#1a1a1a" stroke-width="0.75" />
<line x1="466.9" y1="250.36" x2="469.3" y2="250.36" stroke="#1a1a1a" stroke-width="0.9" />
<line x1="655.9" y1="250.36" x2="658.3" y2="250.36" stroke="#1a1a1a" stroke-width="0.9" />
<line x1="469.3" y1="243.84" x2="470.8" y2="243.84" stroke="#1a1a1a" stroke-width="0.75" />
<line x1="656.8" y1="243.84" x2="658.3" y2="243.84" stroke="#1a1a1a" stroke-width="0.75" />
<line x1="469.3" y1="240.03" x2="470.8" y2="240.03" stroke="#1a1a1a" stroke-width="0.75" />
<line x1="656.8" y1="240.03" x2="658.3" y2="240.03" stroke="#1a1a1a" stroke-width="0.75" />
<line x1="469.3" y1="237.33" x2="470.8" y2="237.33" stroke="#1a1a1a" stroke-width="0.75" />
<line x1="656.8" y1="237.33" x2="658.3" y2="237.33" stroke="#1a1a1a" stroke-width="0.75" />
<line x1="469.3" y1="235.23" x2="470.8" y2="235.23" stroke="#1a1a1a" stroke-width="0.75" />
<line x1="656.8" y1="235.23" x2="658.3" y2="235.23" stroke="#1a1a1a" stroke-width="0.75" />
<line x1="469.3" y1="233.52" x2="470.8" y2="233.52" stroke="#1a1a1a" stroke-width="0.75" />
<line x1="656.8" y1="233.52" x2="658.3" y2="233.52" stroke="#1a1a1a" stroke-width="0.75" />
<line x1="469.3" y1="232.07" x2="470.8" y2="232.07" stroke="#1a1a1a" stroke-width="0.75" />
<line x1="656.8" y1="232.07" x2="658.3" y2="232.07" stroke="#1a1a1a" stroke-width="0.75" />
<line x1="469.3" y1="230.81" x2="470.8" y2="230.81" stroke="#1a1a1a" stroke-width="0.75" />
<line x1="656.8" y1="230.81" x2="658.3" y2="230.81" stroke="#1a1a1a" stroke-width="0.75" />
<line x1="469.3" y1="229.7" x2="470.8" y2="229.7" stroke="#1a1a1a" stroke-width="0.75" />
<line x1="656.8" y1="229.7" x2="658.3" y2="229.7" stroke="#1a1a1a" stroke-width="0.75" />
<line x1="466.9" y1="228.71" x2="469.3" y2="228.71" stroke="#1a1a1a" stroke-width="0.9" />
<line x1="655.9" y1="228.71" x2="658.3" y2="228.71" stroke="#1a1a1a" stroke-width="0.9" />
<line x1="469.3" y1="222.2" x2="470.8" y2="222.2" stroke="#1a1a1a" stroke-width="0.75" />
<line x1="656.8" y1="222.2" x2="658.3" y2="222.2" stroke="#1a1a1a" stroke-width="0.75" />
<line x1="469.3" y1="218.39" x2="470.8" y2="218.39" stroke="#1a1a1a" stroke-width="0.75" />
<line x1="656.8" y1="218.39" x2="658.3" y2="218.39" stroke="#1a1a1a" stroke-width="0.75" />
<line x1="469.3" y1="215.68" x2="470.8" y2="215.68" stroke="#1a1a1a" stroke-width="0.75" />
<line x1="656.8" y1="215.68" x2="658.3" y2="215.68" stroke="#1a1a1a" stroke-width="0.75" />
<line x1="469.3" y1="213.59" x2="470.8" y2="213.59" stroke="#1a1a1a" stroke-width="0.75" />
<line x1="656.8" y1="213.59" x2="658.3" y2="213.59" stroke="#1a1a1a" stroke-width="0.75" />
<line x1="469.3" y1="211.87" x2="470.8" y2="211.87" stroke="#1a1a1a" stroke-width="0.75" />
<line x1="656.8" y1="211.87" x2="658.3" y2="211.87" stroke="#1a1a1a" stroke-width="0.75" />
<line x1="469.3" y1="210.42" x2="470.8" y2="210.42" stroke="#1a1a1a" stroke-width="0.75" />
<line x1="656.8" y1="210.42" x2="658.3" y2="210.42" stroke="#1a1a1a" stroke-width="0.75" />
<line x1="469.3" y1="209.17" x2="470.8" y2="209.17" stroke="#1a1a1a" stroke-width="0.75" />
<line x1="656.8" y1="209.17" x2="658.3" y2="209.17" stroke="#1a1a1a" stroke-width="0.75" />
<line x1="469.3" y1="208.06" x2="470.8" y2="208.06" stroke="#1a1a1a" stroke-width="0.75" />
<line x1="656.8" y1="208.06" x2="658.3" y2="208.06" stroke="#1a1a1a" stroke-width="0.75" />
<line x1="466.9" y1="207.07" x2="469.3" y2="207.07" stroke="#1a1a1a" stroke-width="0.9" />
<line x1="655.9" y1="207.07" x2="658.3" y2="207.07" stroke="#1a1a1a" stroke-width="0.9" />
<line x1="469.3" y1="200.56" x2="470.8" y2="200.56" stroke="#1a1a1a" stroke-width="0.75" />
<line x1="656.8" y1="200.56" x2="658.3" y2="200.56" stroke="#1a1a1a" stroke-width="0.75" />
<line x1="469.3" y1="196.75" x2="470.8" y2="196.75" stroke="#1a1a1a" stroke-width="0.75" />
<line x1="656.8" y1="196.75" x2="658.3" y2="196.75" stroke="#1a1a1a" stroke-width="0.75" />
<line x1="469.3" y1="194.04" x2="470.8" y2="194.04" stroke="#1a1a1a" stroke-width="0.75" />
<line x1="656.8" y1="194.04" x2="658.3" y2="194.04" stroke="#1a1a1a" stroke-width="0.75" />
<line x1="469.3" y1="191.94" x2="470.8" y2="191.94" stroke="#1a1a1a" stroke-width="0.75" />
<line x1="656.8" y1="191.94" x2="658.3" y2="191.94" stroke="#1a1a1a" stroke-width="0.75" />
<line x1="469.3" y1="190.23" x2="470.8" y2="190.23" stroke="#1a1a1a" stroke-width="0.75" />
<line x1="656.8" y1="190.23" x2="658.3" y2="190.23" stroke="#1a1a1a" stroke-width="0.75" />
<line x1="469.3" y1="188.78" x2="470.8" y2="188.78" stroke="#1a1a1a" stroke-width="0.75" />
<line x1="656.8" y1="188.78" x2="658.3" y2="188.78" stroke="#1a1a1a" stroke-width="0.75" />
<line x1="469.3" y1="187.53" x2="470.8" y2="187.53" stroke="#1a1a1a" stroke-width="0.75" />
<line x1="656.8" y1="187.53" x2="658.3" y2="187.53" stroke="#1a1a1a" stroke-width="0.75" />
<line x1="469.3" y1="186.42" x2="470.8" y2="186.42" stroke="#1a1a1a" stroke-width="0.75" />
<line x1="656.8" y1="186.42" x2="658.3" y2="186.42" stroke="#1a1a1a" stroke-width="0.75" />
<line x1="466.9" y1="185.43" x2="469.3" y2="185.43" stroke="#1a1a1a" stroke-width="0.9" />
<line x1="655.9" y1="185.43" x2="658.3" y2="185.43" stroke="#1a1a1a" stroke-width="0.9" />
<line x1="469.3" y1="178.91" x2="470.8" y2="178.91" stroke="#1a1a1a" stroke-width="0.75" />
<line x1="656.8" y1="178.91" x2="658.3" y2="178.91" stroke="#1a1a1a" stroke-width="0.75" />
<line x1="469.3" y1="175.1" x2="470.8" y2="175.1" stroke="#1a1a1a" stroke-width="0.75" />
<line x1="656.8" y1="175.1" x2="658.3" y2="175.1" stroke="#1a1a1a" stroke-width="0.75" />
<line x1="469.3" y1="172.4" x2="470.8" y2="172.4" stroke="#1a1a1a" stroke-width="0.75" />
<line x1="656.8" y1="172.4" x2="658.3" y2="172.4" stroke="#1a1a1a" stroke-width="0.75" />
<line x1="469.3" y1="170.3" x2="470.8" y2="170.3" stroke="#1a1a1a" stroke-width="0.75" />
<line x1="656.8" y1="170.3" x2="658.3" y2="170.3" stroke="#1a1a1a" stroke-width="0.75" />
<line x1="469.3" y1="168.59" x2="470.8" y2="168.59" stroke="#1a1a1a" stroke-width="0.75" />
<line x1="656.8" y1="168.59" x2="658.3" y2="168.59" stroke="#1a1a1a" stroke-width="0.75" />
<line x1="469.3" y1="167.14" x2="470.8" y2="167.14" stroke="#1a1a1a" stroke-width="0.75" />
<line x1="656.8" y1="167.14" x2="658.3" y2="167.14" stroke="#1a1a1a" stroke-width="0.75" />
<line x1="469.3" y1="165.88" x2="470.8" y2="165.88" stroke="#1a1a1a" stroke-width="0.75" />
<line x1="656.8" y1="165.88" x2="658.3" y2="165.88" stroke="#1a1a1a" stroke-width="0.75" />
<line x1="469.3" y1="164.78" x2="470.8" y2="164.78" stroke="#1a1a1a" stroke-width="0.75" />
<line x1="656.8" y1="164.78" x2="658.3" y2="164.78" stroke="#1a1a1a" stroke-width="0.75" />
<line x1="466.9" y1="163.79" x2="469.3" y2="163.79" stroke="#1a1a1a" stroke-width="0.9" />
<line x1="655.9" y1="163.79" x2="658.3" y2="163.79" stroke="#1a1a1a" stroke-width="0.9" />
<line x1="469.3" y1="157.27" x2="470.8" y2="157.27" stroke="#1a1a1a" stroke-width="0.75" />
<line x1="656.8" y1="157.27" x2="658.3" y2="157.27" stroke="#1a1a1a" stroke-width="0.75" />
<line x1="469.3" y1="153.46" x2="470.8" y2="153.46" stroke="#1a1a1a" stroke-width="0.75" />
<line x1="656.8" y1="153.46" x2="658.3" y2="153.46" stroke="#1a1a1a" stroke-width="0.75" />
<line x1="469.3" y1="150.76" x2="470.8" y2="150.76" stroke="#1a1a1a" stroke-width="0.75" />
<line x1="656.8" y1="150.76" x2="658.3" y2="150.76" stroke="#1a1a1a" stroke-width="0.75" />
<line x1="469.3" y1="148.66" x2="470.8" y2="148.66" stroke="#1a1a1a" stroke-width="0.75" />
<line x1="656.8" y1="148.66" x2="658.3" y2="148.66" stroke="#1a1a1a" stroke-width="0.75" />
<line x1="469.3" y1="146.94" x2="470.8" y2="146.94" stroke="#1a1a1a" stroke-width="0.75" />
<line x1="656.8" y1="146.94" x2="658.3" y2="146.94" stroke="#1a1a1a" stroke-width="0.75" />
<line x1="469.3" y1="145.5" x2="470.8" y2="145.5" stroke="#1a1a1a" stroke-width="0.75" />
<line x1="656.8" y1="145.5" x2="658.3" y2="145.5" stroke="#1a1a1a" stroke-width="0.75" />
<line x1="469.3" y1="144.24" x2="470.8" y2="144.24" stroke="#1a1a1a" stroke-width="0.75" />
<line x1="656.8" y1="144.24" x2="658.3" y2="144.24" stroke="#1a1a1a" stroke-width="0.75" />
<line x1="469.3" y1="143.13" x2="470.8" y2="143.13" stroke="#1a1a1a" stroke-width="0.75" />
<line x1="656.8" y1="143.13" x2="658.3" y2="143.13" stroke="#1a1a1a" stroke-width="0.75" />
<line x1="466.9" y1="142.14" x2="469.3" y2="142.14" stroke="#1a1a1a" stroke-width="0.9" />
<line x1="655.9" y1="142.14" x2="658.3" y2="142.14" stroke="#1a1a1a" stroke-width="0.9" />
<line x1="469.3" y1="135.63" x2="470.8" y2="135.63" stroke="#1a1a1a" stroke-width="0.75" />
<line x1="656.8" y1="135.63" x2="658.3" y2="135.63" stroke="#1a1a1a" stroke-width="0.75" />
<line x1="469.3" y1="131.82" x2="470.8" y2="131.82" stroke="#1a1a1a" stroke-width="0.75" />
<line x1="656.8" y1="131.82" x2="658.3" y2="131.82" stroke="#1a1a1a" stroke-width="0.75" />
<line x1="469.3" y1="129.11" x2="470.8" y2="129.11" stroke="#1a1a1a" stroke-width="0.75" />
<line x1="656.8" y1="129.11" x2="658.3" y2="129.11" stroke="#1a1a1a" stroke-width="0.75" />
<line x1="469.3" y1="127.02" x2="470.8" y2="127.02" stroke="#1a1a1a" stroke-width="0.75" />
<line x1="656.8" y1="127.02" x2="658.3" y2="127.02" stroke="#1a1a1a" stroke-width="0.75" />
<line x1="469.3" y1="125.3" x2="470.8" y2="125.3" stroke="#1a1a1a" stroke-width="0.75" />
<line x1="656.8" y1="125.3" x2="658.3" y2="125.3" stroke="#1a1a1a" stroke-width="0.75" />
<line x1="469.3" y1="123.85" x2="470.8" y2="123.85" stroke="#1a1a1a" stroke-width="0.75" />
<line x1="656.8" y1="123.85" x2="658.3" y2="123.85" stroke="#1a1a1a" stroke-width="0.75" />
<line x1="469.3" y1="122.6" x2="470.8" y2="122.6" stroke="#1a1a1a" stroke-width="0.75" />
<line x1="656.8" y1="122.6" x2="658.3" y2="122.6" stroke="#1a1a1a" stroke-width="0.75" />
<line x1="469.3" y1="121.49" x2="470.8" y2="121.49" stroke="#1a1a1a" stroke-width="0.75" />
<line x1="656.8" y1="121.49" x2="658.3" y2="121.49" stroke="#1a1a1a" stroke-width="0.75" />
<line x1="467.1" y1="120.5" x2="469.3" y2="120.5" stroke="#1a1a1a" stroke-width="0.6" />
<text x="463.3" y="125.5" font-size="11.3" text-anchor="end" fill="#0d0d0d">10<tspan font-size="8" dy="-4.6">2</tspan></text>
<text x="463.3" y="168.79" font-size="11.3" text-anchor="end" fill="#0d0d0d">10<tspan font-size="8" dy="-4.6">0</tspan></text>
<text x="463.3" y="212.07" font-size="11.3" text-anchor="end" fill="#0d0d0d">10<tspan font-size="8" dy="-4.6">-2</tspan></text>
<text x="463.3" y="255.36" font-size="11.3" text-anchor="end" fill="#0d0d0d">10<tspan font-size="8" dy="-4.6">-4</tspan></text>
<text x="563.4" y="302.4" font-size="13.2" text-anchor="middle" fill="#0d0d0d" font-weight="normal" >RH (%)</text>
<text transform="translate(439,196.7) rotate(-90)" font-size="14.5" text-anchor="middle" fill="#0d0d0d">k (s<tspan font-size="9.5" dy="-6.5">-1</tspan><tspan dy="6.5">)</tspan></text>
<path d="M0.1,1.5 C0.5,0.5 1.7,0.1 2.0,1.1 L2.1,4.3 C2.2,5.9 3.0,6.6 4.0,6.6 C5.7,6.6 6.8,5.0 6.8,3.0 C6.8,1.7 6.5,0.8 5.9,0.0" transform="translate(480.2,137.7)" fill="none" stroke="#ec4346" stroke-width="1.15"/>
<path d="M0.1,1.5 C0.5,0.5 1.7,0.1 2.0,1.1 L2.1,4.3 C2.2,5.9 3.0,6.6 4.0,6.6 C5.7,6.6 6.8,5.0 6.8,3.0 C6.8,1.7 6.5,0.8 5.9,0.0" transform="translate(582.0,247.8)" fill="none" stroke="#2a78e0" stroke-width="1.15"/>
<text x="490.6" y="144.2" font-size="13.5" text-anchor="start" fill="#ec4346" font-weight="normal" textLength="53.2" lengthAdjust="spacingAndGlyphs">= 0.1282</text>
<text x="592.6" y="254.1" font-size="13.5" text-anchor="start" fill="#2a78e0" font-weight="normal" textLength="53.2" lengthAdjust="spacingAndGlyphs">= 0.1423</text>
<text x="579.35" y="134.3" font-size="11" text-anchor="middle" fill="#ec4346" font-weight="normal" textLength="36" lengthAdjust="spacingAndGlyphs">CN-OH</text>
<text x="626.1" y="197.3" font-size="10.8" text-anchor="middle" fill="#2a78e0" font-weight="normal" >2PAP</text>
<polygon points="519.72,182.3 509.5,188.2 499.28,182.3 499.28,170.5 509.5,164.6 519.72,170.5" fill="none" stroke="#ec4346" stroke-width="1.1" stroke-linejoin="round"/>
<line x1="502.02" y1="171.46" x2="508.96" y2="167.45" stroke="#ec4346" stroke-width="1.1" stroke-linecap="round"/>
<line x1="517.52" y1="172.39" x2="517.52" y2="180.41" stroke="#ec4346" stroke-width="1.1" stroke-linecap="round"/>
<line x1="508.96" y1="185.35" x2="502.02" y2="181.34" stroke="#ec4346" stroke-width="1.1" stroke-linecap="round"/>
<text x="484.8" y="192.83" font-size="9.8" text-anchor="middle" fill="#ec4346" font-weight="bold" >HO</text>
<line x1="499.28" y1="182.3" x2="491" y2="186.6" stroke="#ec4346" stroke-width="1.1" stroke-linecap="round"/>
<text x="529.4" y="167.13" font-size="9.8" text-anchor="middle" fill="#ec4346" font-weight="bold" >N</text>
<text x="538.9" y="175.13" font-size="9.8" text-anchor="middle" fill="#ec4346" font-weight="bold" >N</text>
<line x1="519.72" y1="170.5" x2="526.47" y2="165.69" stroke="#ec4346" stroke-width="1.1" stroke-linecap="round"/>
<line x1="531.51" y1="166.68" x2="535.5" y2="170.05" stroke="#ec4346" stroke-width="1.1" stroke-linecap="round"/>
<line x1="532.8" y1="165.15" x2="536.79" y2="168.52" stroke="#ec4346" stroke-width="1.1" stroke-linecap="round"/>
<polygon points="568.13,164.5 558.6,170 549.07,164.5 549.07,153.5 558.6,148 568.13,153.5" fill="none" stroke="#ec4346" stroke-width="1.1" stroke-linejoin="round"/>
<line x1="551.7" y1="154.53" x2="558.18" y2="150.79" stroke="#ec4346" stroke-width="1.1" stroke-linecap="round"/>
<line x1="565.93" y1="155.26" x2="565.93" y2="162.74" stroke="#ec4346" stroke-width="1.1" stroke-linecap="round"/>
<line x1="558.18" y1="167.21" x2="551.7" y2="163.47" stroke="#ec4346" stroke-width="1.1" stroke-linecap="round"/>
<line x1="541.85" y1="169.54" x2="549.07" y2="164.5" stroke="#ec4346" stroke-width="1.1" stroke-linecap="round"/>
<line x1="568.13" y1="153.5" x2="584.87" y2="143.81" stroke="#ec4346" stroke-width="1.1" stroke-linecap="round"/>
<line x1="576.41" y1="150.44" x2="585.62" y2="145.1" stroke="#ec4346" stroke-width="1.1" stroke-linecap="round"/>
<line x1="574.91" y1="147.84" x2="584.12" y2="142.51" stroke="#ec4346" stroke-width="1.1" stroke-linecap="round"/>
<text x="589.2" y="144.83" font-size="9.8" text-anchor="middle" fill="#ec4346" font-weight="bold" >N</text>
<polygon points="576.01,239.85 566.4,245.4 556.79,239.85 556.79,228.75 566.4,223.2 576.01,228.75" fill="none" stroke="#2a78e0" stroke-width="1.1" stroke-linejoin="round"/>
<line x1="559.43" y1="229.77" x2="565.96" y2="225.99" stroke="#2a78e0" stroke-width="1.1" stroke-linecap="round"/>
<line x1="573.81" y1="230.53" x2="573.81" y2="238.07" stroke="#2a78e0" stroke-width="1.1" stroke-linecap="round"/>
<line x1="565.96" y1="242.61" x2="559.43" y2="238.83" stroke="#2a78e0" stroke-width="1.1" stroke-linecap="round"/>
<text x="542.8" y="249.93" font-size="9.8" text-anchor="middle" fill="#2a78e0" font-weight="bold" >HO</text>
<line x1="556.79" y1="239.85" x2="549" y2="243.6" stroke="#2a78e0" stroke-width="1.1" stroke-linecap="round"/>
<text x="586.7" y="224.13" font-size="9.8" text-anchor="middle" fill="#2a78e0" font-weight="bold" >N</text>
<text x="596.3" y="234.43" font-size="9.8" text-anchor="middle" fill="#2a78e0" font-weight="bold" >N</text>
<line x1="576.01" y1="228.75" x2="583.84" y2="222.78" stroke="#2a78e0" stroke-width="1.1" stroke-linecap="round"/>
<line x1="588.42" y1="223.92" x2="593.11" y2="228.95" stroke="#2a78e0" stroke-width="1.1" stroke-linecap="round"/>
<line x1="589.89" y1="222.55" x2="594.58" y2="227.58" stroke="#2a78e0" stroke-width="1.1" stroke-linecap="round"/>
<polygon points="625.43,222.7 615.9,228.2 606.37,222.7 606.37,211.7 615.9,206.2 625.43,211.7" fill="none" stroke="#2a78e0" stroke-width="1.1" stroke-linejoin="round"/>
<line x1="609" y1="212.73" x2="615.48" y2="208.99" stroke="#2a78e0" stroke-width="1.1" stroke-linecap="round"/>
<line x1="623.23" y1="213.46" x2="623.23" y2="220.94" stroke="#2a78e0" stroke-width="1.1" stroke-linecap="round"/>
<line x1="615.48" y1="225.41" x2="609" y2="221.67" stroke="#2a78e0" stroke-width="1.1" stroke-linecap="round"/>
<line x1="599.09" y1="228.63" x2="606.37" y2="222.7" stroke="#2a78e0" stroke-width="1.1" stroke-linecap="round"/>
<line x1="625.43" y1="211.7" x2="636.3" y2="205.9" stroke="#2a78e0" stroke-width="1.1" stroke-linecap="round"/>
<line x1="636.3" y1="205.9" x2="646.2" y2="211.8" stroke="#2a78e0" stroke-width="1.1" stroke-linecap="round"/>
</svg></body></html>
